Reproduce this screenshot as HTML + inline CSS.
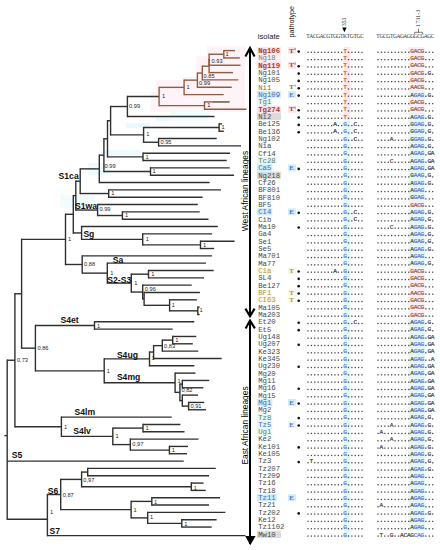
<!DOCTYPE html>
<html><head><meta charset="utf-8">
<style>
html,body{margin:0;padding:0;background:#fff;}
body{width:440px;height:550px;overflow:hidden;}
svg{display:block;}
text{font-family:"Liberation Sans",sans-serif;}
.nl{font-size:5.7px;fill:#262626;}
.cl{font-size:8.6px;font-weight:bold;fill:#111;}
.lin{font-size:8.4px;fill:#000;}
.iso{font-family:"Liberation Mono",monospace;font-size:7.3px;}
.pt{font-family:"Liberation Serif",serif;font-size:6.2px;font-weight:bold;}
.sq{font-family:"Liberation Mono",monospace;font-size:6.2px;text-anchor:middle;stroke-width:0.22px;}
.hd{font-size:7.2px;fill:#222;}
.hs{font-family:"Liberation Serif",serif;font-size:5.6px;fill:#333;text-anchor:middle;}
.sm{font-family:"Liberation Serif",serif;font-size:5.4px;fill:#222;}
</style></head>
<body><svg width="440" height="550" viewBox="0 0 440 550">
<rect width="440" height="550" fill="#fff"/>
<rect x="207" y="46" width="38" height="11" fill="#fef3f7"/>
<rect x="196" y="56" width="49" height="21" fill="#fef3f7"/>
<rect x="182" y="77" width="63" height="15" fill="#fef3f7"/>
<rect x="156" y="80" width="30" height="32" fill="#fef3f7"/>
<rect x="182" y="92" width="63" height="20" fill="#fef3f7"/>
<rect x="151" y="92" width="9" height="20" fill="#fef3f7"/>
<rect x="126" y="123" width="24" height="5" fill="#e8fafd"/>
<rect x="156" y="116" width="20" height="5" fill="#e8fafd"/>
<rect x="170" y="110" width="38" height="11" fill="#f2fbfd"/>
<rect x="102" y="150" width="38" height="6" fill="#eefafd"/>
<rect x="88" y="163" width="22" height="12" fill="#effafd"/>
<rect x="60" y="195" width="35" height="13" fill="#f2fcfd"/>
<rect x="256.8" y="47.00" width="24.20" height="7.2" fill="#fbe3ea"/>
<rect x="288" y="47.10" width="8" height="7" fill="#fbe3ea"/>
<rect x="256.8" y="54.33" width="24.20" height="7.2" fill="#fdf0f4"/>
<rect x="256.8" y="61.66" width="24.20" height="7.2" fill="#fbe3ea"/>
<rect x="288" y="61.76" width="8" height="7" fill="#fbe3ea"/>
<rect x="256.8" y="90.98" width="24.30" height="7.2" fill="#cdeff6"/>
<rect x="288" y="91.08" width="8" height="7" fill="#cdeff6"/>
<rect x="256.8" y="98.31" width="15.54" height="7.2" fill="#e6f7f4"/>
<rect x="256.8" y="105.64" width="24.20" height="7.2" fill="#fbe3ea"/>
<rect x="288" y="105.74" width="8" height="7" fill="#fbe3ea"/>
<rect x="256.8" y="112.97" width="24.20" height="7.2" fill="#dcdcdc"/>
<rect x="256.8" y="156.95" width="19.92" height="7.2" fill="#e6f7f4"/>
<rect x="256.8" y="164.28" width="15.54" height="7.2" fill="#cdeff6"/>
<rect x="288" y="164.38" width="8" height="7" fill="#cdeff6"/>
<rect x="256.8" y="171.61" width="24.20" height="7.2" fill="#dcdcdc"/>
<rect x="256.8" y="208.26" width="15.54" height="7.2" fill="#cdeff6"/>
<rect x="288" y="208.36" width="8" height="7" fill="#cdeff6"/>
<rect x="256.8" y="266.90" width="15.54" height="7.2" fill="#fdf8ec"/>
<rect x="288" y="267.00" width="8" height="7" fill="#fdf8ec"/>
<rect x="256.8" y="288.89" width="15.54" height="7.2" fill="#fdf8ec"/>
<rect x="288" y="288.99" width="8" height="7" fill="#fdf8ec"/>
<rect x="256.8" y="296.22" width="19.92" height="7.2" fill="#fdf8ec"/>
<rect x="288" y="296.32" width="8" height="7" fill="#fdf8ec"/>
<rect x="256.8" y="398.84" width="15.54" height="7.2" fill="#cdeff6"/>
<rect x="288" y="398.94" width="8" height="7" fill="#cdeff6"/>
<rect x="256.8" y="413.50" width="15.54" height="7.2" fill="#e6f7f4"/>
<rect x="256.8" y="420.83" width="15.54" height="7.2" fill="#e6f7f4"/>
<rect x="288" y="420.93" width="8" height="7" fill="#e6f7f4"/>
<rect x="256.8" y="428.16" width="15.54" height="7.2" fill="#e6f7f4"/>
<rect x="256.8" y="494.13" width="19.92" height="7.2" fill="#cdeff6"/>
<rect x="288" y="494.23" width="8" height="7" fill="#cdeff6"/>
<rect x="256.8" y="530.78" width="24.20" height="7.2" fill="#dcdcdc"/>
<rect x="343.5" y="46.90" width="7" height="73.37" fill="#fce6ee"/>
<rect x="343.5" y="120.20" width="7" height="417.88" fill="#e4f8f6"/>
<rect x="408.4" y="46.90" width="16.4" height="44.05" fill="#fcedf2"/>
<rect x="408.4" y="90.88" width="16.4" height="7.40" fill="#e2f6f8"/>
<rect x="408.4" y="98.21" width="16.4" height="14.73" fill="#fcedf2"/>
<rect x="408.4" y="112.87" width="16.4" height="88.03" fill="#e2f6f8"/>
<rect x="408.4" y="200.83" width="16.4" height="7.40" fill="#fcedf2"/>
<rect x="408.4" y="208.16" width="16.4" height="58.71" fill="#e2f6f8"/>
<rect x="408.4" y="266.80" width="16.4" height="51.38" fill="#fcedf2"/>
<rect x="408.4" y="318.11" width="16.4" height="212.64" fill="#e2f6f8"/>
<line x1="7.20" y1="359.54" x2="7.20" y2="520.00" stroke="#303030" stroke-width="1.4"/>
<line x1="7.20" y1="360.24" x2="14.90" y2="360.24" stroke="#303030" stroke-width="1.4"/>
<line x1="14.90" y1="293.07" x2="14.90" y2="427.42" stroke="#303030" stroke-width="1.4"/>
<line x1="14.90" y1="293.77" x2="21.60" y2="293.77" stroke="#303030" stroke-width="1.4"/>
<line x1="21.60" y1="238.68" x2="21.60" y2="348.85" stroke="#303030" stroke-width="1.4"/>
<line x1="21.60" y1="239.38" x2="65.50" y2="239.38" stroke="#303030" stroke-width="1.4"/>
<line x1="65.50" y1="213.57" x2="65.50" y2="265.19" stroke="#303030" stroke-width="1.4"/>
<line x1="65.50" y1="214.27" x2="73.30" y2="214.27" stroke="#303030" stroke-width="1.4"/>
<line x1="73.30" y1="194.91" x2="73.30" y2="233.63" stroke="#303030" stroke-width="1.4"/>
<line x1="73.30" y1="195.61" x2="75.80" y2="195.61" stroke="#303030" stroke-width="1.4"/>
<line x1="75.80" y1="180.50" x2="75.80" y2="210.73" stroke="#303030" stroke-width="1.4"/>
<line x1="75.80" y1="181.20" x2="80.20" y2="181.20" stroke="#303030" stroke-width="1.4"/>
<line x1="80.20" y1="168.16" x2="80.20" y2="194.23" stroke="#303030" stroke-width="1.4"/>
<line x1="80.20" y1="168.86" x2="99.30" y2="168.86" stroke="#303030" stroke-width="1.4"/>
<line x1="99.30" y1="154.47" x2="99.30" y2="183.24" stroke="#303030" stroke-width="1.4"/>
<line x1="99.30" y1="155.17" x2="103.90" y2="155.17" stroke="#303030" stroke-width="1.4"/>
<line x1="103.90" y1="138.10" x2="103.90" y2="172.25" stroke="#303030" stroke-width="1.4"/>
<line x1="103.90" y1="138.80" x2="107.50" y2="138.80" stroke="#303030" stroke-width="1.4"/>
<line x1="107.50" y1="120.01" x2="107.50" y2="157.58" stroke="#303030" stroke-width="1.4"/>
<line x1="107.50" y1="120.71" x2="110.60" y2="120.71" stroke="#303030" stroke-width="1.4"/>
<line x1="110.60" y1="105.82" x2="110.60" y2="135.59" stroke="#303030" stroke-width="1.4"/>
<line x1="110.60" y1="106.52" x2="127.40" y2="106.52" stroke="#303030" stroke-width="1.4"/>
<line x1="127.40" y1="95.77" x2="127.40" y2="117.27" stroke="#303030" stroke-width="1.4"/>
<line x1="127.40" y1="96.47" x2="159.10" y2="96.47" stroke="#303030" stroke-width="1.4"/>
<line x1="159.10" y1="86.66" x2="159.10" y2="106.28" stroke="#8e5c42" stroke-width="1.4"/>
<line x1="159.10" y1="87.36" x2="184.10" y2="87.36" stroke="#8e5c42" stroke-width="1.4"/>
<line x1="184.10" y1="79.45" x2="184.10" y2="95.28" stroke="#8e5c42" stroke-width="1.4"/>
<line x1="184.10" y1="80.15" x2="197.40" y2="80.15" stroke="#8e5c42" stroke-width="1.4"/>
<line x1="197.40" y1="72.35" x2="197.40" y2="87.95" stroke="#8e5c42" stroke-width="1.4"/>
<line x1="197.40" y1="73.05" x2="202.30" y2="73.05" stroke="#8e5c42" stroke-width="1.4"/>
<line x1="202.30" y1="65.48" x2="202.30" y2="80.62" stroke="#8e5c42" stroke-width="1.4"/>
<line x1="202.30" y1="66.18" x2="209.10" y2="66.18" stroke="#8e5c42" stroke-width="1.4"/>
<line x1="209.10" y1="59.06" x2="209.10" y2="73.29" stroke="#8e5c42" stroke-width="1.4"/>
<line x1="209.10" y1="59.06" x2="209.10" y2="60.46" stroke="#8e5c42" stroke-width="1.4"/>
<line x1="209.10" y1="53.56" x2="209.10" y2="65.96" stroke="#8e5c42" stroke-width="1.4"/>
<line x1="209.10" y1="54.27" x2="223.80" y2="54.27" stroke="#8e5c42" stroke-width="1.4"/>
<line x1="223.80" y1="49.90" x2="223.80" y2="58.63" stroke="#8e5c42" stroke-width="1.4"/>
<line x1="223.80" y1="50.60" x2="235.00" y2="50.60" stroke="#8e5c42" stroke-width="1.4"/>
<line x1="223.80" y1="57.93" x2="239.80" y2="57.93" stroke="#8e5c42" stroke-width="1.4"/>
<line x1="209.10" y1="65.26" x2="240.50" y2="65.26" stroke="#8e5c42" stroke-width="1.4"/>
<line x1="209.10" y1="72.59" x2="233.00" y2="72.59" stroke="#8e5c42" stroke-width="1.4"/>
<line x1="202.30" y1="79.92" x2="238.40" y2="79.92" stroke="#8e5c42" stroke-width="1.4"/>
<line x1="197.40" y1="87.25" x2="231.70" y2="87.25" stroke="#8e5c42" stroke-width="1.4"/>
<line x1="184.10" y1="94.58" x2="223.70" y2="94.58" stroke="#8e5c42" stroke-width="1.4"/>
<line x1="159.10" y1="105.58" x2="204.50" y2="105.58" stroke="#8e5c42" stroke-width="1.4"/>
<line x1="204.50" y1="101.21" x2="204.50" y2="109.94" stroke="#8e5c42" stroke-width="1.4"/>
<line x1="204.50" y1="101.91" x2="229.50" y2="101.91" stroke="#8e5c42" stroke-width="1.4"/>
<line x1="204.50" y1="109.24" x2="246.50" y2="109.24" stroke="#8e5c42" stroke-width="1.4"/>
<line x1="127.40" y1="116.57" x2="214.50" y2="116.57" stroke="#303030" stroke-width="1.4"/>
<line x1="110.60" y1="134.90" x2="143.60" y2="134.90" stroke="#303030" stroke-width="1.4"/>
<line x1="143.60" y1="126.86" x2="143.60" y2="142.93" stroke="#303030" stroke-width="1.4"/>
<line x1="143.60" y1="127.56" x2="219.10" y2="127.56" stroke="#303030" stroke-width="1.4"/>
<line x1="219.10" y1="123.20" x2="219.10" y2="131.93" stroke="#303030" stroke-width="1.4"/>
<line x1="219.10" y1="123.90" x2="222.00" y2="123.90" stroke="#303030" stroke-width="1.4"/>
<line x1="219.10" y1="131.23" x2="223.80" y2="131.23" stroke="#303030" stroke-width="1.4"/>
<line x1="143.60" y1="142.23" x2="158.60" y2="142.23" stroke="#303030" stroke-width="1.4"/>
<line x1="158.60" y1="137.86" x2="158.60" y2="146.59" stroke="#303030" stroke-width="1.4"/>
<line x1="158.60" y1="138.56" x2="216.70" y2="138.56" stroke="#303030" stroke-width="1.4"/>
<line x1="158.60" y1="145.89" x2="241.00" y2="145.89" stroke="#303030" stroke-width="1.4"/>
<line x1="107.50" y1="156.88" x2="143.00" y2="156.88" stroke="#303030" stroke-width="1.4"/>
<line x1="143.00" y1="152.52" x2="143.00" y2="161.25" stroke="#303030" stroke-width="1.4"/>
<line x1="143.00" y1="153.22" x2="230.00" y2="153.22" stroke="#303030" stroke-width="1.4"/>
<line x1="143.00" y1="160.55" x2="226.70" y2="160.55" stroke="#303030" stroke-width="1.4"/>
<line x1="103.90" y1="171.55" x2="150.50" y2="171.55" stroke="#303030" stroke-width="1.4"/>
<line x1="150.50" y1="167.18" x2="150.50" y2="175.91" stroke="#303030" stroke-width="1.4"/>
<line x1="150.50" y1="167.88" x2="229.70" y2="167.88" stroke="#303030" stroke-width="1.4"/>
<line x1="150.50" y1="175.21" x2="234.00" y2="175.21" stroke="#303030" stroke-width="1.4"/>
<line x1="99.30" y1="182.54" x2="209.60" y2="182.54" stroke="#303030" stroke-width="1.4"/>
<line x1="80.20" y1="193.53" x2="108.70" y2="193.53" stroke="#303030" stroke-width="1.4"/>
<line x1="108.70" y1="189.17" x2="108.70" y2="197.90" stroke="#303030" stroke-width="1.4"/>
<line x1="108.70" y1="189.87" x2="221.00" y2="189.87" stroke="#303030" stroke-width="1.4"/>
<line x1="108.70" y1="197.20" x2="202.60" y2="197.20" stroke="#303030" stroke-width="1.4"/>
<line x1="75.80" y1="210.03" x2="97.60" y2="210.03" stroke="#303030" stroke-width="1.4"/>
<line x1="97.60" y1="203.83" x2="97.60" y2="216.22" stroke="#303030" stroke-width="1.4"/>
<line x1="97.60" y1="204.53" x2="197.80" y2="204.53" stroke="#303030" stroke-width="1.4"/>
<line x1="97.60" y1="215.52" x2="122.40" y2="215.52" stroke="#303030" stroke-width="1.4"/>
<line x1="122.40" y1="211.16" x2="122.40" y2="219.89" stroke="#303030" stroke-width="1.4"/>
<line x1="122.40" y1="211.86" x2="199.70" y2="211.86" stroke="#303030" stroke-width="1.4"/>
<line x1="122.40" y1="219.19" x2="208.50" y2="219.19" stroke="#303030" stroke-width="1.4"/>
<line x1="73.30" y1="232.93" x2="81.60" y2="232.93" stroke="#303030" stroke-width="1.4"/>
<line x1="81.60" y1="225.82" x2="81.60" y2="240.05" stroke="#303030" stroke-width="1.4"/>
<line x1="81.60" y1="226.52" x2="217.80" y2="226.52" stroke="#303030" stroke-width="1.4"/>
<line x1="81.60" y1="239.35" x2="142.70" y2="239.35" stroke="#303030" stroke-width="1.4"/>
<line x1="142.70" y1="233.15" x2="142.70" y2="245.54" stroke="#303030" stroke-width="1.4"/>
<line x1="142.70" y1="233.85" x2="212.10" y2="233.85" stroke="#303030" stroke-width="1.4"/>
<line x1="142.70" y1="244.84" x2="200.50" y2="244.84" stroke="#303030" stroke-width="1.4"/>
<line x1="200.50" y1="240.48" x2="200.50" y2="249.21" stroke="#303030" stroke-width="1.4"/>
<line x1="200.50" y1="241.18" x2="234.60" y2="241.18" stroke="#303030" stroke-width="1.4"/>
<line x1="200.50" y1="248.51" x2="214.20" y2="248.51" stroke="#303030" stroke-width="1.4"/>
<line x1="65.50" y1="264.49" x2="82.20" y2="264.49" stroke="#303030" stroke-width="1.4"/>
<line x1="82.20" y1="255.14" x2="82.20" y2="273.83" stroke="#303030" stroke-width="1.4"/>
<line x1="82.20" y1="255.84" x2="212.10" y2="255.84" stroke="#303030" stroke-width="1.4"/>
<line x1="82.20" y1="273.13" x2="107.30" y2="273.13" stroke="#303030" stroke-width="1.4"/>
<line x1="107.30" y1="262.47" x2="107.30" y2="283.80" stroke="#303030" stroke-width="1.4"/>
<line x1="107.30" y1="263.17" x2="206.00" y2="263.17" stroke="#303030" stroke-width="1.4"/>
<line x1="107.30" y1="283.10" x2="131.30" y2="283.10" stroke="#303030" stroke-width="1.4"/>
<line x1="131.30" y1="273.46" x2="131.30" y2="292.73" stroke="#303030" stroke-width="1.4"/>
<line x1="131.30" y1="274.16" x2="148.50" y2="274.16" stroke="#303030" stroke-width="1.4"/>
<line x1="148.50" y1="269.80" x2="148.50" y2="278.53" stroke="#303030" stroke-width="1.4"/>
<line x1="148.50" y1="270.50" x2="213.60" y2="270.50" stroke="#303030" stroke-width="1.4"/>
<line x1="148.50" y1="277.83" x2="204.00" y2="277.83" stroke="#303030" stroke-width="1.4"/>
<line x1="131.30" y1="292.03" x2="142.70" y2="292.03" stroke="#303030" stroke-width="1.4"/>
<line x1="142.70" y1="284.46" x2="142.70" y2="299.60" stroke="#303030" stroke-width="1.4"/>
<line x1="142.70" y1="285.16" x2="191.70" y2="285.16" stroke="#303030" stroke-width="1.4"/>
<line x1="142.70" y1="298.90" x2="144.10" y2="298.90" stroke="#303030" stroke-width="1.4"/>
<line x1="144.10" y1="291.79" x2="144.10" y2="306.02" stroke="#303030" stroke-width="1.4"/>
<line x1="144.10" y1="292.49" x2="199.90" y2="292.49" stroke="#303030" stroke-width="1.4"/>
<line x1="144.10" y1="305.32" x2="169.60" y2="305.32" stroke="#303030" stroke-width="1.4"/>
<line x1="169.60" y1="299.12" x2="169.60" y2="311.52" stroke="#303030" stroke-width="1.4"/>
<line x1="169.60" y1="299.82" x2="196.80" y2="299.82" stroke="#303030" stroke-width="1.4"/>
<line x1="169.60" y1="310.82" x2="197.80" y2="310.82" stroke="#303030" stroke-width="1.4"/>
<line x1="197.80" y1="306.45" x2="197.80" y2="315.18" stroke="#303030" stroke-width="1.4"/>
<line x1="197.80" y1="307.15" x2="199.60" y2="307.15" stroke="#303030" stroke-width="1.4"/>
<line x1="197.80" y1="314.48" x2="199.60" y2="314.48" stroke="#303030" stroke-width="1.4"/>
<line x1="21.60" y1="348.15" x2="35.40" y2="348.15" stroke="#303030" stroke-width="1.4"/>
<line x1="35.40" y1="324.78" x2="35.40" y2="371.53" stroke="#303030" stroke-width="1.4"/>
<line x1="35.40" y1="325.48" x2="94.50" y2="325.48" stroke="#303030" stroke-width="1.4"/>
<line x1="94.50" y1="321.11" x2="94.50" y2="329.84" stroke="#303030" stroke-width="1.4"/>
<line x1="94.50" y1="321.81" x2="194.30" y2="321.81" stroke="#303030" stroke-width="1.4"/>
<line x1="94.50" y1="329.14" x2="172.70" y2="329.14" stroke="#303030" stroke-width="1.4"/>
<line x1="35.40" y1="370.83" x2="104.20" y2="370.83" stroke="#303030" stroke-width="1.4"/>
<line x1="104.20" y1="358.22" x2="104.20" y2="383.44" stroke="#303030" stroke-width="1.4"/>
<line x1="104.20" y1="358.92" x2="149.50" y2="358.92" stroke="#303030" stroke-width="1.4"/>
<line x1="149.50" y1="351.35" x2="149.50" y2="366.49" stroke="#303030" stroke-width="1.4"/>
<line x1="149.50" y1="352.05" x2="153.60" y2="352.05" stroke="#303030" stroke-width="1.4"/>
<line x1="153.60" y1="344.93" x2="153.60" y2="359.16" stroke="#303030" stroke-width="1.4"/>
<line x1="153.60" y1="345.63" x2="162.30" y2="345.63" stroke="#303030" stroke-width="1.4"/>
<line x1="162.30" y1="339.44" x2="162.30" y2="351.83" stroke="#303030" stroke-width="1.4"/>
<line x1="162.30" y1="340.13" x2="172.70" y2="340.13" stroke="#303030" stroke-width="1.4"/>
<line x1="172.70" y1="335.77" x2="172.70" y2="344.50" stroke="#303030" stroke-width="1.4"/>
<line x1="172.70" y1="336.47" x2="196.30" y2="336.47" stroke="#303030" stroke-width="1.4"/>
<line x1="172.70" y1="343.80" x2="192.80" y2="343.80" stroke="#303030" stroke-width="1.4"/>
<line x1="162.30" y1="351.13" x2="198.20" y2="351.13" stroke="#303030" stroke-width="1.4"/>
<line x1="153.60" y1="358.46" x2="221.60" y2="358.46" stroke="#303030" stroke-width="1.4"/>
<line x1="149.50" y1="365.79" x2="194.40" y2="365.79" stroke="#303030" stroke-width="1.4"/>
<line x1="104.20" y1="382.74" x2="175.10" y2="382.74" stroke="#303030" stroke-width="1.4"/>
<line x1="175.10" y1="372.42" x2="175.10" y2="393.06" stroke="#303030" stroke-width="1.4"/>
<line x1="175.10" y1="373.12" x2="195.50" y2="373.12" stroke="#303030" stroke-width="1.4"/>
<line x1="175.10" y1="392.36" x2="179.90" y2="392.36" stroke="#303030" stroke-width="1.4"/>
<line x1="179.90" y1="383.42" x2="179.90" y2="401.31" stroke="#303030" stroke-width="1.4"/>
<line x1="179.90" y1="384.12" x2="182.30" y2="384.12" stroke="#303030" stroke-width="1.4"/>
<line x1="182.30" y1="379.75" x2="182.30" y2="388.48" stroke="#303030" stroke-width="1.4"/>
<line x1="182.30" y1="380.45" x2="209.20" y2="380.45" stroke="#303030" stroke-width="1.4"/>
<line x1="182.30" y1="387.78" x2="203.30" y2="387.78" stroke="#303030" stroke-width="1.4"/>
<line x1="179.90" y1="400.61" x2="182.30" y2="400.61" stroke="#303030" stroke-width="1.4"/>
<line x1="182.30" y1="394.41" x2="182.30" y2="406.81" stroke="#303030" stroke-width="1.4"/>
<line x1="182.30" y1="395.11" x2="198.00" y2="395.11" stroke="#303030" stroke-width="1.4"/>
<line x1="182.30" y1="406.11" x2="188.60" y2="406.11" stroke="#303030" stroke-width="1.4"/>
<line x1="188.60" y1="401.74" x2="188.60" y2="410.47" stroke="#303030" stroke-width="1.4"/>
<line x1="188.60" y1="402.44" x2="204.20" y2="402.44" stroke="#303030" stroke-width="1.4"/>
<line x1="188.60" y1="409.77" x2="206.00" y2="409.77" stroke="#303030" stroke-width="1.4"/>
<line x1="14.90" y1="426.72" x2="61.40" y2="426.72" stroke="#303030" stroke-width="1.4"/>
<line x1="61.40" y1="416.40" x2="61.40" y2="437.04" stroke="#303030" stroke-width="1.4"/>
<line x1="61.40" y1="417.10" x2="171.70" y2="417.10" stroke="#303030" stroke-width="1.4"/>
<line x1="61.40" y1="436.34" x2="112.80" y2="436.34" stroke="#303030" stroke-width="1.4"/>
<line x1="112.80" y1="427.40" x2="112.80" y2="445.29" stroke="#303030" stroke-width="1.4"/>
<line x1="112.80" y1="428.10" x2="143.00" y2="428.10" stroke="#303030" stroke-width="1.4"/>
<line x1="143.00" y1="423.73" x2="143.00" y2="432.46" stroke="#303030" stroke-width="1.4"/>
<line x1="143.00" y1="424.43" x2="180.40" y2="424.43" stroke="#303030" stroke-width="1.4"/>
<line x1="143.00" y1="431.76" x2="184.50" y2="431.76" stroke="#303030" stroke-width="1.4"/>
<line x1="112.80" y1="444.59" x2="130.30" y2="444.59" stroke="#303030" stroke-width="1.4"/>
<line x1="130.30" y1="438.39" x2="130.30" y2="450.79" stroke="#303030" stroke-width="1.4"/>
<line x1="130.30" y1="439.09" x2="198.50" y2="439.09" stroke="#303030" stroke-width="1.4"/>
<line x1="130.30" y1="450.09" x2="169.40" y2="450.09" stroke="#303030" stroke-width="1.4"/>
<line x1="169.40" y1="445.72" x2="169.40" y2="454.45" stroke="#303030" stroke-width="1.4"/>
<line x1="169.40" y1="446.42" x2="188.00" y2="446.42" stroke="#303030" stroke-width="1.4"/>
<line x1="169.40" y1="453.75" x2="187.00" y2="453.75" stroke="#303030" stroke-width="1.4"/>
<line x1="7.20" y1="461.08" x2="183.70" y2="461.08" stroke="#303030" stroke-width="1.4"/>
<line x1="7.20" y1="519.30" x2="47.40" y2="519.30" stroke="#303030" stroke-width="1.4"/>
<line x1="47.40" y1="493.82" x2="47.40" y2="536.28" stroke="#303030" stroke-width="1.4"/>
<line x1="47.40" y1="494.52" x2="60.70" y2="494.52" stroke="#303030" stroke-width="1.4"/>
<line x1="60.70" y1="478.71" x2="60.70" y2="510.34" stroke="#303030" stroke-width="1.4"/>
<line x1="60.70" y1="479.41" x2="81.60" y2="479.41" stroke="#303030" stroke-width="1.4"/>
<line x1="81.60" y1="471.38" x2="81.60" y2="487.44" stroke="#303030" stroke-width="1.4"/>
<line x1="81.60" y1="472.08" x2="87.70" y2="472.08" stroke="#303030" stroke-width="1.4"/>
<line x1="87.70" y1="467.71" x2="87.70" y2="476.44" stroke="#303030" stroke-width="1.4"/>
<line x1="87.70" y1="468.41" x2="215.80" y2="468.41" stroke="#303030" stroke-width="1.4"/>
<line x1="87.70" y1="475.74" x2="209.00" y2="475.74" stroke="#303030" stroke-width="1.4"/>
<line x1="81.60" y1="486.74" x2="191.30" y2="486.74" stroke="#303030" stroke-width="1.4"/>
<line x1="191.30" y1="482.37" x2="191.30" y2="491.10" stroke="#303030" stroke-width="1.4"/>
<line x1="191.30" y1="483.07" x2="203.60" y2="483.07" stroke="#303030" stroke-width="1.4"/>
<line x1="191.30" y1="490.40" x2="205.70" y2="490.40" stroke="#303030" stroke-width="1.4"/>
<line x1="60.70" y1="509.64" x2="131.10" y2="509.64" stroke="#303030" stroke-width="1.4"/>
<line x1="131.10" y1="500.69" x2="131.10" y2="518.59" stroke="#303030" stroke-width="1.4"/>
<line x1="131.10" y1="501.39" x2="151.80" y2="501.39" stroke="#303030" stroke-width="1.4"/>
<line x1="151.80" y1="497.03" x2="151.80" y2="505.76" stroke="#303030" stroke-width="1.4"/>
<line x1="151.80" y1="497.73" x2="220.00" y2="497.73" stroke="#303030" stroke-width="1.4"/>
<line x1="151.80" y1="505.06" x2="209.00" y2="505.06" stroke="#303030" stroke-width="1.4"/>
<line x1="131.10" y1="517.89" x2="147.70" y2="517.89" stroke="#303030" stroke-width="1.4"/>
<line x1="147.70" y1="511.69" x2="147.70" y2="524.09" stroke="#303030" stroke-width="1.4"/>
<line x1="147.70" y1="512.39" x2="225.40" y2="512.39" stroke="#303030" stroke-width="1.4"/>
<line x1="147.70" y1="523.38" x2="181.80" y2="523.38" stroke="#303030" stroke-width="1.4"/>
<line x1="181.80" y1="519.02" x2="181.80" y2="527.75" stroke="#303030" stroke-width="1.4"/>
<line x1="181.80" y1="519.72" x2="216.60" y2="519.72" stroke="#303030" stroke-width="1.4"/>
<line x1="181.80" y1="527.05" x2="211.70" y2="527.05" stroke="#303030" stroke-width="1.4"/>
<line x1="47.40" y1="535.58" x2="245.50" y2="535.58" stroke="#303030" stroke-width="1.4"/>
<line x1="4.40" y1="435.60" x2="7.20" y2="435.60" stroke="#303030" stroke-width="1.4"/>
<line x1="213" y1="101.91" x2="229.5" y2="101.91" stroke="#4f8a5c" stroke-width="1.2"/>
<text x="225.60" y="56.20" class="nl">1</text>
<text x="211.60" y="62.50" class="nl">0.93</text>
<text x="203.60" y="77.90" class="nl">0.85</text>
<text x="199.00" y="85.20" class="nl">0.99</text>
<text x="186.40" y="88.70" class="nl">1</text>
<text x="207.20" y="106.80" class="nl">1</text>
<text x="162.00" y="97.80" class="nl">1</text>
<text x="129.10" y="108.00" class="nl">0.99</text>
<text x="221.40" y="129.30" class="nl">1</text>
<text x="160.40" y="143.60" class="nl">0.95</text>
<text x="146.30" y="135.60" class="nl">1</text>
<text x="145.60" y="158.70" class="nl">1</text>
<text x="152.60" y="173.00" class="nl">1</text>
<text x="104.60" y="168.30" class="nl">0.99</text>
<text x="111.20" y="194.90" class="nl">1</text>
<text x="124.90" y="217.20" class="nl">1</text>
<text x="99.40" y="211.30" class="nl">0.99</text>
<text x="202.90" y="246.60" class="nl">1</text>
<text x="145.70" y="240.80" class="nl">1</text>
<text x="151.30" y="275.70" class="nl">1</text>
<text x="199.60" y="312.40" class="nl">1</text>
<text x="171.80" y="307.20" class="nl">1</text>
<text x="144.80" y="290.50" class="nl">0,96</text>
<text x="134.20" y="284.80" class="nl">1</text>
<text x="110.20" y="274.90" class="nl">1</text>
<text x="84.00" y="266.20" class="nl">0,88</text>
<text x="68.00" y="240.80" class="nl">1</text>
<text x="96.90" y="327.60" class="nl">1</text>
<text x="175.30" y="341.70" class="nl">1</text>
<text x="164.00" y="348.20" class="nl">0,83</text>
<text x="151.60" y="359.80" class="nl">1</text>
<text x="190.40" y="408.20" class="nl">0,91</text>
<text x="181.40" y="392.30" class="nl">0,82</text>
<text x="177.40" y="383.20" class="nl">1</text>
<text x="106.80" y="372.60" class="nl">1</text>
<text x="37.40" y="350.20" class="nl">0,86</text>
<text x="145.50" y="430.20" class="nl">1</text>
<text x="171.70" y="452.20" class="nl">1</text>
<text x="132.30" y="446.20" class="nl">0,97</text>
<text x="115.40" y="438.20" class="nl">1</text>
<text x="64.00" y="428.70" class="nl">1</text>
<text x="16.90" y="361.70" class="nl">0,73</text>
<text x="193.70" y="489.60" class="nl">1</text>
<text x="83.30" y="481.70" class="nl">0,97</text>
<text x="154.00" y="504.00" class="nl">1</text>
<text x="184.20" y="526.00" class="nl">1</text>
<text x="150.00" y="519.40" class="nl">1</text>
<text x="133.60" y="512.00" class="nl">1</text>
<text x="62.70" y="496.90" class="nl">0,87</text>
<text x="50.00" y="514.20" class="nl">1</text>
<text x="58.6" y="179.20" class="cl">S1ca</text>
<text x="75.0" y="208.80" class="cl">S1wa</text>
<text x="83.4" y="236.80" class="cl">Sg</text>
<text x="112.7" y="262.80" class="cl">Sa</text>
<text x="107.3" y="282.80" class="cl">S2-S3</text>
<text x="60.5" y="322.80" class="cl">S4et</text>
<text x="116.9" y="358.20" class="cl">S4ug</text>
<text x="116.9" y="379.60" class="cl">S4mg</text>
<text x="74.5" y="414.60" class="cl">S4lm</text>
<text x="73.2" y="433.80" class="cl">S4lv</text>
<text x="11.8" y="457.60" class="cl">S5</text>
<text x="47.7" y="494.00" class="cl">S6</text>
<text x="49.6" y="534.10" class="cl">S7</text>
<line x1="250.0" y1="48.5" x2="250.0" y2="315.5" stroke="#000" stroke-width="2"/>
<polyline points="245.4,56.6 250.0,48 254.6,56.6" fill="none" stroke="#000" stroke-width="2.1"/>
<polyline points="245.4,308.6 250.0,316.3 254.6,308.6" fill="none" stroke="#000" stroke-width="2.1"/>
<line x1="250.0" y1="321" x2="250.0" y2="544" stroke="#000" stroke-width="2"/>
<polyline points="245.6,328.4 250.0,320.6 254.9,328.4" fill="none" stroke="#000" stroke-width="2.1"/>
<polygon points="245.2,536.1 255.6,536.1 250.3,545.2" fill="#000"/>
<text class="lin" transform="translate(248.0 191) rotate(-90)" text-anchor="middle">West African lineages</text>
<text class="lin" transform="translate(248.0 425.5) rotate(-90)" text-anchor="middle">East African lineages</text>
<text x="258.2" y="53.00" class="iso" fill="#a8402c" font-weight="bold">Ng106</text>
<text x="289.0" y="52.70" class="pt" fill="#8e5234" textLength="5" lengthAdjust="spacingAndGlyphs">T</text>
<rect x="294.7" y="48.00" width="0.8" height="2.0" fill="#8e5234"/>
<circle cx="298.7" cy="51.60" r="1.3" fill="#111"/>
<text x="258.2" y="60.33" class="iso" fill="#7a7a80" font-weight="normal">Ng18</text>
<text x="258.2" y="67.66" class="iso" fill="#a8402c" font-weight="bold">Ng119</text>
<text x="289.0" y="67.36" class="pt" fill="#8e5234" textLength="5" lengthAdjust="spacingAndGlyphs">T</text>
<rect x="294.7" y="62.66" width="0.8" height="2.0" fill="#8e5234"/>
<circle cx="298.7" cy="66.26" r="1.3" fill="#111"/>
<text x="258.2" y="74.99" class="iso" fill="#4a4a4a" font-weight="normal">Ng101</text>
<circle cx="298.7" cy="73.59" r="1.3" fill="#111"/>
<text x="258.2" y="82.32" class="iso" fill="#4a4a4a" font-weight="normal">Ng105</text>
<circle cx="298.7" cy="80.92" r="1.3" fill="#111"/>
<text x="258.2" y="89.65" class="iso" fill="#8c6a2a" font-weight="normal">Ni1</text>
<text x="289.0" y="89.35" class="pt" fill="#7a7a3a" textLength="5" lengthAdjust="spacingAndGlyphs">T</text>
<rect x="294.7" y="84.65" width="0.8" height="2.0" fill="#7a7a3a"/>
<circle cx="298.7" cy="88.25" r="1.3" fill="#111"/>
<text x="258.2" y="96.98" class="iso" fill="#4a68c8" font-weight="normal">Ng109</text>
<text x="289.2" y="96.68" class="pt" fill="#5a70c8" textLength="4.6" lengthAdjust="spacingAndGlyphs">E</text>
<circle cx="298.7" cy="95.58" r="1.3" fill="#111"/>
<text x="258.2" y="104.31" class="iso" fill="#5e7e6e" font-weight="normal">Tg1</text>
<text x="258.2" y="111.64" class="iso" fill="#a8402c" font-weight="bold">Tg274</text>
<text x="289.0" y="111.34" class="pt" fill="#8e5234" textLength="5" lengthAdjust="spacingAndGlyphs">T</text>
<rect x="294.7" y="106.64" width="0.8" height="2.0" fill="#8e5234"/>
<circle cx="298.7" cy="110.24" r="1.3" fill="#111"/>
<text x="258.2" y="118.97" class="iso" fill="#4a4a4a" font-weight="normal">Ni2</text>
<circle cx="298.7" cy="117.57" r="1.3" fill="#111"/>
<text x="258.2" y="126.30" class="iso" fill="#4a4a4a" font-weight="normal">Be125</text>
<circle cx="298.7" cy="124.90" r="1.3" fill="#111"/>
<text x="258.2" y="133.63" class="iso" fill="#4a4a4a" font-weight="normal">Be136</text>
<circle cx="298.7" cy="132.23" r="1.3" fill="#111"/>
<text x="258.2" y="140.96" class="iso" fill="#4a4a4a" font-weight="normal">Ng102</text>
<text x="258.2" y="148.29" class="iso" fill="#4a4a4a" font-weight="normal">Nia</text>
<text x="258.2" y="155.62" class="iso" fill="#4a4a4a" font-weight="normal">Cf14</text>
<text x="258.2" y="162.95" class="iso" fill="#5e7e6e" font-weight="normal">Tc28</text>
<text x="258.2" y="170.28" class="iso" fill="#4a68c8" font-weight="normal">Ca5</text>
<text x="289.2" y="169.98" class="pt" fill="#5a70c8" textLength="4.6" lengthAdjust="spacingAndGlyphs">E</text>
<circle cx="298.7" cy="168.88" r="1.3" fill="#111"/>
<text x="258.2" y="177.61" class="iso" fill="#4a4a4a" font-weight="normal">Ng218</text>
<text x="258.2" y="184.94" class="iso" fill="#4a4a4a" font-weight="normal">Cf26</text>
<text x="258.2" y="192.27" class="iso" fill="#4a4a4a" font-weight="normal">BF801</text>
<text x="258.2" y="199.60" class="iso" fill="#4a4a4a" font-weight="normal">BF810</text>
<text x="258.2" y="206.93" class="iso" fill="#4a4a4a" font-weight="normal">BF5</text>
<text x="258.2" y="214.26" class="iso" fill="#4a68c8" font-weight="normal">CI4</text>
<text x="289.2" y="213.96" class="pt" fill="#5a70c8" textLength="4.6" lengthAdjust="spacingAndGlyphs">E</text>
<circle cx="298.7" cy="212.86" r="1.3" fill="#111"/>
<text x="258.2" y="221.59" class="iso" fill="#4a4a4a" font-weight="normal">Cib</text>
<text x="258.2" y="228.92" class="iso" fill="#4a4a4a" font-weight="normal">Ma10</text>
<circle cx="298.7" cy="227.52" r="1.3" fill="#111"/>
<text x="258.2" y="236.25" class="iso" fill="#4a4a4a" font-weight="normal">Ga4</text>
<text x="258.2" y="243.58" class="iso" fill="#4a4a4a" font-weight="normal">Se1</text>
<text x="258.2" y="250.91" class="iso" fill="#4a4a4a" font-weight="normal">Se5</text>
<text x="258.2" y="258.24" class="iso" fill="#4a4a4a" font-weight="normal">Ma701</text>
<text x="258.2" y="265.57" class="iso" fill="#4a4a4a" font-weight="normal">Ma77</text>
<text x="258.2" y="272.90" class="iso" fill="#b39a3c" font-weight="normal">C1a</text>
<text x="289.2" y="272.60" class="pt" fill="#a89438" textLength="4.6" lengthAdjust="spacingAndGlyphs">T</text>
<circle cx="298.7" cy="271.50" r="1.3" fill="#111"/>
<text x="258.2" y="280.23" class="iso" fill="#4a4a4a" font-weight="normal">SL4</text>
<circle cx="298.7" cy="278.83" r="1.3" fill="#111"/>
<text x="258.2" y="287.56" class="iso" fill="#4a4a4a" font-weight="normal">Be127</text>
<circle cx="298.7" cy="286.16" r="1.3" fill="#111"/>
<text x="258.2" y="294.89" class="iso" fill="#b39a3c" font-weight="normal">BF1</text>
<text x="289.2" y="294.59" class="pt" fill="#a89438" textLength="4.6" lengthAdjust="spacingAndGlyphs">T</text>
<circle cx="298.7" cy="293.49" r="1.3" fill="#111"/>
<text x="258.2" y="302.22" class="iso" fill="#b39a3c" font-weight="normal">CI63</text>
<text x="289.2" y="301.92" class="pt" fill="#a89438" textLength="4.6" lengthAdjust="spacingAndGlyphs">T</text>
<circle cx="298.7" cy="300.82" r="1.3" fill="#111"/>
<text x="258.2" y="309.55" class="iso" fill="#4a4a4a" font-weight="normal">Ma105</text>
<text x="258.2" y="316.88" class="iso" fill="#4a4a4a" font-weight="normal">Ma203</text>
<text x="258.2" y="324.21" class="iso" fill="#4a4a4a" font-weight="normal">Et20</text>
<circle cx="298.7" cy="322.81" r="1.3" fill="#111"/>
<text x="258.2" y="331.54" class="iso" fill="#4a4a4a" font-weight="normal">Et5</text>
<circle cx="298.7" cy="330.14" r="1.3" fill="#111"/>
<text x="258.2" y="338.87" class="iso" fill="#4a4a4a" font-weight="normal">Ug148</text>
<text x="258.2" y="346.20" class="iso" fill="#4a4a4a" font-weight="normal">Ug207</text>
<circle cx="298.7" cy="344.80" r="1.3" fill="#111"/>
<text x="258.2" y="353.53" class="iso" fill="#4a4a4a" font-weight="normal">Ke323</text>
<text x="258.2" y="360.86" class="iso" fill="#4a4a4a" font-weight="normal">Ke345</text>
<text x="258.2" y="368.19" class="iso" fill="#4a4a4a" font-weight="normal">Ug230</text>
<circle cx="298.7" cy="366.79" r="1.3" fill="#111"/>
<text x="258.2" y="375.52" class="iso" fill="#4a4a4a" font-weight="normal">Mg20</text>
<text x="258.2" y="382.85" class="iso" fill="#4a4a4a" font-weight="normal">Mg11</text>
<text x="258.2" y="390.18" class="iso" fill="#4a4a4a" font-weight="normal">Mg16</text>
<circle cx="298.7" cy="388.78" r="1.3" fill="#111"/>
<text x="258.2" y="397.51" class="iso" fill="#4a4a4a" font-weight="normal">Mg15</text>
<text x="258.2" y="404.84" class="iso" fill="#4a68c8" font-weight="normal">Mg1</text>
<text x="289.2" y="404.54" class="pt" fill="#5a70c8" textLength="4.6" lengthAdjust="spacingAndGlyphs">E</text>
<circle cx="298.7" cy="403.44" r="1.3" fill="#111"/>
<text x="258.2" y="412.17" class="iso" fill="#4a4a4a" font-weight="normal">Mg2</text>
<text x="258.2" y="419.50" class="iso" fill="#5e7e6e" font-weight="normal">Tz8</text>
<circle cx="298.7" cy="418.10" r="1.3" fill="#111"/>
<text x="258.2" y="426.83" class="iso" fill="#4a68c8" font-weight="normal">Tz5</text>
<text x="289.2" y="426.53" class="pt" fill="#5a70c8" textLength="4.6" lengthAdjust="spacingAndGlyphs">E</text>
<circle cx="298.7" cy="425.43" r="1.3" fill="#111"/>
<text x="258.2" y="434.16" class="iso" fill="#5e7e6e" font-weight="normal">Ug1</text>
<text x="258.2" y="441.49" class="iso" fill="#4a4a4a" font-weight="normal">Ke2</text>
<text x="258.2" y="448.82" class="iso" fill="#4a4a4a" font-weight="normal">Ke101</text>
<circle cx="298.7" cy="447.42" r="1.3" fill="#111"/>
<text x="258.2" y="456.15" class="iso" fill="#4a4a4a" font-weight="normal">Ke105</text>
<text x="258.2" y="463.48" class="iso" fill="#4a4a4a" font-weight="normal">Tz3</text>
<circle cx="298.7" cy="462.08" r="1.3" fill="#111"/>
<text x="258.2" y="470.81" class="iso" fill="#4a4a4a" font-weight="normal">Tz207</text>
<text x="258.2" y="478.14" class="iso" fill="#4a4a4a" font-weight="normal">Tz209</text>
<text x="258.2" y="485.47" class="iso" fill="#4a4a4a" font-weight="normal">Tz16</text>
<text x="258.2" y="492.80" class="iso" fill="#4a4a4a" font-weight="normal">Tz18</text>
<text x="258.2" y="500.13" class="iso" fill="#4a68c8" font-weight="normal">Tz11</text>
<text x="289.2" y="499.83" class="pt" fill="#5a70c8" textLength="4.6" lengthAdjust="spacingAndGlyphs">E</text>
<text x="258.2" y="507.46" class="iso" fill="#4a4a4a" font-weight="normal">Tz21</text>
<text x="258.2" y="514.79" class="iso" fill="#4a4a4a" font-weight="normal">Tz202</text>
<circle cx="298.7" cy="513.39" r="1.3" fill="#111"/>
<text x="258.2" y="522.12" class="iso" fill="#4a4a4a" font-weight="normal">Ke12</text>
<text x="258.2" y="529.45" class="iso" fill="#4a4a4a" font-weight="normal">Tz1102</text>
<text x="258.2" y="536.78" class="iso" fill="#4a4a4a" font-weight="normal">Mw10</text>
<rect x="307.35" y="51.65" width="1.3" height="1.3" fill="#4a4a4a"/><rect x="310.73" y="51.65" width="1.3" height="1.3" fill="#4a4a4a"/><rect x="314.10" y="51.65" width="1.3" height="1.3" fill="#4a4a4a"/><rect x="317.48" y="51.65" width="1.3" height="1.3" fill="#4a4a4a"/><rect x="320.85" y="51.65" width="1.3" height="1.3" fill="#4a4a4a"/><rect x="324.23" y="51.65" width="1.3" height="1.3" fill="#4a4a4a"/><rect x="327.60" y="51.65" width="1.3" height="1.3" fill="#4a4a4a"/><rect x="330.98" y="51.65" width="1.3" height="1.3" fill="#4a4a4a"/><rect x="334.35" y="51.65" width="1.3" height="1.3" fill="#4a4a4a"/><rect x="337.73" y="51.65" width="1.3" height="1.3" fill="#4a4a4a"/><rect x="341.10" y="51.65" width="1.3" height="1.3" fill="#4a4a4a"/><text x="345.12" y="52.80" class="sq" fill="#b0683c" stroke="#b0683c">T</text><rect x="347.85" y="51.65" width="1.3" height="1.3" fill="#4a4a4a"/><rect x="351.23" y="51.65" width="1.3" height="1.3" fill="#4a4a4a"/><rect x="354.60" y="51.65" width="1.3" height="1.3" fill="#4a4a4a"/><rect x="357.98" y="51.65" width="1.3" height="1.3" fill="#4a4a4a"/><rect x="361.35" y="51.65" width="1.3" height="1.3" fill="#4a4a4a"/>
<rect x="377.35" y="51.65" width="1.3" height="1.3" fill="#4a4a4a"/><rect x="380.77" y="51.65" width="1.3" height="1.3" fill="#4a4a4a"/><rect x="384.19" y="51.65" width="1.3" height="1.3" fill="#4a4a4a"/><rect x="387.61" y="51.65" width="1.3" height="1.3" fill="#4a4a4a"/><rect x="391.03" y="51.65" width="1.3" height="1.3" fill="#4a4a4a"/><rect x="394.45" y="51.65" width="1.3" height="1.3" fill="#4a4a4a"/><rect x="397.87" y="51.65" width="1.3" height="1.3" fill="#4a4a4a"/><rect x="401.29" y="51.65" width="1.3" height="1.3" fill="#4a4a4a"/><rect x="404.71" y="51.65" width="1.3" height="1.3" fill="#4a4a4a"/><rect x="408.13" y="51.65" width="1.3" height="1.3" fill="#4a4a4a"/><text x="412.20" y="52.80" class="sq" fill="#8e5e48" stroke="#8e5e48">G</text><text x="415.62" y="52.80" class="sq" fill="#8e5e48" stroke="#8e5e48">A</text><text x="419.04" y="52.80" class="sq" fill="#8e5e48" stroke="#8e5e48">C</text><text x="422.46" y="52.80" class="sq" fill="#8e5e48" stroke="#8e5e48">G</text><rect x="425.23" y="51.65" width="1.3" height="1.3" fill="#4a4a4a"/><rect x="428.65" y="51.65" width="1.3" height="1.3" fill="#4a4a4a"/><rect x="432.07" y="51.65" width="1.3" height="1.3" fill="#4a4a4a"/>
<rect x="307.35" y="58.98" width="1.3" height="1.3" fill="#4a4a4a"/><rect x="310.73" y="58.98" width="1.3" height="1.3" fill="#4a4a4a"/><rect x="314.10" y="58.98" width="1.3" height="1.3" fill="#4a4a4a"/><rect x="317.48" y="58.98" width="1.3" height="1.3" fill="#4a4a4a"/><rect x="320.85" y="58.98" width="1.3" height="1.3" fill="#4a4a4a"/><rect x="324.23" y="58.98" width="1.3" height="1.3" fill="#4a4a4a"/><rect x="327.60" y="58.98" width="1.3" height="1.3" fill="#4a4a4a"/><rect x="330.98" y="58.98" width="1.3" height="1.3" fill="#4a4a4a"/><rect x="334.35" y="58.98" width="1.3" height="1.3" fill="#4a4a4a"/><rect x="337.73" y="58.98" width="1.3" height="1.3" fill="#4a4a4a"/><rect x="341.10" y="58.98" width="1.3" height="1.3" fill="#4a4a4a"/><text x="345.12" y="60.13" class="sq" fill="#b0683c" stroke="#b0683c">T</text><rect x="347.85" y="58.98" width="1.3" height="1.3" fill="#4a4a4a"/><rect x="351.23" y="58.98" width="1.3" height="1.3" fill="#4a4a4a"/><rect x="354.60" y="58.98" width="1.3" height="1.3" fill="#4a4a4a"/><rect x="357.98" y="58.98" width="1.3" height="1.3" fill="#4a4a4a"/><rect x="361.35" y="58.98" width="1.3" height="1.3" fill="#4a4a4a"/>
<rect x="377.35" y="58.98" width="1.3" height="1.3" fill="#4a4a4a"/><rect x="380.77" y="58.98" width="1.3" height="1.3" fill="#4a4a4a"/><rect x="384.19" y="58.98" width="1.3" height="1.3" fill="#4a4a4a"/><rect x="387.61" y="58.98" width="1.3" height="1.3" fill="#4a4a4a"/><rect x="391.03" y="58.98" width="1.3" height="1.3" fill="#4a4a4a"/><rect x="394.45" y="58.98" width="1.3" height="1.3" fill="#4a4a4a"/><rect x="397.87" y="58.98" width="1.3" height="1.3" fill="#4a4a4a"/><rect x="401.29" y="58.98" width="1.3" height="1.3" fill="#4a4a4a"/><rect x="404.71" y="58.98" width="1.3" height="1.3" fill="#4a4a4a"/><rect x="408.13" y="58.98" width="1.3" height="1.3" fill="#4a4a4a"/><text x="412.20" y="60.13" class="sq" fill="#8e5e48" stroke="#8e5e48">G</text><text x="415.62" y="60.13" class="sq" fill="#8e5e48" stroke="#8e5e48">A</text><text x="419.04" y="60.13" class="sq" fill="#8e5e48" stroke="#8e5e48">C</text><text x="422.46" y="60.13" class="sq" fill="#8e5e48" stroke="#8e5e48">G</text><rect x="425.23" y="58.98" width="1.3" height="1.3" fill="#4a4a4a"/><rect x="428.65" y="58.98" width="1.3" height="1.3" fill="#4a4a4a"/><rect x="432.07" y="58.98" width="1.3" height="1.3" fill="#4a4a4a"/>
<rect x="307.35" y="66.31" width="1.3" height="1.3" fill="#4a4a4a"/><rect x="310.73" y="66.31" width="1.3" height="1.3" fill="#4a4a4a"/><rect x="314.10" y="66.31" width="1.3" height="1.3" fill="#4a4a4a"/><rect x="317.48" y="66.31" width="1.3" height="1.3" fill="#4a4a4a"/><rect x="320.85" y="66.31" width="1.3" height="1.3" fill="#4a4a4a"/><rect x="324.23" y="66.31" width="1.3" height="1.3" fill="#4a4a4a"/><rect x="327.60" y="66.31" width="1.3" height="1.3" fill="#4a4a4a"/><rect x="330.98" y="66.31" width="1.3" height="1.3" fill="#4a4a4a"/><rect x="334.35" y="66.31" width="1.3" height="1.3" fill="#4a4a4a"/><rect x="337.73" y="66.31" width="1.3" height="1.3" fill="#4a4a4a"/><rect x="341.10" y="66.31" width="1.3" height="1.3" fill="#4a4a4a"/><text x="345.12" y="67.46" class="sq" fill="#b0683c" stroke="#b0683c">T</text><rect x="347.85" y="66.31" width="1.3" height="1.3" fill="#4a4a4a"/><rect x="351.23" y="66.31" width="1.3" height="1.3" fill="#4a4a4a"/><rect x="354.60" y="66.31" width="1.3" height="1.3" fill="#4a4a4a"/><rect x="357.98" y="66.31" width="1.3" height="1.3" fill="#4a4a4a"/><rect x="361.35" y="66.31" width="1.3" height="1.3" fill="#4a4a4a"/>
<rect x="377.35" y="66.31" width="1.3" height="1.3" fill="#4a4a4a"/><rect x="380.77" y="66.31" width="1.3" height="1.3" fill="#4a4a4a"/><rect x="384.19" y="66.31" width="1.3" height="1.3" fill="#4a4a4a"/><rect x="387.61" y="66.31" width="1.3" height="1.3" fill="#4a4a4a"/><rect x="391.03" y="66.31" width="1.3" height="1.3" fill="#4a4a4a"/><rect x="394.45" y="66.31" width="1.3" height="1.3" fill="#4a4a4a"/><rect x="397.87" y="66.31" width="1.3" height="1.3" fill="#4a4a4a"/><rect x="401.29" y="66.31" width="1.3" height="1.3" fill="#4a4a4a"/><rect x="404.71" y="66.31" width="1.3" height="1.3" fill="#4a4a4a"/><rect x="408.13" y="66.31" width="1.3" height="1.3" fill="#4a4a4a"/><text x="412.20" y="67.46" class="sq" fill="#8e5e48" stroke="#8e5e48">G</text><text x="415.62" y="67.46" class="sq" fill="#8e5e48" stroke="#8e5e48">A</text><text x="419.04" y="67.46" class="sq" fill="#8e5e48" stroke="#8e5e48">C</text><text x="422.46" y="67.46" class="sq" fill="#8e5e48" stroke="#8e5e48">G</text><rect x="425.23" y="66.31" width="1.3" height="1.3" fill="#4a4a4a"/><rect x="428.65" y="66.31" width="1.3" height="1.3" fill="#4a4a4a"/><rect x="432.07" y="66.31" width="1.3" height="1.3" fill="#4a4a4a"/>
<rect x="307.35" y="73.64" width="1.3" height="1.3" fill="#4a4a4a"/><rect x="310.73" y="73.64" width="1.3" height="1.3" fill="#4a4a4a"/><rect x="314.10" y="73.64" width="1.3" height="1.3" fill="#4a4a4a"/><rect x="317.48" y="73.64" width="1.3" height="1.3" fill="#4a4a4a"/><rect x="320.85" y="73.64" width="1.3" height="1.3" fill="#4a4a4a"/><rect x="324.23" y="73.64" width="1.3" height="1.3" fill="#4a4a4a"/><rect x="327.60" y="73.64" width="1.3" height="1.3" fill="#4a4a4a"/><rect x="330.98" y="73.64" width="1.3" height="1.3" fill="#4a4a4a"/><rect x="334.35" y="73.64" width="1.3" height="1.3" fill="#4a4a4a"/><rect x="337.73" y="73.64" width="1.3" height="1.3" fill="#4a4a4a"/><rect x="341.10" y="73.64" width="1.3" height="1.3" fill="#4a4a4a"/><text x="345.12" y="74.79" class="sq" fill="#b0683c" stroke="#b0683c">T</text><rect x="347.85" y="73.64" width="1.3" height="1.3" fill="#4a4a4a"/><rect x="351.23" y="73.64" width="1.3" height="1.3" fill="#4a4a4a"/><rect x="354.60" y="73.64" width="1.3" height="1.3" fill="#4a4a4a"/><rect x="357.98" y="73.64" width="1.3" height="1.3" fill="#4a4a4a"/><rect x="361.35" y="73.64" width="1.3" height="1.3" fill="#4a4a4a"/>
<rect x="377.35" y="73.64" width="1.3" height="1.3" fill="#4a4a4a"/><rect x="380.77" y="73.64" width="1.3" height="1.3" fill="#4a4a4a"/><rect x="384.19" y="73.64" width="1.3" height="1.3" fill="#4a4a4a"/><rect x="387.61" y="73.64" width="1.3" height="1.3" fill="#4a4a4a"/><rect x="391.03" y="73.64" width="1.3" height="1.3" fill="#4a4a4a"/><rect x="394.45" y="73.64" width="1.3" height="1.3" fill="#4a4a4a"/><rect x="397.87" y="73.64" width="1.3" height="1.3" fill="#4a4a4a"/><rect x="401.29" y="73.64" width="1.3" height="1.3" fill="#4a4a4a"/><rect x="404.71" y="73.64" width="1.3" height="1.3" fill="#4a4a4a"/><rect x="408.13" y="73.64" width="1.3" height="1.3" fill="#4a4a4a"/><text x="412.20" y="74.79" class="sq" fill="#8e5e48" stroke="#8e5e48">G</text><text x="415.62" y="74.79" class="sq" fill="#8e5e48" stroke="#8e5e48">A</text><text x="419.04" y="74.79" class="sq" fill="#8e5e48" stroke="#8e5e48">C</text><text x="422.46" y="74.79" class="sq" fill="#8e5e48" stroke="#8e5e48">G</text><rect x="425.23" y="73.64" width="1.3" height="1.3" fill="#4a4a4a"/><text x="429.30" y="74.79" class="sq" fill="#4a4a4a" stroke="#4a4a4a">G</text><rect x="432.07" y="73.64" width="1.3" height="1.3" fill="#4a4a4a"/>
<rect x="307.35" y="80.97" width="1.3" height="1.3" fill="#4a4a4a"/><rect x="310.73" y="80.97" width="1.3" height="1.3" fill="#4a4a4a"/><rect x="314.10" y="80.97" width="1.3" height="1.3" fill="#4a4a4a"/><rect x="317.48" y="80.97" width="1.3" height="1.3" fill="#4a4a4a"/><rect x="320.85" y="80.97" width="1.3" height="1.3" fill="#4a4a4a"/><rect x="324.23" y="80.97" width="1.3" height="1.3" fill="#4a4a4a"/><rect x="327.60" y="80.97" width="1.3" height="1.3" fill="#4a4a4a"/><rect x="330.98" y="80.97" width="1.3" height="1.3" fill="#4a4a4a"/><rect x="334.35" y="80.97" width="1.3" height="1.3" fill="#4a4a4a"/><rect x="337.73" y="80.97" width="1.3" height="1.3" fill="#4a4a4a"/><rect x="341.10" y="80.97" width="1.3" height="1.3" fill="#4a4a4a"/><text x="345.12" y="82.12" class="sq" fill="#b0683c" stroke="#b0683c">T</text><rect x="347.85" y="80.97" width="1.3" height="1.3" fill="#4a4a4a"/><rect x="351.23" y="80.97" width="1.3" height="1.3" fill="#4a4a4a"/><rect x="354.60" y="80.97" width="1.3" height="1.3" fill="#4a4a4a"/><rect x="357.98" y="80.97" width="1.3" height="1.3" fill="#4a4a4a"/><rect x="361.35" y="80.97" width="1.3" height="1.3" fill="#4a4a4a"/>
<rect x="377.35" y="80.97" width="1.3" height="1.3" fill="#4a4a4a"/><rect x="380.77" y="80.97" width="1.3" height="1.3" fill="#4a4a4a"/><rect x="384.19" y="80.97" width="1.3" height="1.3" fill="#4a4a4a"/><rect x="387.61" y="80.97" width="1.3" height="1.3" fill="#4a4a4a"/><rect x="391.03" y="80.97" width="1.3" height="1.3" fill="#4a4a4a"/><rect x="394.45" y="80.97" width="1.3" height="1.3" fill="#4a4a4a"/><rect x="397.87" y="80.97" width="1.3" height="1.3" fill="#4a4a4a"/><rect x="401.29" y="80.97" width="1.3" height="1.3" fill="#4a4a4a"/><rect x="404.71" y="80.97" width="1.3" height="1.3" fill="#4a4a4a"/><rect x="408.13" y="80.97" width="1.3" height="1.3" fill="#4a4a4a"/><text x="412.20" y="82.12" class="sq" fill="#8e5e48" stroke="#8e5e48">G</text><text x="415.62" y="82.12" class="sq" fill="#8e5e48" stroke="#8e5e48">A</text><text x="419.04" y="82.12" class="sq" fill="#8e5e48" stroke="#8e5e48">C</text><text x="422.46" y="82.12" class="sq" fill="#8e5e48" stroke="#8e5e48">G</text><rect x="425.23" y="80.97" width="1.3" height="1.3" fill="#4a4a4a"/><rect x="428.65" y="80.97" width="1.3" height="1.3" fill="#4a4a4a"/><rect x="432.07" y="80.97" width="1.3" height="1.3" fill="#4a4a4a"/>
<rect x="307.35" y="88.30" width="1.3" height="1.3" fill="#4a4a4a"/><rect x="310.73" y="88.30" width="1.3" height="1.3" fill="#4a4a4a"/><rect x="314.10" y="88.30" width="1.3" height="1.3" fill="#4a4a4a"/><rect x="317.48" y="88.30" width="1.3" height="1.3" fill="#4a4a4a"/><rect x="320.85" y="88.30" width="1.3" height="1.3" fill="#4a4a4a"/><rect x="324.23" y="88.30" width="1.3" height="1.3" fill="#4a4a4a"/><rect x="327.60" y="88.30" width="1.3" height="1.3" fill="#4a4a4a"/><rect x="330.98" y="88.30" width="1.3" height="1.3" fill="#4a4a4a"/><rect x="334.35" y="88.30" width="1.3" height="1.3" fill="#4a4a4a"/><rect x="337.73" y="88.30" width="1.3" height="1.3" fill="#4a4a4a"/><rect x="341.10" y="88.30" width="1.3" height="1.3" fill="#4a4a4a"/><text x="345.12" y="89.45" class="sq" fill="#b0683c" stroke="#b0683c">T</text><rect x="347.85" y="88.30" width="1.3" height="1.3" fill="#4a4a4a"/><rect x="351.23" y="88.30" width="1.3" height="1.3" fill="#4a4a4a"/><rect x="354.60" y="88.30" width="1.3" height="1.3" fill="#4a4a4a"/><rect x="357.98" y="88.30" width="1.3" height="1.3" fill="#4a4a4a"/><rect x="361.35" y="88.30" width="1.3" height="1.3" fill="#4a4a4a"/>
<rect x="377.35" y="88.30" width="1.3" height="1.3" fill="#4a4a4a"/><rect x="380.77" y="88.30" width="1.3" height="1.3" fill="#4a4a4a"/><rect x="384.19" y="88.30" width="1.3" height="1.3" fill="#4a4a4a"/><rect x="387.61" y="88.30" width="1.3" height="1.3" fill="#4a4a4a"/><rect x="391.03" y="88.30" width="1.3" height="1.3" fill="#4a4a4a"/><rect x="394.45" y="88.30" width="1.3" height="1.3" fill="#4a4a4a"/><rect x="397.87" y="88.30" width="1.3" height="1.3" fill="#4a4a4a"/><rect x="401.29" y="88.30" width="1.3" height="1.3" fill="#4a4a4a"/><rect x="404.71" y="88.30" width="1.3" height="1.3" fill="#4a4a4a"/><rect x="408.13" y="88.30" width="1.3" height="1.3" fill="#4a4a4a"/><text x="412.20" y="89.45" class="sq" fill="#8e5e48" stroke="#8e5e48">A</text><text x="415.62" y="89.45" class="sq" fill="#8e5e48" stroke="#8e5e48">A</text><text x="419.04" y="89.45" class="sq" fill="#8e5e48" stroke="#8e5e48">C</text><text x="422.46" y="89.45" class="sq" fill="#8e5e48" stroke="#8e5e48">G</text><rect x="425.23" y="88.30" width="1.3" height="1.3" fill="#4a4a4a"/><rect x="428.65" y="88.30" width="1.3" height="1.3" fill="#4a4a4a"/><rect x="432.07" y="88.30" width="1.3" height="1.3" fill="#4a4a4a"/>
<rect x="307.35" y="95.63" width="1.3" height="1.3" fill="#4a4a4a"/><rect x="310.73" y="95.63" width="1.3" height="1.3" fill="#4a4a4a"/><rect x="314.10" y="95.63" width="1.3" height="1.3" fill="#4a4a4a"/><rect x="317.48" y="95.63" width="1.3" height="1.3" fill="#4a4a4a"/><rect x="320.85" y="95.63" width="1.3" height="1.3" fill="#4a4a4a"/><rect x="324.23" y="95.63" width="1.3" height="1.3" fill="#4a4a4a"/><rect x="327.60" y="95.63" width="1.3" height="1.3" fill="#4a4a4a"/><rect x="330.98" y="95.63" width="1.3" height="1.3" fill="#4a4a4a"/><rect x="334.35" y="95.63" width="1.3" height="1.3" fill="#4a4a4a"/><rect x="337.73" y="95.63" width="1.3" height="1.3" fill="#4a4a4a"/><rect x="341.10" y="95.63" width="1.3" height="1.3" fill="#4a4a4a"/><text x="345.12" y="96.78" class="sq" fill="#b0683c" stroke="#b0683c">T</text><rect x="347.85" y="95.63" width="1.3" height="1.3" fill="#4a4a4a"/><rect x="351.23" y="95.63" width="1.3" height="1.3" fill="#4a4a4a"/><rect x="354.60" y="95.63" width="1.3" height="1.3" fill="#4a4a4a"/><rect x="357.98" y="95.63" width="1.3" height="1.3" fill="#4a4a4a"/><rect x="361.35" y="95.63" width="1.3" height="1.3" fill="#4a4a4a"/>
<rect x="377.35" y="95.63" width="1.3" height="1.3" fill="#4a4a4a"/><rect x="380.77" y="95.63" width="1.3" height="1.3" fill="#4a4a4a"/><rect x="384.19" y="95.63" width="1.3" height="1.3" fill="#4a4a4a"/><rect x="387.61" y="95.63" width="1.3" height="1.3" fill="#4a4a4a"/><rect x="391.03" y="95.63" width="1.3" height="1.3" fill="#4a4a4a"/><rect x="394.45" y="95.63" width="1.3" height="1.3" fill="#4a4a4a"/><rect x="397.87" y="95.63" width="1.3" height="1.3" fill="#4a4a4a"/><rect x="401.29" y="95.63" width="1.3" height="1.3" fill="#4a4a4a"/><rect x="404.71" y="95.63" width="1.3" height="1.3" fill="#4a4a4a"/><rect x="408.13" y="95.63" width="1.3" height="1.3" fill="#4a4a4a"/><text x="412.20" y="96.78" class="sq" fill="#4a5a3a" stroke="#4a5a3a">A</text><text x="415.62" y="96.78" class="sq" fill="#5a78d0" stroke="#5a78d0">G</text><text x="419.04" y="96.78" class="sq" fill="#5a78d0" stroke="#5a78d0">A</text><text x="422.46" y="96.78" class="sq" fill="#5a78d0" stroke="#5a78d0">G</text><rect x="425.23" y="95.63" width="1.3" height="1.3" fill="#4a4a4a"/><text x="429.30" y="96.78" class="sq" fill="#4a4a4a" stroke="#4a4a4a">G</text><rect x="432.07" y="95.63" width="1.3" height="1.3" fill="#4a4a4a"/>
<rect x="307.35" y="102.96" width="1.3" height="1.3" fill="#4a4a4a"/><rect x="310.73" y="102.96" width="1.3" height="1.3" fill="#4a4a4a"/><rect x="314.10" y="102.96" width="1.3" height="1.3" fill="#4a4a4a"/><rect x="317.48" y="102.96" width="1.3" height="1.3" fill="#4a4a4a"/><rect x="320.85" y="102.96" width="1.3" height="1.3" fill="#4a4a4a"/><rect x="324.23" y="102.96" width="1.3" height="1.3" fill="#4a4a4a"/><rect x="327.60" y="102.96" width="1.3" height="1.3" fill="#4a4a4a"/><rect x="330.98" y="102.96" width="1.3" height="1.3" fill="#4a4a4a"/><rect x="334.35" y="102.96" width="1.3" height="1.3" fill="#4a4a4a"/><rect x="337.73" y="102.96" width="1.3" height="1.3" fill="#4a4a4a"/><rect x="341.10" y="102.96" width="1.3" height="1.3" fill="#4a4a4a"/><text x="345.12" y="104.11" class="sq" fill="#b0683c" stroke="#b0683c">T</text><rect x="347.85" y="102.96" width="1.3" height="1.3" fill="#4a4a4a"/><rect x="351.23" y="102.96" width="1.3" height="1.3" fill="#4a4a4a"/><rect x="354.60" y="102.96" width="1.3" height="1.3" fill="#4a4a4a"/><rect x="357.98" y="102.96" width="1.3" height="1.3" fill="#4a4a4a"/><rect x="361.35" y="102.96" width="1.3" height="1.3" fill="#4a4a4a"/>
<rect x="377.35" y="102.96" width="1.3" height="1.3" fill="#4a4a4a"/><rect x="380.77" y="102.96" width="1.3" height="1.3" fill="#4a4a4a"/><rect x="384.19" y="102.96" width="1.3" height="1.3" fill="#4a4a4a"/><rect x="387.61" y="102.96" width="1.3" height="1.3" fill="#4a4a4a"/><rect x="391.03" y="102.96" width="1.3" height="1.3" fill="#4a4a4a"/><rect x="394.45" y="102.96" width="1.3" height="1.3" fill="#4a4a4a"/><rect x="397.87" y="102.96" width="1.3" height="1.3" fill="#4a4a4a"/><rect x="401.29" y="102.96" width="1.3" height="1.3" fill="#4a4a4a"/><rect x="404.71" y="102.96" width="1.3" height="1.3" fill="#4a4a4a"/><rect x="408.13" y="102.96" width="1.3" height="1.3" fill="#4a4a4a"/><text x="412.20" y="104.11" class="sq" fill="#8e5e48" stroke="#8e5e48">G</text><text x="415.62" y="104.11" class="sq" fill="#8e5e48" stroke="#8e5e48">A</text><text x="419.04" y="104.11" class="sq" fill="#8e5e48" stroke="#8e5e48">C</text><text x="422.46" y="104.11" class="sq" fill="#8e5e48" stroke="#8e5e48">G</text><rect x="425.23" y="102.96" width="1.3" height="1.3" fill="#4a4a4a"/><rect x="428.65" y="102.96" width="1.3" height="1.3" fill="#4a4a4a"/><rect x="432.07" y="102.96" width="1.3" height="1.3" fill="#4a4a4a"/>
<rect x="307.35" y="110.29" width="1.3" height="1.3" fill="#4a4a4a"/><rect x="310.73" y="110.29" width="1.3" height="1.3" fill="#4a4a4a"/><rect x="314.10" y="110.29" width="1.3" height="1.3" fill="#4a4a4a"/><rect x="317.48" y="110.29" width="1.3" height="1.3" fill="#4a4a4a"/><rect x="320.85" y="110.29" width="1.3" height="1.3" fill="#4a4a4a"/><rect x="324.23" y="110.29" width="1.3" height="1.3" fill="#4a4a4a"/><rect x="327.60" y="110.29" width="1.3" height="1.3" fill="#4a4a4a"/><rect x="330.98" y="110.29" width="1.3" height="1.3" fill="#4a4a4a"/><rect x="334.35" y="110.29" width="1.3" height="1.3" fill="#4a4a4a"/><rect x="337.73" y="110.29" width="1.3" height="1.3" fill="#4a4a4a"/><rect x="341.10" y="110.29" width="1.3" height="1.3" fill="#4a4a4a"/><text x="345.12" y="111.44" class="sq" fill="#b0683c" stroke="#b0683c">T</text><rect x="347.85" y="110.29" width="1.3" height="1.3" fill="#4a4a4a"/><rect x="351.23" y="110.29" width="1.3" height="1.3" fill="#4a4a4a"/><rect x="354.60" y="110.29" width="1.3" height="1.3" fill="#4a4a4a"/><rect x="357.98" y="110.29" width="1.3" height="1.3" fill="#4a4a4a"/><rect x="361.35" y="110.29" width="1.3" height="1.3" fill="#4a4a4a"/>
<rect x="377.35" y="110.29" width="1.3" height="1.3" fill="#4a4a4a"/><rect x="380.77" y="110.29" width="1.3" height="1.3" fill="#4a4a4a"/><rect x="384.19" y="110.29" width="1.3" height="1.3" fill="#4a4a4a"/><rect x="387.61" y="110.29" width="1.3" height="1.3" fill="#4a4a4a"/><rect x="391.03" y="110.29" width="1.3" height="1.3" fill="#4a4a4a"/><rect x="394.45" y="110.29" width="1.3" height="1.3" fill="#4a4a4a"/><rect x="397.87" y="110.29" width="1.3" height="1.3" fill="#4a4a4a"/><rect x="401.29" y="110.29" width="1.3" height="1.3" fill="#4a4a4a"/><rect x="404.71" y="110.29" width="1.3" height="1.3" fill="#4a4a4a"/><rect x="408.13" y="110.29" width="1.3" height="1.3" fill="#4a4a4a"/><text x="412.20" y="111.44" class="sq" fill="#8e5e48" stroke="#8e5e48">G</text><text x="415.62" y="111.44" class="sq" fill="#8e5e48" stroke="#8e5e48">A</text><text x="419.04" y="111.44" class="sq" fill="#8e5e48" stroke="#8e5e48">C</text><text x="422.46" y="111.44" class="sq" fill="#8e5e48" stroke="#8e5e48">G</text><rect x="425.23" y="110.29" width="1.3" height="1.3" fill="#4a4a4a"/><rect x="428.65" y="110.29" width="1.3" height="1.3" fill="#4a4a4a"/><rect x="432.07" y="110.29" width="1.3" height="1.3" fill="#4a4a4a"/>
<rect x="307.35" y="117.62" width="1.3" height="1.3" fill="#4a4a4a"/><rect x="310.73" y="117.62" width="1.3" height="1.3" fill="#4a4a4a"/><rect x="314.10" y="117.62" width="1.3" height="1.3" fill="#4a4a4a"/><rect x="317.48" y="117.62" width="1.3" height="1.3" fill="#4a4a4a"/><rect x="320.85" y="117.62" width="1.3" height="1.3" fill="#4a4a4a"/><rect x="324.23" y="117.62" width="1.3" height="1.3" fill="#4a4a4a"/><rect x="327.60" y="117.62" width="1.3" height="1.3" fill="#4a4a4a"/><rect x="330.98" y="117.62" width="1.3" height="1.3" fill="#4a4a4a"/><rect x="334.35" y="117.62" width="1.3" height="1.3" fill="#4a4a4a"/><rect x="337.73" y="117.62" width="1.3" height="1.3" fill="#4a4a4a"/><rect x="341.10" y="117.62" width="1.3" height="1.3" fill="#4a4a4a"/><text x="345.12" y="118.77" class="sq" fill="#b0683c" stroke="#b0683c">T</text><rect x="347.85" y="117.62" width="1.3" height="1.3" fill="#4a4a4a"/><rect x="351.23" y="117.62" width="1.3" height="1.3" fill="#4a4a4a"/><rect x="354.60" y="117.62" width="1.3" height="1.3" fill="#4a4a4a"/><rect x="357.98" y="117.62" width="1.3" height="1.3" fill="#4a4a4a"/><rect x="361.35" y="117.62" width="1.3" height="1.3" fill="#4a4a4a"/>
<rect x="377.35" y="117.62" width="1.3" height="1.3" fill="#4a4a4a"/><rect x="380.77" y="117.62" width="1.3" height="1.3" fill="#4a4a4a"/><rect x="384.19" y="117.62" width="1.3" height="1.3" fill="#4a4a4a"/><rect x="387.61" y="117.62" width="1.3" height="1.3" fill="#4a4a4a"/><rect x="391.03" y="117.62" width="1.3" height="1.3" fill="#4a4a4a"/><rect x="394.45" y="117.62" width="1.3" height="1.3" fill="#4a4a4a"/><rect x="397.87" y="117.62" width="1.3" height="1.3" fill="#4a4a4a"/><rect x="401.29" y="117.62" width="1.3" height="1.3" fill="#4a4a4a"/><rect x="404.71" y="117.62" width="1.3" height="1.3" fill="#4a4a4a"/><rect x="408.13" y="117.62" width="1.3" height="1.3" fill="#4a4a4a"/><text x="412.20" y="118.77" class="sq" fill="#4a5a3a" stroke="#4a5a3a">A</text><text x="415.62" y="118.77" class="sq" fill="#5a78d0" stroke="#5a78d0">G</text><text x="419.04" y="118.77" class="sq" fill="#5a78d0" stroke="#5a78d0">A</text><text x="422.46" y="118.77" class="sq" fill="#5a78d0" stroke="#5a78d0">G</text><rect x="425.23" y="117.62" width="1.3" height="1.3" fill="#4a4a4a"/><text x="429.30" y="118.77" class="sq" fill="#4a4a4a" stroke="#4a4a4a">G</text><rect x="432.07" y="117.62" width="1.3" height="1.3" fill="#4a4a4a"/>
<rect x="307.35" y="124.95" width="1.3" height="1.3" fill="#4a4a4a"/><rect x="310.73" y="124.95" width="1.3" height="1.3" fill="#4a4a4a"/><rect x="314.10" y="124.95" width="1.3" height="1.3" fill="#4a4a4a"/><rect x="317.48" y="124.95" width="1.3" height="1.3" fill="#4a4a4a"/><rect x="320.85" y="124.95" width="1.3" height="1.3" fill="#4a4a4a"/><rect x="324.23" y="124.95" width="1.3" height="1.3" fill="#4a4a4a"/><rect x="327.60" y="124.95" width="1.3" height="1.3" fill="#4a4a4a"/><rect x="330.98" y="124.95" width="1.3" height="1.3" fill="#4a4a4a"/><text x="335.00" y="126.10" class="sq" fill="#3a3a3a" stroke="#3a3a3a">A</text><rect x="337.73" y="124.95" width="1.3" height="1.3" fill="#4a4a4a"/><rect x="341.10" y="124.95" width="1.3" height="1.3" fill="#4a4a4a"/><text x="345.12" y="126.10" class="sq" fill="#5a78d0" stroke="#5a78d0">G</text><rect x="347.85" y="124.95" width="1.3" height="1.3" fill="#4a4a4a"/><rect x="351.23" y="124.95" width="1.3" height="1.3" fill="#4a4a4a"/><text x="355.25" y="126.10" class="sq" fill="#3a3a3a" stroke="#3a3a3a">C</text><rect x="357.98" y="124.95" width="1.3" height="1.3" fill="#4a4a4a"/><rect x="361.35" y="124.95" width="1.3" height="1.3" fill="#4a4a4a"/>
<rect x="377.35" y="124.95" width="1.3" height="1.3" fill="#4a4a4a"/><rect x="380.77" y="124.95" width="1.3" height="1.3" fill="#4a4a4a"/><rect x="384.19" y="124.95" width="1.3" height="1.3" fill="#4a4a4a"/><rect x="387.61" y="124.95" width="1.3" height="1.3" fill="#4a4a4a"/><rect x="391.03" y="124.95" width="1.3" height="1.3" fill="#4a4a4a"/><rect x="394.45" y="124.95" width="1.3" height="1.3" fill="#4a4a4a"/><rect x="397.87" y="124.95" width="1.3" height="1.3" fill="#4a4a4a"/><rect x="401.29" y="124.95" width="1.3" height="1.3" fill="#4a4a4a"/><rect x="404.71" y="124.95" width="1.3" height="1.3" fill="#4a4a4a"/><rect x="408.13" y="124.95" width="1.3" height="1.3" fill="#4a4a4a"/><text x="412.20" y="126.10" class="sq" fill="#4a5a3a" stroke="#4a5a3a">G</text><text x="415.62" y="126.10" class="sq" fill="#5a78d0" stroke="#5a78d0">G</text><text x="419.04" y="126.10" class="sq" fill="#5a78d0" stroke="#5a78d0">A</text><text x="422.46" y="126.10" class="sq" fill="#5a78d0" stroke="#5a78d0">G</text><rect x="425.23" y="124.95" width="1.3" height="1.3" fill="#4a4a4a"/><text x="429.30" y="126.10" class="sq" fill="#4a4a4a" stroke="#4a4a4a">G</text><rect x="432.07" y="124.95" width="1.3" height="1.3" fill="#4a4a4a"/>
<rect x="307.35" y="132.28" width="1.3" height="1.3" fill="#4a4a4a"/><rect x="310.73" y="132.28" width="1.3" height="1.3" fill="#4a4a4a"/><rect x="314.10" y="132.28" width="1.3" height="1.3" fill="#4a4a4a"/><rect x="317.48" y="132.28" width="1.3" height="1.3" fill="#4a4a4a"/><rect x="320.85" y="132.28" width="1.3" height="1.3" fill="#4a4a4a"/><rect x="324.23" y="132.28" width="1.3" height="1.3" fill="#4a4a4a"/><rect x="327.60" y="132.28" width="1.3" height="1.3" fill="#4a4a4a"/><rect x="330.98" y="132.28" width="1.3" height="1.3" fill="#4a4a4a"/><text x="335.00" y="133.43" class="sq" fill="#3a3a3a" stroke="#3a3a3a">A</text><rect x="337.73" y="132.28" width="1.3" height="1.3" fill="#4a4a4a"/><rect x="341.10" y="132.28" width="1.3" height="1.3" fill="#4a4a4a"/><text x="345.12" y="133.43" class="sq" fill="#5a78d0" stroke="#5a78d0">G</text><rect x="347.85" y="132.28" width="1.3" height="1.3" fill="#4a4a4a"/><rect x="351.23" y="132.28" width="1.3" height="1.3" fill="#4a4a4a"/><text x="355.25" y="133.43" class="sq" fill="#3a3a3a" stroke="#3a3a3a">C</text><rect x="357.98" y="132.28" width="1.3" height="1.3" fill="#4a4a4a"/><rect x="361.35" y="132.28" width="1.3" height="1.3" fill="#4a4a4a"/>
<rect x="377.35" y="132.28" width="1.3" height="1.3" fill="#4a4a4a"/><rect x="380.77" y="132.28" width="1.3" height="1.3" fill="#4a4a4a"/><rect x="384.19" y="132.28" width="1.3" height="1.3" fill="#4a4a4a"/><rect x="387.61" y="132.28" width="1.3" height="1.3" fill="#4a4a4a"/><rect x="391.03" y="132.28" width="1.3" height="1.3" fill="#4a4a4a"/><rect x="394.45" y="132.28" width="1.3" height="1.3" fill="#4a4a4a"/><rect x="397.87" y="132.28" width="1.3" height="1.3" fill="#4a4a4a"/><rect x="401.29" y="132.28" width="1.3" height="1.3" fill="#4a4a4a"/><rect x="404.71" y="132.28" width="1.3" height="1.3" fill="#4a4a4a"/><rect x="408.13" y="132.28" width="1.3" height="1.3" fill="#4a4a4a"/><text x="412.20" y="133.43" class="sq" fill="#4a5a3a" stroke="#4a5a3a">G</text><text x="415.62" y="133.43" class="sq" fill="#5a78d0" stroke="#5a78d0">G</text><text x="419.04" y="133.43" class="sq" fill="#5a78d0" stroke="#5a78d0">A</text><text x="422.46" y="133.43" class="sq" fill="#5a78d0" stroke="#5a78d0">G</text><rect x="425.23" y="132.28" width="1.3" height="1.3" fill="#4a4a4a"/><text x="429.30" y="133.43" class="sq" fill="#4a4a4a" stroke="#4a4a4a">G</text><rect x="432.07" y="132.28" width="1.3" height="1.3" fill="#4a4a4a"/>
<rect x="307.35" y="139.61" width="1.3" height="1.3" fill="#4a4a4a"/><rect x="310.73" y="139.61" width="1.3" height="1.3" fill="#4a4a4a"/><rect x="314.10" y="139.61" width="1.3" height="1.3" fill="#4a4a4a"/><rect x="317.48" y="139.61" width="1.3" height="1.3" fill="#4a4a4a"/><rect x="320.85" y="139.61" width="1.3" height="1.3" fill="#4a4a4a"/><rect x="324.23" y="139.61" width="1.3" height="1.3" fill="#4a4a4a"/><rect x="327.60" y="139.61" width="1.3" height="1.3" fill="#4a4a4a"/><rect x="330.98" y="139.61" width="1.3" height="1.3" fill="#4a4a4a"/><rect x="334.35" y="139.61" width="1.3" height="1.3" fill="#4a4a4a"/><rect x="337.73" y="139.61" width="1.3" height="1.3" fill="#4a4a4a"/><rect x="341.10" y="139.61" width="1.3" height="1.3" fill="#4a4a4a"/><text x="345.12" y="140.76" class="sq" fill="#5a78d0" stroke="#5a78d0">G</text><rect x="347.85" y="139.61" width="1.3" height="1.3" fill="#4a4a4a"/><rect x="351.23" y="139.61" width="1.3" height="1.3" fill="#4a4a4a"/><text x="355.25" y="140.76" class="sq" fill="#3a3a3a" stroke="#3a3a3a">C</text><rect x="357.98" y="139.61" width="1.3" height="1.3" fill="#4a4a4a"/><rect x="361.35" y="139.61" width="1.3" height="1.3" fill="#4a4a4a"/>
<rect x="377.35" y="139.61" width="1.3" height="1.3" fill="#4a4a4a"/><rect x="380.77" y="139.61" width="1.3" height="1.3" fill="#4a4a4a"/><rect x="384.19" y="139.61" width="1.3" height="1.3" fill="#4a4a4a"/><rect x="387.61" y="139.61" width="1.3" height="1.3" fill="#4a4a4a"/><text x="391.68" y="140.76" class="sq" fill="#4a4a4a" stroke="#4a4a4a">A</text><rect x="394.45" y="139.61" width="1.3" height="1.3" fill="#4a4a4a"/><rect x="397.87" y="139.61" width="1.3" height="1.3" fill="#4a4a4a"/><rect x="401.29" y="139.61" width="1.3" height="1.3" fill="#4a4a4a"/><rect x="404.71" y="139.61" width="1.3" height="1.3" fill="#4a4a4a"/><rect x="408.13" y="139.61" width="1.3" height="1.3" fill="#4a4a4a"/><text x="412.20" y="140.76" class="sq" fill="#4a5a3a" stroke="#4a5a3a">G</text><text x="415.62" y="140.76" class="sq" fill="#5a78d0" stroke="#5a78d0">G</text><text x="419.04" y="140.76" class="sq" fill="#5a78d0" stroke="#5a78d0">A</text><text x="422.46" y="140.76" class="sq" fill="#5a78d0" stroke="#5a78d0">G</text><rect x="425.23" y="139.61" width="1.3" height="1.3" fill="#4a4a4a"/><text x="429.30" y="140.76" class="sq" fill="#4a4a4a" stroke="#4a4a4a">G</text><rect x="432.07" y="139.61" width="1.3" height="1.3" fill="#4a4a4a"/>
<rect x="307.35" y="146.94" width="1.3" height="1.3" fill="#4a4a4a"/><rect x="310.73" y="146.94" width="1.3" height="1.3" fill="#4a4a4a"/><rect x="314.10" y="146.94" width="1.3" height="1.3" fill="#4a4a4a"/><rect x="317.48" y="146.94" width="1.3" height="1.3" fill="#4a4a4a"/><rect x="320.85" y="146.94" width="1.3" height="1.3" fill="#4a4a4a"/><rect x="324.23" y="146.94" width="1.3" height="1.3" fill="#4a4a4a"/><rect x="327.60" y="146.94" width="1.3" height="1.3" fill="#4a4a4a"/><rect x="330.98" y="146.94" width="1.3" height="1.3" fill="#4a4a4a"/><rect x="334.35" y="146.94" width="1.3" height="1.3" fill="#4a4a4a"/><rect x="337.73" y="146.94" width="1.3" height="1.3" fill="#4a4a4a"/><rect x="341.10" y="146.94" width="1.3" height="1.3" fill="#4a4a4a"/><text x="345.12" y="148.09" class="sq" fill="#5a78d0" stroke="#5a78d0">G</text><rect x="347.85" y="146.94" width="1.3" height="1.3" fill="#4a4a4a"/><rect x="351.23" y="146.94" width="1.3" height="1.3" fill="#4a4a4a"/><rect x="354.60" y="146.94" width="1.3" height="1.3" fill="#4a4a4a"/><rect x="357.98" y="146.94" width="1.3" height="1.3" fill="#4a4a4a"/><rect x="361.35" y="146.94" width="1.3" height="1.3" fill="#4a4a4a"/>
<rect x="377.35" y="146.94" width="1.3" height="1.3" fill="#4a4a4a"/><rect x="380.77" y="146.94" width="1.3" height="1.3" fill="#4a4a4a"/><rect x="384.19" y="146.94" width="1.3" height="1.3" fill="#4a4a4a"/><rect x="387.61" y="146.94" width="1.3" height="1.3" fill="#4a4a4a"/><rect x="391.03" y="146.94" width="1.3" height="1.3" fill="#4a4a4a"/><rect x="394.45" y="146.94" width="1.3" height="1.3" fill="#4a4a4a"/><rect x="397.87" y="146.94" width="1.3" height="1.3" fill="#4a4a4a"/><rect x="401.29" y="146.94" width="1.3" height="1.3" fill="#4a4a4a"/><rect x="404.71" y="146.94" width="1.3" height="1.3" fill="#4a4a4a"/><rect x="408.13" y="146.94" width="1.3" height="1.3" fill="#4a4a4a"/><text x="412.20" y="148.09" class="sq" fill="#4a5a3a" stroke="#4a5a3a">A</text><text x="415.62" y="148.09" class="sq" fill="#5a78d0" stroke="#5a78d0">G</text><text x="419.04" y="148.09" class="sq" fill="#5a78d0" stroke="#5a78d0">A</text><text x="422.46" y="148.09" class="sq" fill="#5a78d0" stroke="#5a78d0">G</text><rect x="425.23" y="146.94" width="1.3" height="1.3" fill="#4a4a4a"/><text x="429.30" y="148.09" class="sq" fill="#4a4a4a" stroke="#4a4a4a">G</text><rect x="432.07" y="146.94" width="1.3" height="1.3" fill="#4a4a4a"/>
<rect x="307.35" y="154.27" width="1.3" height="1.3" fill="#4a4a4a"/><rect x="310.73" y="154.27" width="1.3" height="1.3" fill="#4a4a4a"/><rect x="314.10" y="154.27" width="1.3" height="1.3" fill="#4a4a4a"/><rect x="317.48" y="154.27" width="1.3" height="1.3" fill="#4a4a4a"/><rect x="320.85" y="154.27" width="1.3" height="1.3" fill="#4a4a4a"/><rect x="324.23" y="154.27" width="1.3" height="1.3" fill="#4a4a4a"/><rect x="327.60" y="154.27" width="1.3" height="1.3" fill="#4a4a4a"/><rect x="330.98" y="154.27" width="1.3" height="1.3" fill="#4a4a4a"/><rect x="334.35" y="154.27" width="1.3" height="1.3" fill="#4a4a4a"/><rect x="337.73" y="154.27" width="1.3" height="1.3" fill="#4a4a4a"/><rect x="341.10" y="154.27" width="1.3" height="1.3" fill="#4a4a4a"/><text x="345.12" y="155.42" class="sq" fill="#5a78d0" stroke="#5a78d0">G</text><rect x="347.85" y="154.27" width="1.3" height="1.3" fill="#4a4a4a"/><rect x="351.23" y="154.27" width="1.3" height="1.3" fill="#4a4a4a"/><rect x="354.60" y="154.27" width="1.3" height="1.3" fill="#4a4a4a"/><rect x="357.98" y="154.27" width="1.3" height="1.3" fill="#4a4a4a"/><rect x="361.35" y="154.27" width="1.3" height="1.3" fill="#4a4a4a"/>
<rect x="377.35" y="154.27" width="1.3" height="1.3" fill="#4a4a4a"/><rect x="380.77" y="154.27" width="1.3" height="1.3" fill="#4a4a4a"/><rect x="384.19" y="154.27" width="1.3" height="1.3" fill="#4a4a4a"/><rect x="387.61" y="154.27" width="1.3" height="1.3" fill="#4a4a4a"/><rect x="391.03" y="154.27" width="1.3" height="1.3" fill="#4a4a4a"/><rect x="394.45" y="154.27" width="1.3" height="1.3" fill="#4a4a4a"/><rect x="397.87" y="154.27" width="1.3" height="1.3" fill="#4a4a4a"/><rect x="401.29" y="154.27" width="1.3" height="1.3" fill="#4a4a4a"/><rect x="404.71" y="154.27" width="1.3" height="1.3" fill="#4a4a4a"/><rect x="408.13" y="154.27" width="1.3" height="1.3" fill="#4a4a4a"/><text x="412.20" y="155.42" class="sq" fill="#4a5a3a" stroke="#4a5a3a">A</text><text x="415.62" y="155.42" class="sq" fill="#5a78d0" stroke="#5a78d0">G</text><text x="419.04" y="155.42" class="sq" fill="#5a78d0" stroke="#5a78d0">A</text><text x="422.46" y="155.42" class="sq" fill="#5a78d0" stroke="#5a78d0">G</text><rect x="425.23" y="154.27" width="1.3" height="1.3" fill="#4a4a4a"/><text x="429.30" y="155.42" class="sq" fill="#4a4a4a" stroke="#4a4a4a">G</text><text x="432.72" y="155.42" class="sq" fill="#4a4a4a" stroke="#4a4a4a">A</text>
<rect x="307.35" y="161.60" width="1.3" height="1.3" fill="#4a4a4a"/><rect x="310.73" y="161.60" width="1.3" height="1.3" fill="#4a4a4a"/><rect x="314.10" y="161.60" width="1.3" height="1.3" fill="#4a4a4a"/><rect x="317.48" y="161.60" width="1.3" height="1.3" fill="#4a4a4a"/><rect x="320.85" y="161.60" width="1.3" height="1.3" fill="#4a4a4a"/><rect x="324.23" y="161.60" width="1.3" height="1.3" fill="#4a4a4a"/><rect x="327.60" y="161.60" width="1.3" height="1.3" fill="#4a4a4a"/><rect x="330.98" y="161.60" width="1.3" height="1.3" fill="#4a4a4a"/><rect x="334.35" y="161.60" width="1.3" height="1.3" fill="#4a4a4a"/><rect x="337.73" y="161.60" width="1.3" height="1.3" fill="#4a4a4a"/><rect x="341.10" y="161.60" width="1.3" height="1.3" fill="#4a4a4a"/><text x="345.12" y="162.75" class="sq" fill="#5a78d0" stroke="#5a78d0">G</text><rect x="347.85" y="161.60" width="1.3" height="1.3" fill="#4a4a4a"/><rect x="351.23" y="161.60" width="1.3" height="1.3" fill="#4a4a4a"/><rect x="354.60" y="161.60" width="1.3" height="1.3" fill="#4a4a4a"/><rect x="357.98" y="161.60" width="1.3" height="1.3" fill="#4a4a4a"/><rect x="361.35" y="161.60" width="1.3" height="1.3" fill="#4a4a4a"/>
<rect x="377.35" y="161.60" width="1.3" height="1.3" fill="#4a4a4a"/><rect x="380.77" y="161.60" width="1.3" height="1.3" fill="#4a4a4a"/><rect x="384.19" y="161.60" width="1.3" height="1.3" fill="#4a4a4a"/><rect x="387.61" y="161.60" width="1.3" height="1.3" fill="#4a4a4a"/><text x="391.68" y="162.75" class="sq" fill="#4a4a4a" stroke="#4a4a4a">C</text><rect x="394.45" y="161.60" width="1.3" height="1.3" fill="#4a4a4a"/><rect x="397.87" y="161.60" width="1.3" height="1.3" fill="#4a4a4a"/><rect x="401.29" y="161.60" width="1.3" height="1.3" fill="#4a4a4a"/><rect x="404.71" y="161.60" width="1.3" height="1.3" fill="#4a4a4a"/><rect x="408.13" y="161.60" width="1.3" height="1.3" fill="#4a4a4a"/><text x="412.20" y="162.75" class="sq" fill="#4a5a3a" stroke="#4a5a3a">A</text><text x="415.62" y="162.75" class="sq" fill="#5a78d0" stroke="#5a78d0">G</text><text x="419.04" y="162.75" class="sq" fill="#5a78d0" stroke="#5a78d0">A</text><text x="422.46" y="162.75" class="sq" fill="#5a78d0" stroke="#5a78d0">G</text><rect x="425.23" y="161.60" width="1.3" height="1.3" fill="#4a4a4a"/><text x="429.30" y="162.75" class="sq" fill="#4a4a4a" stroke="#4a4a4a">G</text><text x="432.72" y="162.75" class="sq" fill="#4a4a4a" stroke="#4a4a4a">A</text>
<rect x="307.35" y="168.93" width="1.3" height="1.3" fill="#4a4a4a"/><rect x="310.73" y="168.93" width="1.3" height="1.3" fill="#4a4a4a"/><rect x="314.10" y="168.93" width="1.3" height="1.3" fill="#4a4a4a"/><rect x="317.48" y="168.93" width="1.3" height="1.3" fill="#4a4a4a"/><rect x="320.85" y="168.93" width="1.3" height="1.3" fill="#4a4a4a"/><rect x="324.23" y="168.93" width="1.3" height="1.3" fill="#4a4a4a"/><rect x="327.60" y="168.93" width="1.3" height="1.3" fill="#4a4a4a"/><rect x="330.98" y="168.93" width="1.3" height="1.3" fill="#4a4a4a"/><rect x="334.35" y="168.93" width="1.3" height="1.3" fill="#4a4a4a"/><rect x="337.73" y="168.93" width="1.3" height="1.3" fill="#4a4a4a"/><rect x="341.10" y="168.93" width="1.3" height="1.3" fill="#4a4a4a"/><text x="345.12" y="170.08" class="sq" fill="#5a78d0" stroke="#5a78d0">G</text><rect x="347.85" y="168.93" width="1.3" height="1.3" fill="#4a4a4a"/><rect x="351.23" y="168.93" width="1.3" height="1.3" fill="#4a4a4a"/><rect x="354.60" y="168.93" width="1.3" height="1.3" fill="#4a4a4a"/><rect x="357.98" y="168.93" width="1.3" height="1.3" fill="#4a4a4a"/><rect x="361.35" y="168.93" width="1.3" height="1.3" fill="#4a4a4a"/>
<rect x="377.35" y="168.93" width="1.3" height="1.3" fill="#4a4a4a"/><rect x="380.77" y="168.93" width="1.3" height="1.3" fill="#4a4a4a"/><rect x="384.19" y="168.93" width="1.3" height="1.3" fill="#4a4a4a"/><rect x="387.61" y="168.93" width="1.3" height="1.3" fill="#4a4a4a"/><rect x="391.03" y="168.93" width="1.3" height="1.3" fill="#4a4a4a"/><rect x="394.45" y="168.93" width="1.3" height="1.3" fill="#4a4a4a"/><rect x="397.87" y="168.93" width="1.3" height="1.3" fill="#4a4a4a"/><rect x="401.29" y="168.93" width="1.3" height="1.3" fill="#4a4a4a"/><rect x="404.71" y="168.93" width="1.3" height="1.3" fill="#4a4a4a"/><rect x="408.13" y="168.93" width="1.3" height="1.3" fill="#4a4a4a"/><text x="412.20" y="170.08" class="sq" fill="#4a5a3a" stroke="#4a5a3a">A</text><text x="415.62" y="170.08" class="sq" fill="#5a78d0" stroke="#5a78d0">G</text><text x="419.04" y="170.08" class="sq" fill="#5a78d0" stroke="#5a78d0">A</text><text x="422.46" y="170.08" class="sq" fill="#5a78d0" stroke="#5a78d0">G</text><rect x="425.23" y="168.93" width="1.3" height="1.3" fill="#4a4a4a"/><text x="429.30" y="170.08" class="sq" fill="#4a4a4a" stroke="#4a4a4a">G</text><text x="432.72" y="170.08" class="sq" fill="#4a4a4a" stroke="#4a4a4a">A</text>
<rect x="307.35" y="176.26" width="1.3" height="1.3" fill="#4a4a4a"/><rect x="310.73" y="176.26" width="1.3" height="1.3" fill="#4a4a4a"/><rect x="314.10" y="176.26" width="1.3" height="1.3" fill="#4a4a4a"/><rect x="317.48" y="176.26" width="1.3" height="1.3" fill="#4a4a4a"/><rect x="320.85" y="176.26" width="1.3" height="1.3" fill="#4a4a4a"/><rect x="324.23" y="176.26" width="1.3" height="1.3" fill="#4a4a4a"/><rect x="327.60" y="176.26" width="1.3" height="1.3" fill="#4a4a4a"/><rect x="330.98" y="176.26" width="1.3" height="1.3" fill="#4a4a4a"/><rect x="334.35" y="176.26" width="1.3" height="1.3" fill="#4a4a4a"/><rect x="337.73" y="176.26" width="1.3" height="1.3" fill="#4a4a4a"/><rect x="341.10" y="176.26" width="1.3" height="1.3" fill="#4a4a4a"/><text x="345.12" y="177.41" class="sq" fill="#5a78d0" stroke="#5a78d0">G</text><rect x="347.85" y="176.26" width="1.3" height="1.3" fill="#4a4a4a"/><rect x="351.23" y="176.26" width="1.3" height="1.3" fill="#4a4a4a"/><rect x="354.60" y="176.26" width="1.3" height="1.3" fill="#4a4a4a"/><rect x="357.98" y="176.26" width="1.3" height="1.3" fill="#4a4a4a"/><rect x="361.35" y="176.26" width="1.3" height="1.3" fill="#4a4a4a"/>
<rect x="377.35" y="176.26" width="1.3" height="1.3" fill="#4a4a4a"/><rect x="380.77" y="176.26" width="1.3" height="1.3" fill="#4a4a4a"/><rect x="384.19" y="176.26" width="1.3" height="1.3" fill="#4a4a4a"/><rect x="387.61" y="176.26" width="1.3" height="1.3" fill="#4a4a4a"/><rect x="391.03" y="176.26" width="1.3" height="1.3" fill="#4a4a4a"/><rect x="394.45" y="176.26" width="1.3" height="1.3" fill="#4a4a4a"/><rect x="397.87" y="176.26" width="1.3" height="1.3" fill="#4a4a4a"/><rect x="401.29" y="176.26" width="1.3" height="1.3" fill="#4a4a4a"/><rect x="404.71" y="176.26" width="1.3" height="1.3" fill="#4a4a4a"/><rect x="408.13" y="176.26" width="1.3" height="1.3" fill="#4a4a4a"/><text x="412.20" y="177.41" class="sq" fill="#4a5a3a" stroke="#4a5a3a">G</text><text x="415.62" y="177.41" class="sq" fill="#5a78d0" stroke="#5a78d0">A</text><text x="419.04" y="177.41" class="sq" fill="#5a78d0" stroke="#5a78d0">A</text><text x="422.46" y="177.41" class="sq" fill="#5a78d0" stroke="#5a78d0">G</text><rect x="425.23" y="176.26" width="1.3" height="1.3" fill="#4a4a4a"/><text x="429.30" y="177.41" class="sq" fill="#4a4a4a" stroke="#4a4a4a">G</text><rect x="432.07" y="176.26" width="1.3" height="1.3" fill="#4a4a4a"/>
<rect x="307.35" y="183.59" width="1.3" height="1.3" fill="#4a4a4a"/><rect x="310.73" y="183.59" width="1.3" height="1.3" fill="#4a4a4a"/><rect x="314.10" y="183.59" width="1.3" height="1.3" fill="#4a4a4a"/><rect x="317.48" y="183.59" width="1.3" height="1.3" fill="#4a4a4a"/><rect x="320.85" y="183.59" width="1.3" height="1.3" fill="#4a4a4a"/><rect x="324.23" y="183.59" width="1.3" height="1.3" fill="#4a4a4a"/><rect x="327.60" y="183.59" width="1.3" height="1.3" fill="#4a4a4a"/><rect x="330.98" y="183.59" width="1.3" height="1.3" fill="#4a4a4a"/><rect x="334.35" y="183.59" width="1.3" height="1.3" fill="#4a4a4a"/><rect x="337.73" y="183.59" width="1.3" height="1.3" fill="#4a4a4a"/><rect x="341.10" y="183.59" width="1.3" height="1.3" fill="#4a4a4a"/><text x="345.12" y="184.74" class="sq" fill="#5a78d0" stroke="#5a78d0">G</text><rect x="347.85" y="183.59" width="1.3" height="1.3" fill="#4a4a4a"/><rect x="351.23" y="183.59" width="1.3" height="1.3" fill="#4a4a4a"/><rect x="354.60" y="183.59" width="1.3" height="1.3" fill="#4a4a4a"/><rect x="357.98" y="183.59" width="1.3" height="1.3" fill="#4a4a4a"/><rect x="361.35" y="183.59" width="1.3" height="1.3" fill="#4a4a4a"/>
<rect x="377.35" y="183.59" width="1.3" height="1.3" fill="#4a4a4a"/><rect x="380.77" y="183.59" width="1.3" height="1.3" fill="#4a4a4a"/><rect x="384.19" y="183.59" width="1.3" height="1.3" fill="#4a4a4a"/><rect x="387.61" y="183.59" width="1.3" height="1.3" fill="#4a4a4a"/><rect x="391.03" y="183.59" width="1.3" height="1.3" fill="#4a4a4a"/><rect x="394.45" y="183.59" width="1.3" height="1.3" fill="#4a4a4a"/><rect x="397.87" y="183.59" width="1.3" height="1.3" fill="#4a4a4a"/><rect x="401.29" y="183.59" width="1.3" height="1.3" fill="#4a4a4a"/><rect x="404.71" y="183.59" width="1.3" height="1.3" fill="#4a4a4a"/><rect x="408.13" y="183.59" width="1.3" height="1.3" fill="#4a4a4a"/><text x="412.20" y="184.74" class="sq" fill="#4a5a3a" stroke="#4a5a3a">A</text><text x="415.62" y="184.74" class="sq" fill="#5a78d0" stroke="#5a78d0">G</text><text x="419.04" y="184.74" class="sq" fill="#5a78d0" stroke="#5a78d0">A</text><text x="422.46" y="184.74" class="sq" fill="#5a78d0" stroke="#5a78d0">G</text><rect x="425.23" y="183.59" width="1.3" height="1.3" fill="#4a4a4a"/><text x="429.30" y="184.74" class="sq" fill="#4a4a4a" stroke="#4a4a4a">G</text><rect x="432.07" y="183.59" width="1.3" height="1.3" fill="#4a4a4a"/>
<rect x="307.35" y="190.92" width="1.3" height="1.3" fill="#4a4a4a"/><rect x="310.73" y="190.92" width="1.3" height="1.3" fill="#4a4a4a"/><rect x="314.10" y="190.92" width="1.3" height="1.3" fill="#4a4a4a"/><rect x="317.48" y="190.92" width="1.3" height="1.3" fill="#4a4a4a"/><rect x="320.85" y="190.92" width="1.3" height="1.3" fill="#4a4a4a"/><rect x="324.23" y="190.92" width="1.3" height="1.3" fill="#4a4a4a"/><rect x="327.60" y="190.92" width="1.3" height="1.3" fill="#4a4a4a"/><rect x="330.98" y="190.92" width="1.3" height="1.3" fill="#4a4a4a"/><rect x="334.35" y="190.92" width="1.3" height="1.3" fill="#4a4a4a"/><rect x="337.73" y="190.92" width="1.3" height="1.3" fill="#4a4a4a"/><rect x="341.10" y="190.92" width="1.3" height="1.3" fill="#4a4a4a"/><text x="345.12" y="192.07" class="sq" fill="#5a78d0" stroke="#5a78d0">G</text><rect x="347.85" y="190.92" width="1.3" height="1.3" fill="#4a4a4a"/><rect x="351.23" y="190.92" width="1.3" height="1.3" fill="#4a4a4a"/><rect x="354.60" y="190.92" width="1.3" height="1.3" fill="#4a4a4a"/><rect x="357.98" y="190.92" width="1.3" height="1.3" fill="#4a4a4a"/><rect x="361.35" y="190.92" width="1.3" height="1.3" fill="#4a4a4a"/>
<rect x="377.35" y="190.92" width="1.3" height="1.3" fill="#4a4a4a"/><rect x="380.77" y="190.92" width="1.3" height="1.3" fill="#4a4a4a"/><rect x="384.19" y="190.92" width="1.3" height="1.3" fill="#4a4a4a"/><rect x="387.61" y="190.92" width="1.3" height="1.3" fill="#4a4a4a"/><rect x="391.03" y="190.92" width="1.3" height="1.3" fill="#4a4a4a"/><rect x="394.45" y="190.92" width="1.3" height="1.3" fill="#4a4a4a"/><rect x="397.87" y="190.92" width="1.3" height="1.3" fill="#4a4a4a"/><rect x="401.29" y="190.92" width="1.3" height="1.3" fill="#4a4a4a"/><rect x="404.71" y="190.92" width="1.3" height="1.3" fill="#4a4a4a"/><rect x="408.13" y="190.92" width="1.3" height="1.3" fill="#4a4a4a"/><text x="412.20" y="192.07" class="sq" fill="#4a5a3a" stroke="#4a5a3a">A</text><text x="415.62" y="192.07" class="sq" fill="#5a78d0" stroke="#5a78d0">G</text><text x="419.04" y="192.07" class="sq" fill="#5a78d0" stroke="#5a78d0">A</text><text x="422.46" y="192.07" class="sq" fill="#5a78d0" stroke="#5a78d0">G</text><rect x="425.23" y="190.92" width="1.3" height="1.3" fill="#4a4a4a"/><rect x="428.65" y="190.92" width="1.3" height="1.3" fill="#4a4a4a"/><rect x="432.07" y="190.92" width="1.3" height="1.3" fill="#4a4a4a"/>
<rect x="307.35" y="198.25" width="1.3" height="1.3" fill="#4a4a4a"/><rect x="310.73" y="198.25" width="1.3" height="1.3" fill="#4a4a4a"/><rect x="314.10" y="198.25" width="1.3" height="1.3" fill="#4a4a4a"/><rect x="317.48" y="198.25" width="1.3" height="1.3" fill="#4a4a4a"/><rect x="320.85" y="198.25" width="1.3" height="1.3" fill="#4a4a4a"/><rect x="324.23" y="198.25" width="1.3" height="1.3" fill="#4a4a4a"/><rect x="327.60" y="198.25" width="1.3" height="1.3" fill="#4a4a4a"/><rect x="330.98" y="198.25" width="1.3" height="1.3" fill="#4a4a4a"/><rect x="334.35" y="198.25" width="1.3" height="1.3" fill="#4a4a4a"/><rect x="337.73" y="198.25" width="1.3" height="1.3" fill="#4a4a4a"/><rect x="341.10" y="198.25" width="1.3" height="1.3" fill="#4a4a4a"/><text x="345.12" y="199.40" class="sq" fill="#5a78d0" stroke="#5a78d0">G</text><rect x="347.85" y="198.25" width="1.3" height="1.3" fill="#4a4a4a"/><rect x="351.23" y="198.25" width="1.3" height="1.3" fill="#4a4a4a"/><rect x="354.60" y="198.25" width="1.3" height="1.3" fill="#4a4a4a"/><rect x="357.98" y="198.25" width="1.3" height="1.3" fill="#4a4a4a"/><rect x="361.35" y="198.25" width="1.3" height="1.3" fill="#4a4a4a"/>
<rect x="377.35" y="198.25" width="1.3" height="1.3" fill="#4a4a4a"/><rect x="380.77" y="198.25" width="1.3" height="1.3" fill="#4a4a4a"/><rect x="384.19" y="198.25" width="1.3" height="1.3" fill="#4a4a4a"/><rect x="387.61" y="198.25" width="1.3" height="1.3" fill="#4a4a4a"/><rect x="391.03" y="198.25" width="1.3" height="1.3" fill="#4a4a4a"/><rect x="394.45" y="198.25" width="1.3" height="1.3" fill="#4a4a4a"/><rect x="397.87" y="198.25" width="1.3" height="1.3" fill="#4a4a4a"/><rect x="401.29" y="198.25" width="1.3" height="1.3" fill="#4a4a4a"/><rect x="404.71" y="198.25" width="1.3" height="1.3" fill="#4a4a4a"/><rect x="408.13" y="198.25" width="1.3" height="1.3" fill="#4a4a4a"/><text x="412.20" y="199.40" class="sq" fill="#4a5a3a" stroke="#4a5a3a">G</text><text x="415.62" y="199.40" class="sq" fill="#5a78d0" stroke="#5a78d0">G</text><text x="419.04" y="199.40" class="sq" fill="#5a78d0" stroke="#5a78d0">A</text><text x="422.46" y="199.40" class="sq" fill="#5a78d0" stroke="#5a78d0">G</text><rect x="425.23" y="198.25" width="1.3" height="1.3" fill="#4a4a4a"/><rect x="428.65" y="198.25" width="1.3" height="1.3" fill="#4a4a4a"/><rect x="432.07" y="198.25" width="1.3" height="1.3" fill="#4a4a4a"/>
<rect x="307.35" y="205.58" width="1.3" height="1.3" fill="#4a4a4a"/><rect x="310.73" y="205.58" width="1.3" height="1.3" fill="#4a4a4a"/><rect x="314.10" y="205.58" width="1.3" height="1.3" fill="#4a4a4a"/><rect x="317.48" y="205.58" width="1.3" height="1.3" fill="#4a4a4a"/><rect x="320.85" y="205.58" width="1.3" height="1.3" fill="#4a4a4a"/><rect x="324.23" y="205.58" width="1.3" height="1.3" fill="#4a4a4a"/><rect x="327.60" y="205.58" width="1.3" height="1.3" fill="#4a4a4a"/><rect x="330.98" y="205.58" width="1.3" height="1.3" fill="#4a4a4a"/><rect x="334.35" y="205.58" width="1.3" height="1.3" fill="#4a4a4a"/><rect x="337.73" y="205.58" width="1.3" height="1.3" fill="#4a4a4a"/><rect x="341.10" y="205.58" width="1.3" height="1.3" fill="#4a4a4a"/><text x="345.12" y="206.73" class="sq" fill="#5a78d0" stroke="#5a78d0">G</text><rect x="347.85" y="205.58" width="1.3" height="1.3" fill="#4a4a4a"/><rect x="351.23" y="205.58" width="1.3" height="1.3" fill="#4a4a4a"/><rect x="354.60" y="205.58" width="1.3" height="1.3" fill="#4a4a4a"/><rect x="357.98" y="205.58" width="1.3" height="1.3" fill="#4a4a4a"/><rect x="361.35" y="205.58" width="1.3" height="1.3" fill="#4a4a4a"/>
<rect x="377.35" y="205.58" width="1.3" height="1.3" fill="#4a4a4a"/><rect x="380.77" y="205.58" width="1.3" height="1.3" fill="#4a4a4a"/><rect x="384.19" y="205.58" width="1.3" height="1.3" fill="#4a4a4a"/><rect x="387.61" y="205.58" width="1.3" height="1.3" fill="#4a4a4a"/><rect x="391.03" y="205.58" width="1.3" height="1.3" fill="#4a4a4a"/><rect x="394.45" y="205.58" width="1.3" height="1.3" fill="#4a4a4a"/><rect x="397.87" y="205.58" width="1.3" height="1.3" fill="#4a4a4a"/><rect x="401.29" y="205.58" width="1.3" height="1.3" fill="#4a4a4a"/><rect x="404.71" y="205.58" width="1.3" height="1.3" fill="#4a4a4a"/><rect x="408.13" y="205.58" width="1.3" height="1.3" fill="#4a4a4a"/><text x="412.20" y="206.73" class="sq" fill="#8e5e48" stroke="#8e5e48">G</text><text x="415.62" y="206.73" class="sq" fill="#8e5e48" stroke="#8e5e48">A</text><text x="419.04" y="206.73" class="sq" fill="#8e5e48" stroke="#8e5e48">C</text><text x="422.46" y="206.73" class="sq" fill="#8e5e48" stroke="#8e5e48">G</text><rect x="425.23" y="205.58" width="1.3" height="1.3" fill="#4a4a4a"/><rect x="428.65" y="205.58" width="1.3" height="1.3" fill="#4a4a4a"/><rect x="432.07" y="205.58" width="1.3" height="1.3" fill="#4a4a4a"/>
<rect x="307.35" y="212.91" width="1.3" height="1.3" fill="#4a4a4a"/><rect x="310.73" y="212.91" width="1.3" height="1.3" fill="#4a4a4a"/><rect x="314.10" y="212.91" width="1.3" height="1.3" fill="#4a4a4a"/><rect x="317.48" y="212.91" width="1.3" height="1.3" fill="#4a4a4a"/><rect x="320.85" y="212.91" width="1.3" height="1.3" fill="#4a4a4a"/><rect x="324.23" y="212.91" width="1.3" height="1.3" fill="#4a4a4a"/><rect x="327.60" y="212.91" width="1.3" height="1.3" fill="#4a4a4a"/><rect x="330.98" y="212.91" width="1.3" height="1.3" fill="#4a4a4a"/><rect x="334.35" y="212.91" width="1.3" height="1.3" fill="#4a4a4a"/><rect x="337.73" y="212.91" width="1.3" height="1.3" fill="#4a4a4a"/><rect x="341.10" y="212.91" width="1.3" height="1.3" fill="#4a4a4a"/><text x="345.12" y="214.06" class="sq" fill="#5a78d0" stroke="#5a78d0">G</text><rect x="347.85" y="212.91" width="1.3" height="1.3" fill="#4a4a4a"/><rect x="351.23" y="212.91" width="1.3" height="1.3" fill="#4a4a4a"/><text x="355.25" y="214.06" class="sq" fill="#3a3a3a" stroke="#3a3a3a">C</text><rect x="357.98" y="212.91" width="1.3" height="1.3" fill="#4a4a4a"/><rect x="361.35" y="212.91" width="1.3" height="1.3" fill="#4a4a4a"/>
<rect x="377.35" y="212.91" width="1.3" height="1.3" fill="#4a4a4a"/><rect x="380.77" y="212.91" width="1.3" height="1.3" fill="#4a4a4a"/><rect x="384.19" y="212.91" width="1.3" height="1.3" fill="#4a4a4a"/><rect x="387.61" y="212.91" width="1.3" height="1.3" fill="#4a4a4a"/><rect x="391.03" y="212.91" width="1.3" height="1.3" fill="#4a4a4a"/><rect x="394.45" y="212.91" width="1.3" height="1.3" fill="#4a4a4a"/><rect x="397.87" y="212.91" width="1.3" height="1.3" fill="#4a4a4a"/><rect x="401.29" y="212.91" width="1.3" height="1.3" fill="#4a4a4a"/><rect x="404.71" y="212.91" width="1.3" height="1.3" fill="#4a4a4a"/><rect x="408.13" y="212.91" width="1.3" height="1.3" fill="#4a4a4a"/><text x="412.20" y="214.06" class="sq" fill="#4a5a3a" stroke="#4a5a3a">A</text><text x="415.62" y="214.06" class="sq" fill="#5a78d0" stroke="#5a78d0">G</text><text x="419.04" y="214.06" class="sq" fill="#5a78d0" stroke="#5a78d0">A</text><text x="422.46" y="214.06" class="sq" fill="#5a78d0" stroke="#5a78d0">G</text><rect x="425.23" y="212.91" width="1.3" height="1.3" fill="#4a4a4a"/><text x="429.30" y="214.06" class="sq" fill="#4a4a4a" stroke="#4a4a4a">G</text><rect x="432.07" y="212.91" width="1.3" height="1.3" fill="#4a4a4a"/>
<rect x="307.35" y="220.24" width="1.3" height="1.3" fill="#4a4a4a"/><rect x="310.73" y="220.24" width="1.3" height="1.3" fill="#4a4a4a"/><rect x="314.10" y="220.24" width="1.3" height="1.3" fill="#4a4a4a"/><rect x="317.48" y="220.24" width="1.3" height="1.3" fill="#4a4a4a"/><rect x="320.85" y="220.24" width="1.3" height="1.3" fill="#4a4a4a"/><rect x="324.23" y="220.24" width="1.3" height="1.3" fill="#4a4a4a"/><rect x="327.60" y="220.24" width="1.3" height="1.3" fill="#4a4a4a"/><rect x="330.98" y="220.24" width="1.3" height="1.3" fill="#4a4a4a"/><rect x="334.35" y="220.24" width="1.3" height="1.3" fill="#4a4a4a"/><rect x="337.73" y="220.24" width="1.3" height="1.3" fill="#4a4a4a"/><rect x="341.10" y="220.24" width="1.3" height="1.3" fill="#4a4a4a"/><text x="345.12" y="221.39" class="sq" fill="#5a78d0" stroke="#5a78d0">G</text><rect x="347.85" y="220.24" width="1.3" height="1.3" fill="#4a4a4a"/><rect x="351.23" y="220.24" width="1.3" height="1.3" fill="#4a4a4a"/><text x="355.25" y="221.39" class="sq" fill="#3a3a3a" stroke="#3a3a3a">C</text><rect x="357.98" y="220.24" width="1.3" height="1.3" fill="#4a4a4a"/><rect x="361.35" y="220.24" width="1.3" height="1.3" fill="#4a4a4a"/>
<rect x="377.35" y="220.24" width="1.3" height="1.3" fill="#4a4a4a"/><rect x="380.77" y="220.24" width="1.3" height="1.3" fill="#4a4a4a"/><rect x="384.19" y="220.24" width="1.3" height="1.3" fill="#4a4a4a"/><rect x="387.61" y="220.24" width="1.3" height="1.3" fill="#4a4a4a"/><rect x="391.03" y="220.24" width="1.3" height="1.3" fill="#4a4a4a"/><rect x="394.45" y="220.24" width="1.3" height="1.3" fill="#4a4a4a"/><rect x="397.87" y="220.24" width="1.3" height="1.3" fill="#4a4a4a"/><rect x="401.29" y="220.24" width="1.3" height="1.3" fill="#4a4a4a"/><rect x="404.71" y="220.24" width="1.3" height="1.3" fill="#4a4a4a"/><rect x="408.13" y="220.24" width="1.3" height="1.3" fill="#4a4a4a"/><text x="412.20" y="221.39" class="sq" fill="#4a5a3a" stroke="#4a5a3a">A</text><text x="415.62" y="221.39" class="sq" fill="#5a78d0" stroke="#5a78d0">G</text><text x="419.04" y="221.39" class="sq" fill="#5a78d0" stroke="#5a78d0">A</text><text x="422.46" y="221.39" class="sq" fill="#5a78d0" stroke="#5a78d0">G</text><rect x="425.23" y="220.24" width="1.3" height="1.3" fill="#4a4a4a"/><text x="429.30" y="221.39" class="sq" fill="#4a4a4a" stroke="#4a4a4a">G</text><rect x="432.07" y="220.24" width="1.3" height="1.3" fill="#4a4a4a"/>
<rect x="307.35" y="227.57" width="1.3" height="1.3" fill="#4a4a4a"/><rect x="310.73" y="227.57" width="1.3" height="1.3" fill="#4a4a4a"/><rect x="314.10" y="227.57" width="1.3" height="1.3" fill="#4a4a4a"/><rect x="317.48" y="227.57" width="1.3" height="1.3" fill="#4a4a4a"/><rect x="320.85" y="227.57" width="1.3" height="1.3" fill="#4a4a4a"/><rect x="324.23" y="227.57" width="1.3" height="1.3" fill="#4a4a4a"/><rect x="327.60" y="227.57" width="1.3" height="1.3" fill="#4a4a4a"/><rect x="330.98" y="227.57" width="1.3" height="1.3" fill="#4a4a4a"/><rect x="334.35" y="227.57" width="1.3" height="1.3" fill="#4a4a4a"/><rect x="337.73" y="227.57" width="1.3" height="1.3" fill="#4a4a4a"/><rect x="341.10" y="227.57" width="1.3" height="1.3" fill="#4a4a4a"/><text x="345.12" y="228.72" class="sq" fill="#5a78d0" stroke="#5a78d0">G</text><rect x="347.85" y="227.57" width="1.3" height="1.3" fill="#4a4a4a"/><rect x="351.23" y="227.57" width="1.3" height="1.3" fill="#4a4a4a"/><rect x="354.60" y="227.57" width="1.3" height="1.3" fill="#4a4a4a"/><rect x="357.98" y="227.57" width="1.3" height="1.3" fill="#4a4a4a"/><rect x="361.35" y="227.57" width="1.3" height="1.3" fill="#4a4a4a"/>
<rect x="377.35" y="227.57" width="1.3" height="1.3" fill="#4a4a4a"/><rect x="380.77" y="227.57" width="1.3" height="1.3" fill="#4a4a4a"/><rect x="384.19" y="227.57" width="1.3" height="1.3" fill="#4a4a4a"/><rect x="387.61" y="227.57" width="1.3" height="1.3" fill="#4a4a4a"/><text x="391.68" y="228.72" class="sq" fill="#4a4a4a" stroke="#4a4a4a">C</text><rect x="394.45" y="227.57" width="1.3" height="1.3" fill="#4a4a4a"/><rect x="397.87" y="227.57" width="1.3" height="1.3" fill="#4a4a4a"/><rect x="401.29" y="227.57" width="1.3" height="1.3" fill="#4a4a4a"/><rect x="404.71" y="227.57" width="1.3" height="1.3" fill="#4a4a4a"/><rect x="408.13" y="227.57" width="1.3" height="1.3" fill="#4a4a4a"/><text x="412.20" y="228.72" class="sq" fill="#4a5a3a" stroke="#4a5a3a">A</text><text x="415.62" y="228.72" class="sq" fill="#5a78d0" stroke="#5a78d0">G</text><text x="419.04" y="228.72" class="sq" fill="#5a78d0" stroke="#5a78d0">A</text><text x="422.46" y="228.72" class="sq" fill="#5a78d0" stroke="#5a78d0">G</text><rect x="425.23" y="227.57" width="1.3" height="1.3" fill="#4a4a4a"/><text x="429.30" y="228.72" class="sq" fill="#4a4a4a" stroke="#4a4a4a">G</text><rect x="432.07" y="227.57" width="1.3" height="1.3" fill="#4a4a4a"/>
<rect x="307.35" y="234.90" width="1.3" height="1.3" fill="#4a4a4a"/><rect x="310.73" y="234.90" width="1.3" height="1.3" fill="#4a4a4a"/><rect x="314.10" y="234.90" width="1.3" height="1.3" fill="#4a4a4a"/><rect x="317.48" y="234.90" width="1.3" height="1.3" fill="#4a4a4a"/><rect x="320.85" y="234.90" width="1.3" height="1.3" fill="#4a4a4a"/><rect x="324.23" y="234.90" width="1.3" height="1.3" fill="#4a4a4a"/><rect x="327.60" y="234.90" width="1.3" height="1.3" fill="#4a4a4a"/><rect x="330.98" y="234.90" width="1.3" height="1.3" fill="#4a4a4a"/><rect x="334.35" y="234.90" width="1.3" height="1.3" fill="#4a4a4a"/><rect x="337.73" y="234.90" width="1.3" height="1.3" fill="#4a4a4a"/><rect x="341.10" y="234.90" width="1.3" height="1.3" fill="#4a4a4a"/><text x="345.12" y="236.05" class="sq" fill="#5a78d0" stroke="#5a78d0">G</text><rect x="347.85" y="234.90" width="1.3" height="1.3" fill="#4a4a4a"/><rect x="351.23" y="234.90" width="1.3" height="1.3" fill="#4a4a4a"/><rect x="354.60" y="234.90" width="1.3" height="1.3" fill="#4a4a4a"/><rect x="357.98" y="234.90" width="1.3" height="1.3" fill="#4a4a4a"/><rect x="361.35" y="234.90" width="1.3" height="1.3" fill="#4a4a4a"/>
<rect x="377.35" y="234.90" width="1.3" height="1.3" fill="#4a4a4a"/><rect x="380.77" y="234.90" width="1.3" height="1.3" fill="#4a4a4a"/><rect x="384.19" y="234.90" width="1.3" height="1.3" fill="#4a4a4a"/><rect x="387.61" y="234.90" width="1.3" height="1.3" fill="#4a4a4a"/><rect x="391.03" y="234.90" width="1.3" height="1.3" fill="#4a4a4a"/><rect x="394.45" y="234.90" width="1.3" height="1.3" fill="#4a4a4a"/><rect x="397.87" y="234.90" width="1.3" height="1.3" fill="#4a4a4a"/><rect x="401.29" y="234.90" width="1.3" height="1.3" fill="#4a4a4a"/><rect x="404.71" y="234.90" width="1.3" height="1.3" fill="#4a4a4a"/><rect x="408.13" y="234.90" width="1.3" height="1.3" fill="#4a4a4a"/><text x="412.20" y="236.05" class="sq" fill="#4a5a3a" stroke="#4a5a3a">A</text><text x="415.62" y="236.05" class="sq" fill="#5a78d0" stroke="#5a78d0">G</text><text x="419.04" y="236.05" class="sq" fill="#5a78d0" stroke="#5a78d0">A</text><text x="422.46" y="236.05" class="sq" fill="#5a78d0" stroke="#5a78d0">G</text><rect x="425.23" y="234.90" width="1.3" height="1.3" fill="#4a4a4a"/><text x="429.30" y="236.05" class="sq" fill="#4a4a4a" stroke="#4a4a4a">G</text><rect x="432.07" y="234.90" width="1.3" height="1.3" fill="#4a4a4a"/>
<rect x="307.35" y="242.23" width="1.3" height="1.3" fill="#4a4a4a"/><rect x="310.73" y="242.23" width="1.3" height="1.3" fill="#4a4a4a"/><rect x="314.10" y="242.23" width="1.3" height="1.3" fill="#4a4a4a"/><rect x="317.48" y="242.23" width="1.3" height="1.3" fill="#4a4a4a"/><rect x="320.85" y="242.23" width="1.3" height="1.3" fill="#4a4a4a"/><rect x="324.23" y="242.23" width="1.3" height="1.3" fill="#4a4a4a"/><rect x="327.60" y="242.23" width="1.3" height="1.3" fill="#4a4a4a"/><rect x="330.98" y="242.23" width="1.3" height="1.3" fill="#4a4a4a"/><rect x="334.35" y="242.23" width="1.3" height="1.3" fill="#4a4a4a"/><rect x="337.73" y="242.23" width="1.3" height="1.3" fill="#4a4a4a"/><rect x="341.10" y="242.23" width="1.3" height="1.3" fill="#4a4a4a"/><text x="345.12" y="243.38" class="sq" fill="#5a78d0" stroke="#5a78d0">G</text><rect x="347.85" y="242.23" width="1.3" height="1.3" fill="#4a4a4a"/><rect x="351.23" y="242.23" width="1.3" height="1.3" fill="#4a4a4a"/><rect x="354.60" y="242.23" width="1.3" height="1.3" fill="#4a4a4a"/><rect x="357.98" y="242.23" width="1.3" height="1.3" fill="#4a4a4a"/><rect x="361.35" y="242.23" width="1.3" height="1.3" fill="#4a4a4a"/>
<rect x="377.35" y="242.23" width="1.3" height="1.3" fill="#4a4a4a"/><rect x="380.77" y="242.23" width="1.3" height="1.3" fill="#4a4a4a"/><rect x="384.19" y="242.23" width="1.3" height="1.3" fill="#4a4a4a"/><rect x="387.61" y="242.23" width="1.3" height="1.3" fill="#4a4a4a"/><rect x="391.03" y="242.23" width="1.3" height="1.3" fill="#4a4a4a"/><rect x="394.45" y="242.23" width="1.3" height="1.3" fill="#4a4a4a"/><rect x="397.87" y="242.23" width="1.3" height="1.3" fill="#4a4a4a"/><rect x="401.29" y="242.23" width="1.3" height="1.3" fill="#4a4a4a"/><rect x="404.71" y="242.23" width="1.3" height="1.3" fill="#4a4a4a"/><rect x="408.13" y="242.23" width="1.3" height="1.3" fill="#4a4a4a"/><text x="412.20" y="243.38" class="sq" fill="#4a5a3a" stroke="#4a5a3a">A</text><text x="415.62" y="243.38" class="sq" fill="#5a78d0" stroke="#5a78d0">G</text><text x="419.04" y="243.38" class="sq" fill="#5a78d0" stroke="#5a78d0">A</text><text x="422.46" y="243.38" class="sq" fill="#5a78d0" stroke="#5a78d0">G</text><rect x="425.23" y="242.23" width="1.3" height="1.3" fill="#4a4a4a"/><text x="429.30" y="243.38" class="sq" fill="#4a4a4a" stroke="#4a4a4a">G</text><rect x="432.07" y="242.23" width="1.3" height="1.3" fill="#4a4a4a"/>
<rect x="307.35" y="249.56" width="1.3" height="1.3" fill="#4a4a4a"/><rect x="310.73" y="249.56" width="1.3" height="1.3" fill="#4a4a4a"/><rect x="314.10" y="249.56" width="1.3" height="1.3" fill="#4a4a4a"/><rect x="317.48" y="249.56" width="1.3" height="1.3" fill="#4a4a4a"/><rect x="320.85" y="249.56" width="1.3" height="1.3" fill="#4a4a4a"/><rect x="324.23" y="249.56" width="1.3" height="1.3" fill="#4a4a4a"/><rect x="327.60" y="249.56" width="1.3" height="1.3" fill="#4a4a4a"/><rect x="330.98" y="249.56" width="1.3" height="1.3" fill="#4a4a4a"/><rect x="334.35" y="249.56" width="1.3" height="1.3" fill="#4a4a4a"/><rect x="337.73" y="249.56" width="1.3" height="1.3" fill="#4a4a4a"/><rect x="341.10" y="249.56" width="1.3" height="1.3" fill="#4a4a4a"/><text x="345.12" y="250.71" class="sq" fill="#5a78d0" stroke="#5a78d0">G</text><rect x="347.85" y="249.56" width="1.3" height="1.3" fill="#4a4a4a"/><rect x="351.23" y="249.56" width="1.3" height="1.3" fill="#4a4a4a"/><rect x="354.60" y="249.56" width="1.3" height="1.3" fill="#4a4a4a"/><rect x="357.98" y="249.56" width="1.3" height="1.3" fill="#4a4a4a"/><rect x="361.35" y="249.56" width="1.3" height="1.3" fill="#4a4a4a"/>
<rect x="377.35" y="249.56" width="1.3" height="1.3" fill="#4a4a4a"/><rect x="380.77" y="249.56" width="1.3" height="1.3" fill="#4a4a4a"/><rect x="384.19" y="249.56" width="1.3" height="1.3" fill="#4a4a4a"/><rect x="387.61" y="249.56" width="1.3" height="1.3" fill="#4a4a4a"/><rect x="391.03" y="249.56" width="1.3" height="1.3" fill="#4a4a4a"/><rect x="394.45" y="249.56" width="1.3" height="1.3" fill="#4a4a4a"/><rect x="397.87" y="249.56" width="1.3" height="1.3" fill="#4a4a4a"/><rect x="401.29" y="249.56" width="1.3" height="1.3" fill="#4a4a4a"/><rect x="404.71" y="249.56" width="1.3" height="1.3" fill="#4a4a4a"/><rect x="408.13" y="249.56" width="1.3" height="1.3" fill="#4a4a4a"/><text x="412.20" y="250.71" class="sq" fill="#4a5a3a" stroke="#4a5a3a">A</text><text x="415.62" y="250.71" class="sq" fill="#5a78d0" stroke="#5a78d0">G</text><text x="419.04" y="250.71" class="sq" fill="#5a78d0" stroke="#5a78d0">A</text><text x="422.46" y="250.71" class="sq" fill="#5a78d0" stroke="#5a78d0">G</text><rect x="425.23" y="249.56" width="1.3" height="1.3" fill="#4a4a4a"/><text x="429.30" y="250.71" class="sq" fill="#4a4a4a" stroke="#4a4a4a">G</text><rect x="432.07" y="249.56" width="1.3" height="1.3" fill="#4a4a4a"/>
<rect x="307.35" y="256.89" width="1.3" height="1.3" fill="#4a4a4a"/><rect x="310.73" y="256.89" width="1.3" height="1.3" fill="#4a4a4a"/><rect x="314.10" y="256.89" width="1.3" height="1.3" fill="#4a4a4a"/><rect x="317.48" y="256.89" width="1.3" height="1.3" fill="#4a4a4a"/><rect x="320.85" y="256.89" width="1.3" height="1.3" fill="#4a4a4a"/><rect x="324.23" y="256.89" width="1.3" height="1.3" fill="#4a4a4a"/><rect x="327.60" y="256.89" width="1.3" height="1.3" fill="#4a4a4a"/><rect x="330.98" y="256.89" width="1.3" height="1.3" fill="#4a4a4a"/><rect x="334.35" y="256.89" width="1.3" height="1.3" fill="#4a4a4a"/><rect x="337.73" y="256.89" width="1.3" height="1.3" fill="#4a4a4a"/><rect x="341.10" y="256.89" width="1.3" height="1.3" fill="#4a4a4a"/><text x="345.12" y="258.04" class="sq" fill="#5a78d0" stroke="#5a78d0">G</text><rect x="347.85" y="256.89" width="1.3" height="1.3" fill="#4a4a4a"/><rect x="351.23" y="256.89" width="1.3" height="1.3" fill="#4a4a4a"/><rect x="354.60" y="256.89" width="1.3" height="1.3" fill="#4a4a4a"/><rect x="357.98" y="256.89" width="1.3" height="1.3" fill="#4a4a4a"/><rect x="361.35" y="256.89" width="1.3" height="1.3" fill="#4a4a4a"/>
<rect x="377.35" y="256.89" width="1.3" height="1.3" fill="#4a4a4a"/><rect x="380.77" y="256.89" width="1.3" height="1.3" fill="#4a4a4a"/><rect x="384.19" y="256.89" width="1.3" height="1.3" fill="#4a4a4a"/><rect x="387.61" y="256.89" width="1.3" height="1.3" fill="#4a4a4a"/><rect x="391.03" y="256.89" width="1.3" height="1.3" fill="#4a4a4a"/><rect x="394.45" y="256.89" width="1.3" height="1.3" fill="#4a4a4a"/><rect x="397.87" y="256.89" width="1.3" height="1.3" fill="#4a4a4a"/><rect x="401.29" y="256.89" width="1.3" height="1.3" fill="#4a4a4a"/><rect x="404.71" y="256.89" width="1.3" height="1.3" fill="#4a4a4a"/><rect x="408.13" y="256.89" width="1.3" height="1.3" fill="#4a4a4a"/><text x="412.20" y="258.04" class="sq" fill="#4a5a3a" stroke="#4a5a3a">A</text><text x="415.62" y="258.04" class="sq" fill="#5a78d0" stroke="#5a78d0">G</text><text x="419.04" y="258.04" class="sq" fill="#5a78d0" stroke="#5a78d0">A</text><text x="422.46" y="258.04" class="sq" fill="#5a78d0" stroke="#5a78d0">G</text><rect x="425.23" y="256.89" width="1.3" height="1.3" fill="#4a4a4a"/><rect x="428.65" y="256.89" width="1.3" height="1.3" fill="#4a4a4a"/><rect x="432.07" y="256.89" width="1.3" height="1.3" fill="#4a4a4a"/>
<rect x="307.35" y="264.22" width="1.3" height="1.3" fill="#4a4a4a"/><rect x="310.73" y="264.22" width="1.3" height="1.3" fill="#4a4a4a"/><rect x="314.10" y="264.22" width="1.3" height="1.3" fill="#4a4a4a"/><rect x="317.48" y="264.22" width="1.3" height="1.3" fill="#4a4a4a"/><rect x="320.85" y="264.22" width="1.3" height="1.3" fill="#4a4a4a"/><rect x="324.23" y="264.22" width="1.3" height="1.3" fill="#4a4a4a"/><rect x="327.60" y="264.22" width="1.3" height="1.3" fill="#4a4a4a"/><rect x="330.98" y="264.22" width="1.3" height="1.3" fill="#4a4a4a"/><rect x="334.35" y="264.22" width="1.3" height="1.3" fill="#4a4a4a"/><rect x="337.73" y="264.22" width="1.3" height="1.3" fill="#4a4a4a"/><rect x="341.10" y="264.22" width="1.3" height="1.3" fill="#4a4a4a"/><text x="345.12" y="265.37" class="sq" fill="#5a78d0" stroke="#5a78d0">G</text><rect x="347.85" y="264.22" width="1.3" height="1.3" fill="#4a4a4a"/><rect x="351.23" y="264.22" width="1.3" height="1.3" fill="#4a4a4a"/><rect x="354.60" y="264.22" width="1.3" height="1.3" fill="#4a4a4a"/><rect x="357.98" y="264.22" width="1.3" height="1.3" fill="#4a4a4a"/><rect x="361.35" y="264.22" width="1.3" height="1.3" fill="#4a4a4a"/>
<rect x="377.35" y="264.22" width="1.3" height="1.3" fill="#4a4a4a"/><rect x="380.77" y="264.22" width="1.3" height="1.3" fill="#4a4a4a"/><rect x="384.19" y="264.22" width="1.3" height="1.3" fill="#4a4a4a"/><rect x="387.61" y="264.22" width="1.3" height="1.3" fill="#4a4a4a"/><rect x="391.03" y="264.22" width="1.3" height="1.3" fill="#4a4a4a"/><rect x="394.45" y="264.22" width="1.3" height="1.3" fill="#4a4a4a"/><rect x="397.87" y="264.22" width="1.3" height="1.3" fill="#4a4a4a"/><rect x="401.29" y="264.22" width="1.3" height="1.3" fill="#4a4a4a"/><rect x="404.71" y="264.22" width="1.3" height="1.3" fill="#4a4a4a"/><rect x="408.13" y="264.22" width="1.3" height="1.3" fill="#4a4a4a"/><text x="412.20" y="265.37" class="sq" fill="#4a5a3a" stroke="#4a5a3a">A</text><text x="415.62" y="265.37" class="sq" fill="#5a78d0" stroke="#5a78d0">G</text><text x="419.04" y="265.37" class="sq" fill="#5a78d0" stroke="#5a78d0">A</text><text x="422.46" y="265.37" class="sq" fill="#5a78d0" stroke="#5a78d0">G</text><rect x="425.23" y="264.22" width="1.3" height="1.3" fill="#4a4a4a"/><text x="429.30" y="265.37" class="sq" fill="#4a4a4a" stroke="#4a4a4a">G</text><rect x="432.07" y="264.22" width="1.3" height="1.3" fill="#4a4a4a"/>
<rect x="307.35" y="271.55" width="1.3" height="1.3" fill="#4a4a4a"/><rect x="310.73" y="271.55" width="1.3" height="1.3" fill="#4a4a4a"/><rect x="314.10" y="271.55" width="1.3" height="1.3" fill="#4a4a4a"/><rect x="317.48" y="271.55" width="1.3" height="1.3" fill="#4a4a4a"/><rect x="320.85" y="271.55" width="1.3" height="1.3" fill="#4a4a4a"/><rect x="324.23" y="271.55" width="1.3" height="1.3" fill="#4a4a4a"/><rect x="327.60" y="271.55" width="1.3" height="1.3" fill="#4a4a4a"/><rect x="330.98" y="271.55" width="1.3" height="1.3" fill="#4a4a4a"/><text x="335.00" y="272.70" class="sq" fill="#3a3a3a" stroke="#3a3a3a">A</text><rect x="337.73" y="271.55" width="1.3" height="1.3" fill="#4a4a4a"/><rect x="341.10" y="271.55" width="1.3" height="1.3" fill="#4a4a4a"/><text x="345.12" y="272.70" class="sq" fill="#5a78d0" stroke="#5a78d0">G</text><rect x="347.85" y="271.55" width="1.3" height="1.3" fill="#4a4a4a"/><rect x="351.23" y="271.55" width="1.3" height="1.3" fill="#4a4a4a"/><rect x="354.60" y="271.55" width="1.3" height="1.3" fill="#4a4a4a"/><rect x="357.98" y="271.55" width="1.3" height="1.3" fill="#4a4a4a"/><rect x="361.35" y="271.55" width="1.3" height="1.3" fill="#4a4a4a"/>
<rect x="377.35" y="271.55" width="1.3" height="1.3" fill="#4a4a4a"/><rect x="380.77" y="271.55" width="1.3" height="1.3" fill="#4a4a4a"/><rect x="384.19" y="271.55" width="1.3" height="1.3" fill="#4a4a4a"/><rect x="387.61" y="271.55" width="1.3" height="1.3" fill="#4a4a4a"/><rect x="391.03" y="271.55" width="1.3" height="1.3" fill="#4a4a4a"/><rect x="394.45" y="271.55" width="1.3" height="1.3" fill="#4a4a4a"/><rect x="397.87" y="271.55" width="1.3" height="1.3" fill="#4a4a4a"/><rect x="401.29" y="271.55" width="1.3" height="1.3" fill="#4a4a4a"/><rect x="404.71" y="271.55" width="1.3" height="1.3" fill="#4a4a4a"/><rect x="408.13" y="271.55" width="1.3" height="1.3" fill="#4a4a4a"/><text x="412.20" y="272.70" class="sq" fill="#8e5e48" stroke="#8e5e48">G</text><text x="415.62" y="272.70" class="sq" fill="#8e5e48" stroke="#8e5e48">A</text><text x="419.04" y="272.70" class="sq" fill="#8e5e48" stroke="#8e5e48">C</text><text x="422.46" y="272.70" class="sq" fill="#8e5e48" stroke="#8e5e48">G</text><rect x="425.23" y="271.55" width="1.3" height="1.3" fill="#4a4a4a"/><rect x="428.65" y="271.55" width="1.3" height="1.3" fill="#4a4a4a"/><rect x="432.07" y="271.55" width="1.3" height="1.3" fill="#4a4a4a"/>
<rect x="307.35" y="278.88" width="1.3" height="1.3" fill="#4a4a4a"/><rect x="310.73" y="278.88" width="1.3" height="1.3" fill="#4a4a4a"/><rect x="314.10" y="278.88" width="1.3" height="1.3" fill="#4a4a4a"/><rect x="317.48" y="278.88" width="1.3" height="1.3" fill="#4a4a4a"/><rect x="320.85" y="278.88" width="1.3" height="1.3" fill="#4a4a4a"/><rect x="324.23" y="278.88" width="1.3" height="1.3" fill="#4a4a4a"/><rect x="327.60" y="278.88" width="1.3" height="1.3" fill="#4a4a4a"/><rect x="330.98" y="278.88" width="1.3" height="1.3" fill="#4a4a4a"/><rect x="334.35" y="278.88" width="1.3" height="1.3" fill="#4a4a4a"/><rect x="337.73" y="278.88" width="1.3" height="1.3" fill="#4a4a4a"/><rect x="341.10" y="278.88" width="1.3" height="1.3" fill="#4a4a4a"/><text x="345.12" y="280.03" class="sq" fill="#5a78d0" stroke="#5a78d0">G</text><rect x="347.85" y="278.88" width="1.3" height="1.3" fill="#4a4a4a"/><rect x="351.23" y="278.88" width="1.3" height="1.3" fill="#4a4a4a"/><rect x="354.60" y="278.88" width="1.3" height="1.3" fill="#4a4a4a"/><rect x="357.98" y="278.88" width="1.3" height="1.3" fill="#4a4a4a"/><rect x="361.35" y="278.88" width="1.3" height="1.3" fill="#4a4a4a"/>
<rect x="377.35" y="278.88" width="1.3" height="1.3" fill="#4a4a4a"/><rect x="380.77" y="278.88" width="1.3" height="1.3" fill="#4a4a4a"/><rect x="384.19" y="278.88" width="1.3" height="1.3" fill="#4a4a4a"/><rect x="387.61" y="278.88" width="1.3" height="1.3" fill="#4a4a4a"/><rect x="391.03" y="278.88" width="1.3" height="1.3" fill="#4a4a4a"/><rect x="394.45" y="278.88" width="1.3" height="1.3" fill="#4a4a4a"/><rect x="397.87" y="278.88" width="1.3" height="1.3" fill="#4a4a4a"/><rect x="401.29" y="278.88" width="1.3" height="1.3" fill="#4a4a4a"/><rect x="404.71" y="278.88" width="1.3" height="1.3" fill="#4a4a4a"/><rect x="408.13" y="278.88" width="1.3" height="1.3" fill="#4a4a4a"/><text x="412.20" y="280.03" class="sq" fill="#8e5e48" stroke="#8e5e48">G</text><text x="415.62" y="280.03" class="sq" fill="#8e5e48" stroke="#8e5e48">A</text><text x="419.04" y="280.03" class="sq" fill="#8e5e48" stroke="#8e5e48">C</text><text x="422.46" y="280.03" class="sq" fill="#8e5e48" stroke="#8e5e48">G</text><rect x="425.23" y="278.88" width="1.3" height="1.3" fill="#4a4a4a"/><rect x="428.65" y="278.88" width="1.3" height="1.3" fill="#4a4a4a"/><rect x="432.07" y="278.88" width="1.3" height="1.3" fill="#4a4a4a"/>
<rect x="307.35" y="286.21" width="1.3" height="1.3" fill="#4a4a4a"/><rect x="310.73" y="286.21" width="1.3" height="1.3" fill="#4a4a4a"/><rect x="314.10" y="286.21" width="1.3" height="1.3" fill="#4a4a4a"/><rect x="317.48" y="286.21" width="1.3" height="1.3" fill="#4a4a4a"/><rect x="320.85" y="286.21" width="1.3" height="1.3" fill="#4a4a4a"/><rect x="324.23" y="286.21" width="1.3" height="1.3" fill="#4a4a4a"/><rect x="327.60" y="286.21" width="1.3" height="1.3" fill="#4a4a4a"/><rect x="330.98" y="286.21" width="1.3" height="1.3" fill="#4a4a4a"/><rect x="334.35" y="286.21" width="1.3" height="1.3" fill="#4a4a4a"/><rect x="337.73" y="286.21" width="1.3" height="1.3" fill="#4a4a4a"/><rect x="341.10" y="286.21" width="1.3" height="1.3" fill="#4a4a4a"/><text x="345.12" y="287.36" class="sq" fill="#5a78d0" stroke="#5a78d0">G</text><rect x="347.85" y="286.21" width="1.3" height="1.3" fill="#4a4a4a"/><rect x="351.23" y="286.21" width="1.3" height="1.3" fill="#4a4a4a"/><rect x="354.60" y="286.21" width="1.3" height="1.3" fill="#4a4a4a"/><rect x="357.98" y="286.21" width="1.3" height="1.3" fill="#4a4a4a"/><rect x="361.35" y="286.21" width="1.3" height="1.3" fill="#4a4a4a"/>
<rect x="377.35" y="286.21" width="1.3" height="1.3" fill="#4a4a4a"/><rect x="380.77" y="286.21" width="1.3" height="1.3" fill="#4a4a4a"/><rect x="384.19" y="286.21" width="1.3" height="1.3" fill="#4a4a4a"/><rect x="387.61" y="286.21" width="1.3" height="1.3" fill="#4a4a4a"/><rect x="391.03" y="286.21" width="1.3" height="1.3" fill="#4a4a4a"/><rect x="394.45" y="286.21" width="1.3" height="1.3" fill="#4a4a4a"/><rect x="397.87" y="286.21" width="1.3" height="1.3" fill="#4a4a4a"/><rect x="401.29" y="286.21" width="1.3" height="1.3" fill="#4a4a4a"/><rect x="404.71" y="286.21" width="1.3" height="1.3" fill="#4a4a4a"/><rect x="408.13" y="286.21" width="1.3" height="1.3" fill="#4a4a4a"/><text x="412.20" y="287.36" class="sq" fill="#8e5e48" stroke="#8e5e48">G</text><text x="415.62" y="287.36" class="sq" fill="#8e5e48" stroke="#8e5e48">A</text><text x="419.04" y="287.36" class="sq" fill="#8e5e48" stroke="#8e5e48">C</text><text x="422.46" y="287.36" class="sq" fill="#8e5e48" stroke="#8e5e48">G</text><rect x="425.23" y="286.21" width="1.3" height="1.3" fill="#4a4a4a"/><rect x="428.65" y="286.21" width="1.3" height="1.3" fill="#4a4a4a"/><rect x="432.07" y="286.21" width="1.3" height="1.3" fill="#4a4a4a"/>
<rect x="307.35" y="293.54" width="1.3" height="1.3" fill="#4a4a4a"/><rect x="310.73" y="293.54" width="1.3" height="1.3" fill="#4a4a4a"/><rect x="314.10" y="293.54" width="1.3" height="1.3" fill="#4a4a4a"/><rect x="317.48" y="293.54" width="1.3" height="1.3" fill="#4a4a4a"/><rect x="320.85" y="293.54" width="1.3" height="1.3" fill="#4a4a4a"/><rect x="324.23" y="293.54" width="1.3" height="1.3" fill="#4a4a4a"/><rect x="327.60" y="293.54" width="1.3" height="1.3" fill="#4a4a4a"/><rect x="330.98" y="293.54" width="1.3" height="1.3" fill="#4a4a4a"/><rect x="334.35" y="293.54" width="1.3" height="1.3" fill="#4a4a4a"/><rect x="337.73" y="293.54" width="1.3" height="1.3" fill="#4a4a4a"/><rect x="341.10" y="293.54" width="1.3" height="1.3" fill="#4a4a4a"/><text x="345.12" y="294.69" class="sq" fill="#5a78d0" stroke="#5a78d0">G</text><rect x="347.85" y="293.54" width="1.3" height="1.3" fill="#4a4a4a"/><rect x="351.23" y="293.54" width="1.3" height="1.3" fill="#4a4a4a"/><rect x="354.60" y="293.54" width="1.3" height="1.3" fill="#4a4a4a"/><rect x="357.98" y="293.54" width="1.3" height="1.3" fill="#4a4a4a"/><rect x="361.35" y="293.54" width="1.3" height="1.3" fill="#4a4a4a"/>
<rect x="377.35" y="293.54" width="1.3" height="1.3" fill="#4a4a4a"/><rect x="380.77" y="293.54" width="1.3" height="1.3" fill="#4a4a4a"/><rect x="384.19" y="293.54" width="1.3" height="1.3" fill="#4a4a4a"/><rect x="387.61" y="293.54" width="1.3" height="1.3" fill="#4a4a4a"/><rect x="391.03" y="293.54" width="1.3" height="1.3" fill="#4a4a4a"/><rect x="394.45" y="293.54" width="1.3" height="1.3" fill="#4a4a4a"/><rect x="397.87" y="293.54" width="1.3" height="1.3" fill="#4a4a4a"/><rect x="401.29" y="293.54" width="1.3" height="1.3" fill="#4a4a4a"/><rect x="404.71" y="293.54" width="1.3" height="1.3" fill="#4a4a4a"/><rect x="408.13" y="293.54" width="1.3" height="1.3" fill="#4a4a4a"/><text x="412.20" y="294.69" class="sq" fill="#8e5e48" stroke="#8e5e48">A</text><text x="415.62" y="294.69" class="sq" fill="#8e5e48" stroke="#8e5e48">A</text><text x="419.04" y="294.69" class="sq" fill="#8e5e48" stroke="#8e5e48">C</text><text x="422.46" y="294.69" class="sq" fill="#8e5e48" stroke="#8e5e48">G</text><rect x="425.23" y="293.54" width="1.3" height="1.3" fill="#4a4a4a"/><rect x="428.65" y="293.54" width="1.3" height="1.3" fill="#4a4a4a"/><rect x="432.07" y="293.54" width="1.3" height="1.3" fill="#4a4a4a"/>
<rect x="307.35" y="300.87" width="1.3" height="1.3" fill="#4a4a4a"/><rect x="310.73" y="300.87" width="1.3" height="1.3" fill="#4a4a4a"/><rect x="314.10" y="300.87" width="1.3" height="1.3" fill="#4a4a4a"/><rect x="317.48" y="300.87" width="1.3" height="1.3" fill="#4a4a4a"/><rect x="320.85" y="300.87" width="1.3" height="1.3" fill="#4a4a4a"/><rect x="324.23" y="300.87" width="1.3" height="1.3" fill="#4a4a4a"/><rect x="327.60" y="300.87" width="1.3" height="1.3" fill="#4a4a4a"/><rect x="330.98" y="300.87" width="1.3" height="1.3" fill="#4a4a4a"/><rect x="334.35" y="300.87" width="1.3" height="1.3" fill="#4a4a4a"/><rect x="337.73" y="300.87" width="1.3" height="1.3" fill="#4a4a4a"/><rect x="341.10" y="300.87" width="1.3" height="1.3" fill="#4a4a4a"/><text x="345.12" y="302.02" class="sq" fill="#5a78d0" stroke="#5a78d0">G</text><rect x="347.85" y="300.87" width="1.3" height="1.3" fill="#4a4a4a"/><rect x="351.23" y="300.87" width="1.3" height="1.3" fill="#4a4a4a"/><rect x="354.60" y="300.87" width="1.3" height="1.3" fill="#4a4a4a"/><rect x="357.98" y="300.87" width="1.3" height="1.3" fill="#4a4a4a"/><rect x="361.35" y="300.87" width="1.3" height="1.3" fill="#4a4a4a"/>
<rect x="377.35" y="300.87" width="1.3" height="1.3" fill="#4a4a4a"/><rect x="380.77" y="300.87" width="1.3" height="1.3" fill="#4a4a4a"/><rect x="384.19" y="300.87" width="1.3" height="1.3" fill="#4a4a4a"/><rect x="387.61" y="300.87" width="1.3" height="1.3" fill="#4a4a4a"/><rect x="391.03" y="300.87" width="1.3" height="1.3" fill="#4a4a4a"/><rect x="394.45" y="300.87" width="1.3" height="1.3" fill="#4a4a4a"/><rect x="397.87" y="300.87" width="1.3" height="1.3" fill="#4a4a4a"/><rect x="401.29" y="300.87" width="1.3" height="1.3" fill="#4a4a4a"/><rect x="404.71" y="300.87" width="1.3" height="1.3" fill="#4a4a4a"/><rect x="408.13" y="300.87" width="1.3" height="1.3" fill="#4a4a4a"/><text x="412.20" y="302.02" class="sq" fill="#8e5e48" stroke="#8e5e48">G</text><text x="415.62" y="302.02" class="sq" fill="#8e5e48" stroke="#8e5e48">A</text><text x="419.04" y="302.02" class="sq" fill="#8e5e48" stroke="#8e5e48">C</text><text x="422.46" y="302.02" class="sq" fill="#8e5e48" stroke="#8e5e48">G</text><rect x="425.23" y="300.87" width="1.3" height="1.3" fill="#4a4a4a"/><rect x="428.65" y="300.87" width="1.3" height="1.3" fill="#4a4a4a"/><rect x="432.07" y="300.87" width="1.3" height="1.3" fill="#4a4a4a"/>
<rect x="307.35" y="308.20" width="1.3" height="1.3" fill="#4a4a4a"/><rect x="310.73" y="308.20" width="1.3" height="1.3" fill="#4a4a4a"/><rect x="314.10" y="308.20" width="1.3" height="1.3" fill="#4a4a4a"/><rect x="317.48" y="308.20" width="1.3" height="1.3" fill="#4a4a4a"/><rect x="320.85" y="308.20" width="1.3" height="1.3" fill="#4a4a4a"/><rect x="324.23" y="308.20" width="1.3" height="1.3" fill="#4a4a4a"/><rect x="327.60" y="308.20" width="1.3" height="1.3" fill="#4a4a4a"/><rect x="330.98" y="308.20" width="1.3" height="1.3" fill="#4a4a4a"/><rect x="334.35" y="308.20" width="1.3" height="1.3" fill="#4a4a4a"/><rect x="337.73" y="308.20" width="1.3" height="1.3" fill="#4a4a4a"/><rect x="341.10" y="308.20" width="1.3" height="1.3" fill="#4a4a4a"/><text x="345.12" y="309.35" class="sq" fill="#5a78d0" stroke="#5a78d0">G</text><rect x="347.85" y="308.20" width="1.3" height="1.3" fill="#4a4a4a"/><rect x="351.23" y="308.20" width="1.3" height="1.3" fill="#4a4a4a"/><rect x="354.60" y="308.20" width="1.3" height="1.3" fill="#4a4a4a"/><rect x="357.98" y="308.20" width="1.3" height="1.3" fill="#4a4a4a"/><rect x="361.35" y="308.20" width="1.3" height="1.3" fill="#4a4a4a"/>
<rect x="377.35" y="308.20" width="1.3" height="1.3" fill="#4a4a4a"/><rect x="380.77" y="308.20" width="1.3" height="1.3" fill="#4a4a4a"/><rect x="384.19" y="308.20" width="1.3" height="1.3" fill="#4a4a4a"/><rect x="387.61" y="308.20" width="1.3" height="1.3" fill="#4a4a4a"/><rect x="391.03" y="308.20" width="1.3" height="1.3" fill="#4a4a4a"/><rect x="394.45" y="308.20" width="1.3" height="1.3" fill="#4a4a4a"/><rect x="397.87" y="308.20" width="1.3" height="1.3" fill="#4a4a4a"/><rect x="401.29" y="308.20" width="1.3" height="1.3" fill="#4a4a4a"/><rect x="404.71" y="308.20" width="1.3" height="1.3" fill="#4a4a4a"/><rect x="408.13" y="308.20" width="1.3" height="1.3" fill="#4a4a4a"/><text x="412.20" y="309.35" class="sq" fill="#8e5e48" stroke="#8e5e48">G</text><text x="415.62" y="309.35" class="sq" fill="#8e5e48" stroke="#8e5e48">A</text><text x="419.04" y="309.35" class="sq" fill="#8e5e48" stroke="#8e5e48">C</text><text x="422.46" y="309.35" class="sq" fill="#8e5e48" stroke="#8e5e48">G</text><rect x="425.23" y="308.20" width="1.3" height="1.3" fill="#4a4a4a"/><rect x="428.65" y="308.20" width="1.3" height="1.3" fill="#4a4a4a"/><rect x="432.07" y="308.20" width="1.3" height="1.3" fill="#4a4a4a"/>
<rect x="307.35" y="315.53" width="1.3" height="1.3" fill="#4a4a4a"/><rect x="310.73" y="315.53" width="1.3" height="1.3" fill="#4a4a4a"/><rect x="314.10" y="315.53" width="1.3" height="1.3" fill="#4a4a4a"/><rect x="317.48" y="315.53" width="1.3" height="1.3" fill="#4a4a4a"/><rect x="320.85" y="315.53" width="1.3" height="1.3" fill="#4a4a4a"/><rect x="324.23" y="315.53" width="1.3" height="1.3" fill="#4a4a4a"/><rect x="327.60" y="315.53" width="1.3" height="1.3" fill="#4a4a4a"/><rect x="330.98" y="315.53" width="1.3" height="1.3" fill="#4a4a4a"/><rect x="334.35" y="315.53" width="1.3" height="1.3" fill="#4a4a4a"/><rect x="337.73" y="315.53" width="1.3" height="1.3" fill="#4a4a4a"/><rect x="341.10" y="315.53" width="1.3" height="1.3" fill="#4a4a4a"/><text x="345.12" y="316.68" class="sq" fill="#5a78d0" stroke="#5a78d0">G</text><rect x="347.85" y="315.53" width="1.3" height="1.3" fill="#4a4a4a"/><rect x="351.23" y="315.53" width="1.3" height="1.3" fill="#4a4a4a"/><rect x="354.60" y="315.53" width="1.3" height="1.3" fill="#4a4a4a"/><rect x="357.98" y="315.53" width="1.3" height="1.3" fill="#4a4a4a"/><rect x="361.35" y="315.53" width="1.3" height="1.3" fill="#4a4a4a"/>
<rect x="377.35" y="315.53" width="1.3" height="1.3" fill="#4a4a4a"/><rect x="380.77" y="315.53" width="1.3" height="1.3" fill="#4a4a4a"/><rect x="384.19" y="315.53" width="1.3" height="1.3" fill="#4a4a4a"/><rect x="387.61" y="315.53" width="1.3" height="1.3" fill="#4a4a4a"/><rect x="391.03" y="315.53" width="1.3" height="1.3" fill="#4a4a4a"/><rect x="394.45" y="315.53" width="1.3" height="1.3" fill="#4a4a4a"/><rect x="397.87" y="315.53" width="1.3" height="1.3" fill="#4a4a4a"/><rect x="401.29" y="315.53" width="1.3" height="1.3" fill="#4a4a4a"/><rect x="404.71" y="315.53" width="1.3" height="1.3" fill="#4a4a4a"/><rect x="408.13" y="315.53" width="1.3" height="1.3" fill="#4a4a4a"/><text x="412.20" y="316.68" class="sq" fill="#8e5e48" stroke="#8e5e48">G</text><text x="415.62" y="316.68" class="sq" fill="#8e5e48" stroke="#8e5e48">A</text><text x="419.04" y="316.68" class="sq" fill="#8e5e48" stroke="#8e5e48">C</text><text x="422.46" y="316.68" class="sq" fill="#8e5e48" stroke="#8e5e48">G</text><rect x="425.23" y="315.53" width="1.3" height="1.3" fill="#4a4a4a"/><rect x="428.65" y="315.53" width="1.3" height="1.3" fill="#4a4a4a"/><rect x="432.07" y="315.53" width="1.3" height="1.3" fill="#4a4a4a"/>
<rect x="307.35" y="322.86" width="1.3" height="1.3" fill="#4a4a4a"/><rect x="310.73" y="322.86" width="1.3" height="1.3" fill="#4a4a4a"/><rect x="314.10" y="322.86" width="1.3" height="1.3" fill="#4a4a4a"/><rect x="317.48" y="322.86" width="1.3" height="1.3" fill="#4a4a4a"/><rect x="320.85" y="322.86" width="1.3" height="1.3" fill="#4a4a4a"/><rect x="324.23" y="322.86" width="1.3" height="1.3" fill="#4a4a4a"/><rect x="327.60" y="322.86" width="1.3" height="1.3" fill="#4a4a4a"/><rect x="330.98" y="322.86" width="1.3" height="1.3" fill="#4a4a4a"/><rect x="334.35" y="322.86" width="1.3" height="1.3" fill="#4a4a4a"/><rect x="337.73" y="322.86" width="1.3" height="1.3" fill="#4a4a4a"/><rect x="341.10" y="322.86" width="1.3" height="1.3" fill="#4a4a4a"/><text x="345.12" y="324.01" class="sq" fill="#5a78d0" stroke="#5a78d0">G</text><rect x="347.85" y="322.86" width="1.3" height="1.3" fill="#4a4a4a"/><rect x="351.23" y="322.86" width="1.3" height="1.3" fill="#4a4a4a"/><text x="355.25" y="324.01" class="sq" fill="#3a3a3a" stroke="#3a3a3a">C</text><rect x="357.98" y="322.86" width="1.3" height="1.3" fill="#4a4a4a"/><rect x="361.35" y="322.86" width="1.3" height="1.3" fill="#4a4a4a"/>
<rect x="377.35" y="322.86" width="1.3" height="1.3" fill="#4a4a4a"/><rect x="380.77" y="322.86" width="1.3" height="1.3" fill="#4a4a4a"/><rect x="384.19" y="322.86" width="1.3" height="1.3" fill="#4a4a4a"/><rect x="387.61" y="322.86" width="1.3" height="1.3" fill="#4a4a4a"/><rect x="391.03" y="322.86" width="1.3" height="1.3" fill="#4a4a4a"/><rect x="394.45" y="322.86" width="1.3" height="1.3" fill="#4a4a4a"/><rect x="397.87" y="322.86" width="1.3" height="1.3" fill="#4a4a4a"/><rect x="401.29" y="322.86" width="1.3" height="1.3" fill="#4a4a4a"/><rect x="404.71" y="322.86" width="1.3" height="1.3" fill="#4a4a4a"/><rect x="408.13" y="322.86" width="1.3" height="1.3" fill="#4a4a4a"/><text x="412.20" y="324.01" class="sq" fill="#4a5a3a" stroke="#4a5a3a">A</text><text x="415.62" y="324.01" class="sq" fill="#5a78d0" stroke="#5a78d0">G</text><text x="419.04" y="324.01" class="sq" fill="#5a78d0" stroke="#5a78d0">A</text><text x="422.46" y="324.01" class="sq" fill="#5a78d0" stroke="#5a78d0">G</text><rect x="425.23" y="322.86" width="1.3" height="1.3" fill="#4a4a4a"/><text x="429.30" y="324.01" class="sq" fill="#4a4a4a" stroke="#4a4a4a">G</text><rect x="432.07" y="322.86" width="1.3" height="1.3" fill="#4a4a4a"/>
<rect x="307.35" y="330.19" width="1.3" height="1.3" fill="#4a4a4a"/><rect x="310.73" y="330.19" width="1.3" height="1.3" fill="#4a4a4a"/><rect x="314.10" y="330.19" width="1.3" height="1.3" fill="#4a4a4a"/><rect x="317.48" y="330.19" width="1.3" height="1.3" fill="#4a4a4a"/><rect x="320.85" y="330.19" width="1.3" height="1.3" fill="#4a4a4a"/><rect x="324.23" y="330.19" width="1.3" height="1.3" fill="#4a4a4a"/><rect x="327.60" y="330.19" width="1.3" height="1.3" fill="#4a4a4a"/><rect x="330.98" y="330.19" width="1.3" height="1.3" fill="#4a4a4a"/><rect x="334.35" y="330.19" width="1.3" height="1.3" fill="#4a4a4a"/><rect x="337.73" y="330.19" width="1.3" height="1.3" fill="#4a4a4a"/><rect x="341.10" y="330.19" width="1.3" height="1.3" fill="#4a4a4a"/><text x="345.12" y="331.34" class="sq" fill="#5a78d0" stroke="#5a78d0">G</text><rect x="347.85" y="330.19" width="1.3" height="1.3" fill="#4a4a4a"/><rect x="351.23" y="330.19" width="1.3" height="1.3" fill="#4a4a4a"/><rect x="354.60" y="330.19" width="1.3" height="1.3" fill="#4a4a4a"/><rect x="357.98" y="330.19" width="1.3" height="1.3" fill="#4a4a4a"/><rect x="361.35" y="330.19" width="1.3" height="1.3" fill="#4a4a4a"/>
<rect x="377.35" y="330.19" width="1.3" height="1.3" fill="#4a4a4a"/><rect x="380.77" y="330.19" width="1.3" height="1.3" fill="#4a4a4a"/><rect x="384.19" y="330.19" width="1.3" height="1.3" fill="#4a4a4a"/><rect x="387.61" y="330.19" width="1.3" height="1.3" fill="#4a4a4a"/><rect x="391.03" y="330.19" width="1.3" height="1.3" fill="#4a4a4a"/><rect x="394.45" y="330.19" width="1.3" height="1.3" fill="#4a4a4a"/><rect x="397.87" y="330.19" width="1.3" height="1.3" fill="#4a4a4a"/><rect x="401.29" y="330.19" width="1.3" height="1.3" fill="#4a4a4a"/><rect x="404.71" y="330.19" width="1.3" height="1.3" fill="#4a4a4a"/><rect x="408.13" y="330.19" width="1.3" height="1.3" fill="#4a4a4a"/><text x="412.20" y="331.34" class="sq" fill="#4a5a3a" stroke="#4a5a3a">A</text><text x="415.62" y="331.34" class="sq" fill="#5a78d0" stroke="#5a78d0">G</text><text x="419.04" y="331.34" class="sq" fill="#5a78d0" stroke="#5a78d0">A</text><text x="422.46" y="331.34" class="sq" fill="#5a78d0" stroke="#5a78d0">G</text><rect x="425.23" y="330.19" width="1.3" height="1.3" fill="#4a4a4a"/><text x="429.30" y="331.34" class="sq" fill="#4a4a4a" stroke="#4a4a4a">G</text><rect x="432.07" y="330.19" width="1.3" height="1.3" fill="#4a4a4a"/>
<rect x="307.35" y="337.52" width="1.3" height="1.3" fill="#4a4a4a"/><rect x="310.73" y="337.52" width="1.3" height="1.3" fill="#4a4a4a"/><rect x="314.10" y="337.52" width="1.3" height="1.3" fill="#4a4a4a"/><rect x="317.48" y="337.52" width="1.3" height="1.3" fill="#4a4a4a"/><rect x="320.85" y="337.52" width="1.3" height="1.3" fill="#4a4a4a"/><rect x="324.23" y="337.52" width="1.3" height="1.3" fill="#4a4a4a"/><rect x="327.60" y="337.52" width="1.3" height="1.3" fill="#4a4a4a"/><rect x="330.98" y="337.52" width="1.3" height="1.3" fill="#4a4a4a"/><rect x="334.35" y="337.52" width="1.3" height="1.3" fill="#4a4a4a"/><rect x="337.73" y="337.52" width="1.3" height="1.3" fill="#4a4a4a"/><rect x="341.10" y="337.52" width="1.3" height="1.3" fill="#4a4a4a"/><text x="345.12" y="338.67" class="sq" fill="#5a78d0" stroke="#5a78d0">G</text><rect x="347.85" y="337.52" width="1.3" height="1.3" fill="#4a4a4a"/><rect x="351.23" y="337.52" width="1.3" height="1.3" fill="#4a4a4a"/><rect x="354.60" y="337.52" width="1.3" height="1.3" fill="#4a4a4a"/><rect x="357.98" y="337.52" width="1.3" height="1.3" fill="#4a4a4a"/><rect x="361.35" y="337.52" width="1.3" height="1.3" fill="#4a4a4a"/>
<rect x="377.35" y="337.52" width="1.3" height="1.3" fill="#4a4a4a"/><rect x="380.77" y="337.52" width="1.3" height="1.3" fill="#4a4a4a"/><rect x="384.19" y="337.52" width="1.3" height="1.3" fill="#4a4a4a"/><rect x="387.61" y="337.52" width="1.3" height="1.3" fill="#4a4a4a"/><rect x="391.03" y="337.52" width="1.3" height="1.3" fill="#4a4a4a"/><rect x="394.45" y="337.52" width="1.3" height="1.3" fill="#4a4a4a"/><rect x="397.87" y="337.52" width="1.3" height="1.3" fill="#4a4a4a"/><rect x="401.29" y="337.52" width="1.3" height="1.3" fill="#4a4a4a"/><rect x="404.71" y="337.52" width="1.3" height="1.3" fill="#4a4a4a"/><rect x="408.13" y="337.52" width="1.3" height="1.3" fill="#4a4a4a"/><text x="412.20" y="338.67" class="sq" fill="#4a5a3a" stroke="#4a5a3a">A</text><text x="415.62" y="338.67" class="sq" fill="#5a78d0" stroke="#5a78d0">G</text><text x="419.04" y="338.67" class="sq" fill="#5a78d0" stroke="#5a78d0">A</text><text x="422.46" y="338.67" class="sq" fill="#5a78d0" stroke="#5a78d0">G</text><rect x="425.23" y="337.52" width="1.3" height="1.3" fill="#4a4a4a"/><text x="429.30" y="338.67" class="sq" fill="#4a4a4a" stroke="#4a4a4a">G</text><text x="432.72" y="338.67" class="sq" fill="#4a4a4a" stroke="#4a4a4a">A</text>
<rect x="307.35" y="344.85" width="1.3" height="1.3" fill="#4a4a4a"/><rect x="310.73" y="344.85" width="1.3" height="1.3" fill="#4a4a4a"/><rect x="314.10" y="344.85" width="1.3" height="1.3" fill="#4a4a4a"/><rect x="317.48" y="344.85" width="1.3" height="1.3" fill="#4a4a4a"/><rect x="320.85" y="344.85" width="1.3" height="1.3" fill="#4a4a4a"/><rect x="324.23" y="344.85" width="1.3" height="1.3" fill="#4a4a4a"/><rect x="327.60" y="344.85" width="1.3" height="1.3" fill="#4a4a4a"/><rect x="330.98" y="344.85" width="1.3" height="1.3" fill="#4a4a4a"/><rect x="334.35" y="344.85" width="1.3" height="1.3" fill="#4a4a4a"/><rect x="337.73" y="344.85" width="1.3" height="1.3" fill="#4a4a4a"/><rect x="341.10" y="344.85" width="1.3" height="1.3" fill="#4a4a4a"/><text x="345.12" y="346.00" class="sq" fill="#5a78d0" stroke="#5a78d0">G</text><rect x="347.85" y="344.85" width="1.3" height="1.3" fill="#4a4a4a"/><rect x="351.23" y="344.85" width="1.3" height="1.3" fill="#4a4a4a"/><rect x="354.60" y="344.85" width="1.3" height="1.3" fill="#4a4a4a"/><rect x="357.98" y="344.85" width="1.3" height="1.3" fill="#4a4a4a"/><rect x="361.35" y="344.85" width="1.3" height="1.3" fill="#4a4a4a"/>
<rect x="377.35" y="344.85" width="1.3" height="1.3" fill="#4a4a4a"/><rect x="380.77" y="344.85" width="1.3" height="1.3" fill="#4a4a4a"/><rect x="384.19" y="344.85" width="1.3" height="1.3" fill="#4a4a4a"/><rect x="387.61" y="344.85" width="1.3" height="1.3" fill="#4a4a4a"/><rect x="391.03" y="344.85" width="1.3" height="1.3" fill="#4a4a4a"/><rect x="394.45" y="344.85" width="1.3" height="1.3" fill="#4a4a4a"/><rect x="397.87" y="344.85" width="1.3" height="1.3" fill="#4a4a4a"/><rect x="401.29" y="344.85" width="1.3" height="1.3" fill="#4a4a4a"/><rect x="404.71" y="344.85" width="1.3" height="1.3" fill="#4a4a4a"/><rect x="408.13" y="344.85" width="1.3" height="1.3" fill="#4a4a4a"/><text x="412.20" y="346.00" class="sq" fill="#4a5a3a" stroke="#4a5a3a">A</text><text x="415.62" y="346.00" class="sq" fill="#5a78d0" stroke="#5a78d0">G</text><text x="419.04" y="346.00" class="sq" fill="#5a78d0" stroke="#5a78d0">A</text><text x="422.46" y="346.00" class="sq" fill="#5a78d0" stroke="#5a78d0">G</text><rect x="425.23" y="344.85" width="1.3" height="1.3" fill="#4a4a4a"/><text x="429.30" y="346.00" class="sq" fill="#4a4a4a" stroke="#4a4a4a">G</text><text x="432.72" y="346.00" class="sq" fill="#4a4a4a" stroke="#4a4a4a">A</text>
<rect x="307.35" y="352.18" width="1.3" height="1.3" fill="#4a4a4a"/><rect x="310.73" y="352.18" width="1.3" height="1.3" fill="#4a4a4a"/><rect x="314.10" y="352.18" width="1.3" height="1.3" fill="#4a4a4a"/><rect x="317.48" y="352.18" width="1.3" height="1.3" fill="#4a4a4a"/><rect x="320.85" y="352.18" width="1.3" height="1.3" fill="#4a4a4a"/><rect x="324.23" y="352.18" width="1.3" height="1.3" fill="#4a4a4a"/><rect x="327.60" y="352.18" width="1.3" height="1.3" fill="#4a4a4a"/><rect x="330.98" y="352.18" width="1.3" height="1.3" fill="#4a4a4a"/><rect x="334.35" y="352.18" width="1.3" height="1.3" fill="#4a4a4a"/><rect x="337.73" y="352.18" width="1.3" height="1.3" fill="#4a4a4a"/><rect x="341.10" y="352.18" width="1.3" height="1.3" fill="#4a4a4a"/><text x="345.12" y="353.33" class="sq" fill="#5a78d0" stroke="#5a78d0">G</text><rect x="347.85" y="352.18" width="1.3" height="1.3" fill="#4a4a4a"/><rect x="351.23" y="352.18" width="1.3" height="1.3" fill="#4a4a4a"/><rect x="354.60" y="352.18" width="1.3" height="1.3" fill="#4a4a4a"/><rect x="357.98" y="352.18" width="1.3" height="1.3" fill="#4a4a4a"/><rect x="361.35" y="352.18" width="1.3" height="1.3" fill="#4a4a4a"/>
<rect x="377.35" y="352.18" width="1.3" height="1.3" fill="#4a4a4a"/><rect x="380.77" y="352.18" width="1.3" height="1.3" fill="#4a4a4a"/><rect x="384.19" y="352.18" width="1.3" height="1.3" fill="#4a4a4a"/><rect x="387.61" y="352.18" width="1.3" height="1.3" fill="#4a4a4a"/><rect x="391.03" y="352.18" width="1.3" height="1.3" fill="#4a4a4a"/><rect x="394.45" y="352.18" width="1.3" height="1.3" fill="#4a4a4a"/><rect x="397.87" y="352.18" width="1.3" height="1.3" fill="#4a4a4a"/><rect x="401.29" y="352.18" width="1.3" height="1.3" fill="#4a4a4a"/><rect x="404.71" y="352.18" width="1.3" height="1.3" fill="#4a4a4a"/><rect x="408.13" y="352.18" width="1.3" height="1.3" fill="#4a4a4a"/><text x="412.20" y="353.33" class="sq" fill="#4a5a3a" stroke="#4a5a3a">A</text><text x="415.62" y="353.33" class="sq" fill="#5a78d0" stroke="#5a78d0">G</text><text x="419.04" y="353.33" class="sq" fill="#5a78d0" stroke="#5a78d0">A</text><text x="422.46" y="353.33" class="sq" fill="#5a78d0" stroke="#5a78d0">G</text><rect x="425.23" y="352.18" width="1.3" height="1.3" fill="#4a4a4a"/><text x="429.30" y="353.33" class="sq" fill="#4a4a4a" stroke="#4a4a4a">G</text><text x="432.72" y="353.33" class="sq" fill="#4a4a4a" stroke="#4a4a4a">A</text>
<rect x="307.35" y="359.51" width="1.3" height="1.3" fill="#4a4a4a"/><rect x="310.73" y="359.51" width="1.3" height="1.3" fill="#4a4a4a"/><rect x="314.10" y="359.51" width="1.3" height="1.3" fill="#4a4a4a"/><rect x="317.48" y="359.51" width="1.3" height="1.3" fill="#4a4a4a"/><rect x="320.85" y="359.51" width="1.3" height="1.3" fill="#4a4a4a"/><rect x="324.23" y="359.51" width="1.3" height="1.3" fill="#4a4a4a"/><rect x="327.60" y="359.51" width="1.3" height="1.3" fill="#4a4a4a"/><rect x="330.98" y="359.51" width="1.3" height="1.3" fill="#4a4a4a"/><rect x="334.35" y="359.51" width="1.3" height="1.3" fill="#4a4a4a"/><rect x="337.73" y="359.51" width="1.3" height="1.3" fill="#4a4a4a"/><rect x="341.10" y="359.51" width="1.3" height="1.3" fill="#4a4a4a"/><text x="345.12" y="360.66" class="sq" fill="#5a78d0" stroke="#5a78d0">G</text><rect x="347.85" y="359.51" width="1.3" height="1.3" fill="#4a4a4a"/><rect x="351.23" y="359.51" width="1.3" height="1.3" fill="#4a4a4a"/><rect x="354.60" y="359.51" width="1.3" height="1.3" fill="#4a4a4a"/><rect x="357.98" y="359.51" width="1.3" height="1.3" fill="#4a4a4a"/><rect x="361.35" y="359.51" width="1.3" height="1.3" fill="#4a4a4a"/>
<rect x="377.35" y="359.51" width="1.3" height="1.3" fill="#4a4a4a"/><rect x="380.77" y="359.51" width="1.3" height="1.3" fill="#4a4a4a"/><rect x="384.19" y="359.51" width="1.3" height="1.3" fill="#4a4a4a"/><rect x="387.61" y="359.51" width="1.3" height="1.3" fill="#4a4a4a"/><rect x="391.03" y="359.51" width="1.3" height="1.3" fill="#4a4a4a"/><rect x="394.45" y="359.51" width="1.3" height="1.3" fill="#4a4a4a"/><rect x="397.87" y="359.51" width="1.3" height="1.3" fill="#4a4a4a"/><rect x="401.29" y="359.51" width="1.3" height="1.3" fill="#4a4a4a"/><rect x="404.71" y="359.51" width="1.3" height="1.3" fill="#4a4a4a"/><rect x="408.13" y="359.51" width="1.3" height="1.3" fill="#4a4a4a"/><text x="412.20" y="360.66" class="sq" fill="#4a5a3a" stroke="#4a5a3a">A</text><text x="415.62" y="360.66" class="sq" fill="#5a78d0" stroke="#5a78d0">G</text><text x="419.04" y="360.66" class="sq" fill="#5a78d0" stroke="#5a78d0">A</text><text x="422.46" y="360.66" class="sq" fill="#5a78d0" stroke="#5a78d0">G</text><rect x="425.23" y="359.51" width="1.3" height="1.3" fill="#4a4a4a"/><rect x="428.65" y="359.51" width="1.3" height="1.3" fill="#4a4a4a"/><text x="432.72" y="360.66" class="sq" fill="#4a4a4a" stroke="#4a4a4a">A</text>
<rect x="307.35" y="366.84" width="1.3" height="1.3" fill="#4a4a4a"/><rect x="310.73" y="366.84" width="1.3" height="1.3" fill="#4a4a4a"/><rect x="314.10" y="366.84" width="1.3" height="1.3" fill="#4a4a4a"/><rect x="317.48" y="366.84" width="1.3" height="1.3" fill="#4a4a4a"/><rect x="320.85" y="366.84" width="1.3" height="1.3" fill="#4a4a4a"/><rect x="324.23" y="366.84" width="1.3" height="1.3" fill="#4a4a4a"/><rect x="327.60" y="366.84" width="1.3" height="1.3" fill="#4a4a4a"/><rect x="330.98" y="366.84" width="1.3" height="1.3" fill="#4a4a4a"/><rect x="334.35" y="366.84" width="1.3" height="1.3" fill="#4a4a4a"/><rect x="337.73" y="366.84" width="1.3" height="1.3" fill="#4a4a4a"/><rect x="341.10" y="366.84" width="1.3" height="1.3" fill="#4a4a4a"/><text x="345.12" y="367.99" class="sq" fill="#5a78d0" stroke="#5a78d0">G</text><rect x="347.85" y="366.84" width="1.3" height="1.3" fill="#4a4a4a"/><rect x="351.23" y="366.84" width="1.3" height="1.3" fill="#4a4a4a"/><rect x="354.60" y="366.84" width="1.3" height="1.3" fill="#4a4a4a"/><rect x="357.98" y="366.84" width="1.3" height="1.3" fill="#4a4a4a"/><rect x="361.35" y="366.84" width="1.3" height="1.3" fill="#4a4a4a"/>
<rect x="377.35" y="366.84" width="1.3" height="1.3" fill="#4a4a4a"/><rect x="380.77" y="366.84" width="1.3" height="1.3" fill="#4a4a4a"/><rect x="384.19" y="366.84" width="1.3" height="1.3" fill="#4a4a4a"/><rect x="387.61" y="366.84" width="1.3" height="1.3" fill="#4a4a4a"/><rect x="391.03" y="366.84" width="1.3" height="1.3" fill="#4a4a4a"/><rect x="394.45" y="366.84" width="1.3" height="1.3" fill="#4a4a4a"/><rect x="397.87" y="366.84" width="1.3" height="1.3" fill="#4a4a4a"/><rect x="401.29" y="366.84" width="1.3" height="1.3" fill="#4a4a4a"/><rect x="404.71" y="366.84" width="1.3" height="1.3" fill="#4a4a4a"/><rect x="408.13" y="366.84" width="1.3" height="1.3" fill="#4a4a4a"/><text x="412.20" y="367.99" class="sq" fill="#4a5a3a" stroke="#4a5a3a">A</text><text x="415.62" y="367.99" class="sq" fill="#5a78d0" stroke="#5a78d0">G</text><text x="419.04" y="367.99" class="sq" fill="#5a78d0" stroke="#5a78d0">A</text><text x="422.46" y="367.99" class="sq" fill="#5a78d0" stroke="#5a78d0">G</text><rect x="425.23" y="366.84" width="1.3" height="1.3" fill="#4a4a4a"/><text x="429.30" y="367.99" class="sq" fill="#4a4a4a" stroke="#4a4a4a">G</text><text x="432.72" y="367.99" class="sq" fill="#4a4a4a" stroke="#4a4a4a">A</text>
<rect x="307.35" y="374.17" width="1.3" height="1.3" fill="#4a4a4a"/><rect x="310.73" y="374.17" width="1.3" height="1.3" fill="#4a4a4a"/><rect x="314.10" y="374.17" width="1.3" height="1.3" fill="#4a4a4a"/><rect x="317.48" y="374.17" width="1.3" height="1.3" fill="#4a4a4a"/><rect x="320.85" y="374.17" width="1.3" height="1.3" fill="#4a4a4a"/><rect x="324.23" y="374.17" width="1.3" height="1.3" fill="#4a4a4a"/><rect x="327.60" y="374.17" width="1.3" height="1.3" fill="#4a4a4a"/><rect x="330.98" y="374.17" width="1.3" height="1.3" fill="#4a4a4a"/><rect x="334.35" y="374.17" width="1.3" height="1.3" fill="#4a4a4a"/><rect x="337.73" y="374.17" width="1.3" height="1.3" fill="#4a4a4a"/><rect x="341.10" y="374.17" width="1.3" height="1.3" fill="#4a4a4a"/><text x="345.12" y="375.32" class="sq" fill="#5a78d0" stroke="#5a78d0">G</text><rect x="347.85" y="374.17" width="1.3" height="1.3" fill="#4a4a4a"/><rect x="351.23" y="374.17" width="1.3" height="1.3" fill="#4a4a4a"/><rect x="354.60" y="374.17" width="1.3" height="1.3" fill="#4a4a4a"/><rect x="357.98" y="374.17" width="1.3" height="1.3" fill="#4a4a4a"/><rect x="361.35" y="374.17" width="1.3" height="1.3" fill="#4a4a4a"/>
<rect x="377.35" y="374.17" width="1.3" height="1.3" fill="#4a4a4a"/><rect x="380.77" y="374.17" width="1.3" height="1.3" fill="#4a4a4a"/><rect x="384.19" y="374.17" width="1.3" height="1.3" fill="#4a4a4a"/><rect x="387.61" y="374.17" width="1.3" height="1.3" fill="#4a4a4a"/><rect x="391.03" y="374.17" width="1.3" height="1.3" fill="#4a4a4a"/><rect x="394.45" y="374.17" width="1.3" height="1.3" fill="#4a4a4a"/><rect x="397.87" y="374.17" width="1.3" height="1.3" fill="#4a4a4a"/><rect x="401.29" y="374.17" width="1.3" height="1.3" fill="#4a4a4a"/><rect x="404.71" y="374.17" width="1.3" height="1.3" fill="#4a4a4a"/><rect x="408.13" y="374.17" width="1.3" height="1.3" fill="#4a4a4a"/><text x="412.20" y="375.32" class="sq" fill="#4a5a3a" stroke="#4a5a3a">A</text><text x="415.62" y="375.32" class="sq" fill="#5a78d0" stroke="#5a78d0">G</text><text x="419.04" y="375.32" class="sq" fill="#5a78d0" stroke="#5a78d0">A</text><text x="422.46" y="375.32" class="sq" fill="#5a78d0" stroke="#5a78d0">G</text><rect x="425.23" y="374.17" width="1.3" height="1.3" fill="#4a4a4a"/><text x="429.30" y="375.32" class="sq" fill="#4a4a4a" stroke="#4a4a4a">G</text><text x="432.72" y="375.32" class="sq" fill="#4a4a4a" stroke="#4a4a4a">A</text>
<rect x="307.35" y="381.50" width="1.3" height="1.3" fill="#4a4a4a"/><rect x="310.73" y="381.50" width="1.3" height="1.3" fill="#4a4a4a"/><rect x="314.10" y="381.50" width="1.3" height="1.3" fill="#4a4a4a"/><rect x="317.48" y="381.50" width="1.3" height="1.3" fill="#4a4a4a"/><rect x="320.85" y="381.50" width="1.3" height="1.3" fill="#4a4a4a"/><rect x="324.23" y="381.50" width="1.3" height="1.3" fill="#4a4a4a"/><rect x="327.60" y="381.50" width="1.3" height="1.3" fill="#4a4a4a"/><rect x="330.98" y="381.50" width="1.3" height="1.3" fill="#4a4a4a"/><rect x="334.35" y="381.50" width="1.3" height="1.3" fill="#4a4a4a"/><rect x="337.73" y="381.50" width="1.3" height="1.3" fill="#4a4a4a"/><rect x="341.10" y="381.50" width="1.3" height="1.3" fill="#4a4a4a"/><text x="345.12" y="382.65" class="sq" fill="#5a78d0" stroke="#5a78d0">G</text><rect x="347.85" y="381.50" width="1.3" height="1.3" fill="#4a4a4a"/><rect x="351.23" y="381.50" width="1.3" height="1.3" fill="#4a4a4a"/><rect x="354.60" y="381.50" width="1.3" height="1.3" fill="#4a4a4a"/><rect x="357.98" y="381.50" width="1.3" height="1.3" fill="#4a4a4a"/><rect x="361.35" y="381.50" width="1.3" height="1.3" fill="#4a4a4a"/>
<rect x="377.35" y="381.50" width="1.3" height="1.3" fill="#4a4a4a"/><rect x="380.77" y="381.50" width="1.3" height="1.3" fill="#4a4a4a"/><rect x="384.19" y="381.50" width="1.3" height="1.3" fill="#4a4a4a"/><rect x="387.61" y="381.50" width="1.3" height="1.3" fill="#4a4a4a"/><rect x="391.03" y="381.50" width="1.3" height="1.3" fill="#4a4a4a"/><rect x="394.45" y="381.50" width="1.3" height="1.3" fill="#4a4a4a"/><rect x="397.87" y="381.50" width="1.3" height="1.3" fill="#4a4a4a"/><rect x="401.29" y="381.50" width="1.3" height="1.3" fill="#4a4a4a"/><rect x="404.71" y="381.50" width="1.3" height="1.3" fill="#4a4a4a"/><rect x="408.13" y="381.50" width="1.3" height="1.3" fill="#4a4a4a"/><text x="412.20" y="382.65" class="sq" fill="#4a5a3a" stroke="#4a5a3a">A</text><text x="415.62" y="382.65" class="sq" fill="#5a78d0" stroke="#5a78d0">G</text><text x="419.04" y="382.65" class="sq" fill="#5a78d0" stroke="#5a78d0">A</text><text x="422.46" y="382.65" class="sq" fill="#5a78d0" stroke="#5a78d0">G</text><rect x="425.23" y="381.50" width="1.3" height="1.3" fill="#4a4a4a"/><text x="429.30" y="382.65" class="sq" fill="#4a4a4a" stroke="#4a4a4a">G</text><text x="432.72" y="382.65" class="sq" fill="#4a4a4a" stroke="#4a4a4a">A</text>
<rect x="307.35" y="388.83" width="1.3" height="1.3" fill="#4a4a4a"/><rect x="310.73" y="388.83" width="1.3" height="1.3" fill="#4a4a4a"/><rect x="314.10" y="388.83" width="1.3" height="1.3" fill="#4a4a4a"/><rect x="317.48" y="388.83" width="1.3" height="1.3" fill="#4a4a4a"/><rect x="320.85" y="388.83" width="1.3" height="1.3" fill="#4a4a4a"/><rect x="324.23" y="388.83" width="1.3" height="1.3" fill="#4a4a4a"/><rect x="327.60" y="388.83" width="1.3" height="1.3" fill="#4a4a4a"/><rect x="330.98" y="388.83" width="1.3" height="1.3" fill="#4a4a4a"/><rect x="334.35" y="388.83" width="1.3" height="1.3" fill="#4a4a4a"/><rect x="337.73" y="388.83" width="1.3" height="1.3" fill="#4a4a4a"/><rect x="341.10" y="388.83" width="1.3" height="1.3" fill="#4a4a4a"/><text x="345.12" y="389.98" class="sq" fill="#5a78d0" stroke="#5a78d0">G</text><rect x="347.85" y="388.83" width="1.3" height="1.3" fill="#4a4a4a"/><rect x="351.23" y="388.83" width="1.3" height="1.3" fill="#4a4a4a"/><rect x="354.60" y="388.83" width="1.3" height="1.3" fill="#4a4a4a"/><rect x="357.98" y="388.83" width="1.3" height="1.3" fill="#4a4a4a"/><rect x="361.35" y="388.83" width="1.3" height="1.3" fill="#4a4a4a"/>
<rect x="377.35" y="388.83" width="1.3" height="1.3" fill="#4a4a4a"/><rect x="380.77" y="388.83" width="1.3" height="1.3" fill="#4a4a4a"/><rect x="384.19" y="388.83" width="1.3" height="1.3" fill="#4a4a4a"/><rect x="387.61" y="388.83" width="1.3" height="1.3" fill="#4a4a4a"/><rect x="391.03" y="388.83" width="1.3" height="1.3" fill="#4a4a4a"/><rect x="394.45" y="388.83" width="1.3" height="1.3" fill="#4a4a4a"/><rect x="397.87" y="388.83" width="1.3" height="1.3" fill="#4a4a4a"/><rect x="401.29" y="388.83" width="1.3" height="1.3" fill="#4a4a4a"/><rect x="404.71" y="388.83" width="1.3" height="1.3" fill="#4a4a4a"/><rect x="408.13" y="388.83" width="1.3" height="1.3" fill="#4a4a4a"/><text x="412.20" y="389.98" class="sq" fill="#4a5a3a" stroke="#4a5a3a">A</text><text x="415.62" y="389.98" class="sq" fill="#5a78d0" stroke="#5a78d0">G</text><text x="419.04" y="389.98" class="sq" fill="#5a78d0" stroke="#5a78d0">A</text><text x="422.46" y="389.98" class="sq" fill="#5a78d0" stroke="#5a78d0">G</text><rect x="425.23" y="388.83" width="1.3" height="1.3" fill="#4a4a4a"/><text x="429.30" y="389.98" class="sq" fill="#4a4a4a" stroke="#4a4a4a">G</text><text x="432.72" y="389.98" class="sq" fill="#4a4a4a" stroke="#4a4a4a">A</text>
<rect x="307.35" y="396.16" width="1.3" height="1.3" fill="#4a4a4a"/><rect x="310.73" y="396.16" width="1.3" height="1.3" fill="#4a4a4a"/><rect x="314.10" y="396.16" width="1.3" height="1.3" fill="#4a4a4a"/><rect x="317.48" y="396.16" width="1.3" height="1.3" fill="#4a4a4a"/><rect x="320.85" y="396.16" width="1.3" height="1.3" fill="#4a4a4a"/><rect x="324.23" y="396.16" width="1.3" height="1.3" fill="#4a4a4a"/><rect x="327.60" y="396.16" width="1.3" height="1.3" fill="#4a4a4a"/><rect x="330.98" y="396.16" width="1.3" height="1.3" fill="#4a4a4a"/><rect x="334.35" y="396.16" width="1.3" height="1.3" fill="#4a4a4a"/><rect x="337.73" y="396.16" width="1.3" height="1.3" fill="#4a4a4a"/><rect x="341.10" y="396.16" width="1.3" height="1.3" fill="#4a4a4a"/><text x="345.12" y="397.31" class="sq" fill="#5a78d0" stroke="#5a78d0">G</text><rect x="347.85" y="396.16" width="1.3" height="1.3" fill="#4a4a4a"/><rect x="351.23" y="396.16" width="1.3" height="1.3" fill="#4a4a4a"/><rect x="354.60" y="396.16" width="1.3" height="1.3" fill="#4a4a4a"/><rect x="357.98" y="396.16" width="1.3" height="1.3" fill="#4a4a4a"/><rect x="361.35" y="396.16" width="1.3" height="1.3" fill="#4a4a4a"/>
<rect x="377.35" y="396.16" width="1.3" height="1.3" fill="#4a4a4a"/><rect x="380.77" y="396.16" width="1.3" height="1.3" fill="#4a4a4a"/><rect x="384.19" y="396.16" width="1.3" height="1.3" fill="#4a4a4a"/><rect x="387.61" y="396.16" width="1.3" height="1.3" fill="#4a4a4a"/><rect x="391.03" y="396.16" width="1.3" height="1.3" fill="#4a4a4a"/><rect x="394.45" y="396.16" width="1.3" height="1.3" fill="#4a4a4a"/><rect x="397.87" y="396.16" width="1.3" height="1.3" fill="#4a4a4a"/><rect x="401.29" y="396.16" width="1.3" height="1.3" fill="#4a4a4a"/><rect x="404.71" y="396.16" width="1.3" height="1.3" fill="#4a4a4a"/><rect x="408.13" y="396.16" width="1.3" height="1.3" fill="#4a4a4a"/><text x="412.20" y="397.31" class="sq" fill="#4a5a3a" stroke="#4a5a3a">A</text><text x="415.62" y="397.31" class="sq" fill="#5a78d0" stroke="#5a78d0">G</text><text x="419.04" y="397.31" class="sq" fill="#5a78d0" stroke="#5a78d0">A</text><text x="422.46" y="397.31" class="sq" fill="#5a78d0" stroke="#5a78d0">G</text><rect x="425.23" y="396.16" width="1.3" height="1.3" fill="#4a4a4a"/><text x="429.30" y="397.31" class="sq" fill="#4a4a4a" stroke="#4a4a4a">G</text><text x="432.72" y="397.31" class="sq" fill="#4a4a4a" stroke="#4a4a4a">A</text>
<rect x="307.35" y="403.49" width="1.3" height="1.3" fill="#4a4a4a"/><rect x="310.73" y="403.49" width="1.3" height="1.3" fill="#4a4a4a"/><rect x="314.10" y="403.49" width="1.3" height="1.3" fill="#4a4a4a"/><rect x="317.48" y="403.49" width="1.3" height="1.3" fill="#4a4a4a"/><rect x="320.85" y="403.49" width="1.3" height="1.3" fill="#4a4a4a"/><rect x="324.23" y="403.49" width="1.3" height="1.3" fill="#4a4a4a"/><rect x="327.60" y="403.49" width="1.3" height="1.3" fill="#4a4a4a"/><rect x="330.98" y="403.49" width="1.3" height="1.3" fill="#4a4a4a"/><rect x="334.35" y="403.49" width="1.3" height="1.3" fill="#4a4a4a"/><rect x="337.73" y="403.49" width="1.3" height="1.3" fill="#4a4a4a"/><rect x="341.10" y="403.49" width="1.3" height="1.3" fill="#4a4a4a"/><text x="345.12" y="404.64" class="sq" fill="#5a78d0" stroke="#5a78d0">G</text><rect x="347.85" y="403.49" width="1.3" height="1.3" fill="#4a4a4a"/><rect x="351.23" y="403.49" width="1.3" height="1.3" fill="#4a4a4a"/><rect x="354.60" y="403.49" width="1.3" height="1.3" fill="#4a4a4a"/><rect x="357.98" y="403.49" width="1.3" height="1.3" fill="#4a4a4a"/><rect x="361.35" y="403.49" width="1.3" height="1.3" fill="#4a4a4a"/>
<rect x="377.35" y="403.49" width="1.3" height="1.3" fill="#4a4a4a"/><rect x="380.77" y="403.49" width="1.3" height="1.3" fill="#4a4a4a"/><rect x="384.19" y="403.49" width="1.3" height="1.3" fill="#4a4a4a"/><rect x="387.61" y="403.49" width="1.3" height="1.3" fill="#4a4a4a"/><rect x="391.03" y="403.49" width="1.3" height="1.3" fill="#4a4a4a"/><rect x="394.45" y="403.49" width="1.3" height="1.3" fill="#4a4a4a"/><rect x="397.87" y="403.49" width="1.3" height="1.3" fill="#4a4a4a"/><rect x="401.29" y="403.49" width="1.3" height="1.3" fill="#4a4a4a"/><rect x="404.71" y="403.49" width="1.3" height="1.3" fill="#4a4a4a"/><rect x="408.13" y="403.49" width="1.3" height="1.3" fill="#4a4a4a"/><text x="412.20" y="404.64" class="sq" fill="#4a5a3a" stroke="#4a5a3a">A</text><text x="415.62" y="404.64" class="sq" fill="#5a78d0" stroke="#5a78d0">G</text><text x="419.04" y="404.64" class="sq" fill="#5a78d0" stroke="#5a78d0">A</text><text x="422.46" y="404.64" class="sq" fill="#5a78d0" stroke="#5a78d0">G</text><rect x="425.23" y="403.49" width="1.3" height="1.3" fill="#4a4a4a"/><text x="429.30" y="404.64" class="sq" fill="#4a4a4a" stroke="#4a4a4a">G</text><text x="432.72" y="404.64" class="sq" fill="#4a4a4a" stroke="#4a4a4a">A</text>
<rect x="307.35" y="410.82" width="1.3" height="1.3" fill="#4a4a4a"/><rect x="310.73" y="410.82" width="1.3" height="1.3" fill="#4a4a4a"/><rect x="314.10" y="410.82" width="1.3" height="1.3" fill="#4a4a4a"/><rect x="317.48" y="410.82" width="1.3" height="1.3" fill="#4a4a4a"/><rect x="320.85" y="410.82" width="1.3" height="1.3" fill="#4a4a4a"/><rect x="324.23" y="410.82" width="1.3" height="1.3" fill="#4a4a4a"/><rect x="327.60" y="410.82" width="1.3" height="1.3" fill="#4a4a4a"/><rect x="330.98" y="410.82" width="1.3" height="1.3" fill="#4a4a4a"/><rect x="334.35" y="410.82" width="1.3" height="1.3" fill="#4a4a4a"/><rect x="337.73" y="410.82" width="1.3" height="1.3" fill="#4a4a4a"/><rect x="341.10" y="410.82" width="1.3" height="1.3" fill="#4a4a4a"/><text x="345.12" y="411.97" class="sq" fill="#5a78d0" stroke="#5a78d0">G</text><rect x="347.85" y="410.82" width="1.3" height="1.3" fill="#4a4a4a"/><rect x="351.23" y="410.82" width="1.3" height="1.3" fill="#4a4a4a"/><rect x="354.60" y="410.82" width="1.3" height="1.3" fill="#4a4a4a"/><rect x="357.98" y="410.82" width="1.3" height="1.3" fill="#4a4a4a"/><rect x="361.35" y="410.82" width="1.3" height="1.3" fill="#4a4a4a"/>
<rect x="377.35" y="410.82" width="1.3" height="1.3" fill="#4a4a4a"/><rect x="380.77" y="410.82" width="1.3" height="1.3" fill="#4a4a4a"/><rect x="384.19" y="410.82" width="1.3" height="1.3" fill="#4a4a4a"/><rect x="387.61" y="410.82" width="1.3" height="1.3" fill="#4a4a4a"/><rect x="391.03" y="410.82" width="1.3" height="1.3" fill="#4a4a4a"/><rect x="394.45" y="410.82" width="1.3" height="1.3" fill="#4a4a4a"/><rect x="397.87" y="410.82" width="1.3" height="1.3" fill="#4a4a4a"/><rect x="401.29" y="410.82" width="1.3" height="1.3" fill="#4a4a4a"/><rect x="404.71" y="410.82" width="1.3" height="1.3" fill="#4a4a4a"/><rect x="408.13" y="410.82" width="1.3" height="1.3" fill="#4a4a4a"/><text x="412.20" y="411.97" class="sq" fill="#4a5a3a" stroke="#4a5a3a">A</text><text x="415.62" y="411.97" class="sq" fill="#5a78d0" stroke="#5a78d0">G</text><text x="419.04" y="411.97" class="sq" fill="#5a78d0" stroke="#5a78d0">A</text><text x="422.46" y="411.97" class="sq" fill="#5a78d0" stroke="#5a78d0">G</text><rect x="425.23" y="410.82" width="1.3" height="1.3" fill="#4a4a4a"/><text x="429.30" y="411.97" class="sq" fill="#4a4a4a" stroke="#4a4a4a">G</text><text x="432.72" y="411.97" class="sq" fill="#4a4a4a" stroke="#4a4a4a">A</text>
<rect x="307.35" y="418.15" width="1.3" height="1.3" fill="#4a4a4a"/><rect x="310.73" y="418.15" width="1.3" height="1.3" fill="#4a4a4a"/><rect x="314.10" y="418.15" width="1.3" height="1.3" fill="#4a4a4a"/><rect x="317.48" y="418.15" width="1.3" height="1.3" fill="#4a4a4a"/><rect x="320.85" y="418.15" width="1.3" height="1.3" fill="#4a4a4a"/><rect x="324.23" y="418.15" width="1.3" height="1.3" fill="#4a4a4a"/><rect x="327.60" y="418.15" width="1.3" height="1.3" fill="#4a4a4a"/><rect x="330.98" y="418.15" width="1.3" height="1.3" fill="#4a4a4a"/><rect x="334.35" y="418.15" width="1.3" height="1.3" fill="#4a4a4a"/><rect x="337.73" y="418.15" width="1.3" height="1.3" fill="#4a4a4a"/><rect x="341.10" y="418.15" width="1.3" height="1.3" fill="#4a4a4a"/><text x="345.12" y="419.30" class="sq" fill="#5a78d0" stroke="#5a78d0">G</text><rect x="347.85" y="418.15" width="1.3" height="1.3" fill="#4a4a4a"/><rect x="351.23" y="418.15" width="1.3" height="1.3" fill="#4a4a4a"/><rect x="354.60" y="418.15" width="1.3" height="1.3" fill="#4a4a4a"/><rect x="357.98" y="418.15" width="1.3" height="1.3" fill="#4a4a4a"/><rect x="361.35" y="418.15" width="1.3" height="1.3" fill="#4a4a4a"/>
<rect x="377.35" y="418.15" width="1.3" height="1.3" fill="#4a4a4a"/><rect x="380.77" y="418.15" width="1.3" height="1.3" fill="#4a4a4a"/><rect x="384.19" y="418.15" width="1.3" height="1.3" fill="#4a4a4a"/><rect x="387.61" y="418.15" width="1.3" height="1.3" fill="#4a4a4a"/><rect x="391.03" y="418.15" width="1.3" height="1.3" fill="#4a4a4a"/><rect x="394.45" y="418.15" width="1.3" height="1.3" fill="#4a4a4a"/><rect x="397.87" y="418.15" width="1.3" height="1.3" fill="#4a4a4a"/><rect x="401.29" y="418.15" width="1.3" height="1.3" fill="#4a4a4a"/><rect x="404.71" y="418.15" width="1.3" height="1.3" fill="#4a4a4a"/><rect x="408.13" y="418.15" width="1.3" height="1.3" fill="#4a4a4a"/><text x="412.20" y="419.30" class="sq" fill="#4a5a3a" stroke="#4a5a3a">A</text><text x="415.62" y="419.30" class="sq" fill="#5a78d0" stroke="#5a78d0">G</text><text x="419.04" y="419.30" class="sq" fill="#5a78d0" stroke="#5a78d0">A</text><text x="422.46" y="419.30" class="sq" fill="#5a78d0" stroke="#5a78d0">G</text><rect x="425.23" y="418.15" width="1.3" height="1.3" fill="#4a4a4a"/><text x="429.30" y="419.30" class="sq" fill="#4a4a4a" stroke="#4a4a4a">G</text><rect x="432.07" y="418.15" width="1.3" height="1.3" fill="#4a4a4a"/>
<rect x="307.35" y="425.48" width="1.3" height="1.3" fill="#4a4a4a"/><rect x="310.73" y="425.48" width="1.3" height="1.3" fill="#4a4a4a"/><rect x="314.10" y="425.48" width="1.3" height="1.3" fill="#4a4a4a"/><rect x="317.48" y="425.48" width="1.3" height="1.3" fill="#4a4a4a"/><rect x="320.85" y="425.48" width="1.3" height="1.3" fill="#4a4a4a"/><rect x="324.23" y="425.48" width="1.3" height="1.3" fill="#4a4a4a"/><rect x="327.60" y="425.48" width="1.3" height="1.3" fill="#4a4a4a"/><rect x="330.98" y="425.48" width="1.3" height="1.3" fill="#4a4a4a"/><rect x="334.35" y="425.48" width="1.3" height="1.3" fill="#4a4a4a"/><rect x="337.73" y="425.48" width="1.3" height="1.3" fill="#4a4a4a"/><rect x="341.10" y="425.48" width="1.3" height="1.3" fill="#4a4a4a"/><text x="345.12" y="426.63" class="sq" fill="#5a78d0" stroke="#5a78d0">G</text><rect x="347.85" y="425.48" width="1.3" height="1.3" fill="#4a4a4a"/><rect x="351.23" y="425.48" width="1.3" height="1.3" fill="#4a4a4a"/><rect x="354.60" y="425.48" width="1.3" height="1.3" fill="#4a4a4a"/><rect x="357.98" y="425.48" width="1.3" height="1.3" fill="#4a4a4a"/><rect x="361.35" y="425.48" width="1.3" height="1.3" fill="#4a4a4a"/>
<rect x="377.35" y="425.48" width="1.3" height="1.3" fill="#4a4a4a"/><rect x="380.77" y="425.48" width="1.3" height="1.3" fill="#4a4a4a"/><rect x="384.19" y="425.48" width="1.3" height="1.3" fill="#4a4a4a"/><rect x="387.61" y="425.48" width="1.3" height="1.3" fill="#4a4a4a"/><text x="391.68" y="426.63" class="sq" fill="#4a4a4a" stroke="#4a4a4a">A</text><rect x="394.45" y="425.48" width="1.3" height="1.3" fill="#4a4a4a"/><rect x="397.87" y="425.48" width="1.3" height="1.3" fill="#4a4a4a"/><rect x="401.29" y="425.48" width="1.3" height="1.3" fill="#4a4a4a"/><rect x="404.71" y="425.48" width="1.3" height="1.3" fill="#4a4a4a"/><rect x="408.13" y="425.48" width="1.3" height="1.3" fill="#4a4a4a"/><text x="412.20" y="426.63" class="sq" fill="#4a5a3a" stroke="#4a5a3a">A</text><text x="415.62" y="426.63" class="sq" fill="#5a78d0" stroke="#5a78d0">G</text><text x="419.04" y="426.63" class="sq" fill="#5a78d0" stroke="#5a78d0">A</text><text x="422.46" y="426.63" class="sq" fill="#5a78d0" stroke="#5a78d0">G</text><rect x="425.23" y="425.48" width="1.3" height="1.3" fill="#4a4a4a"/><text x="429.30" y="426.63" class="sq" fill="#4a4a4a" stroke="#4a4a4a">G</text><rect x="432.07" y="425.48" width="1.3" height="1.3" fill="#4a4a4a"/>
<rect x="307.35" y="432.81" width="1.3" height="1.3" fill="#4a4a4a"/><rect x="310.73" y="432.81" width="1.3" height="1.3" fill="#4a4a4a"/><rect x="314.10" y="432.81" width="1.3" height="1.3" fill="#4a4a4a"/><rect x="317.48" y="432.81" width="1.3" height="1.3" fill="#4a4a4a"/><rect x="320.85" y="432.81" width="1.3" height="1.3" fill="#4a4a4a"/><rect x="324.23" y="432.81" width="1.3" height="1.3" fill="#4a4a4a"/><rect x="327.60" y="432.81" width="1.3" height="1.3" fill="#4a4a4a"/><rect x="330.98" y="432.81" width="1.3" height="1.3" fill="#4a4a4a"/><rect x="334.35" y="432.81" width="1.3" height="1.3" fill="#4a4a4a"/><rect x="337.73" y="432.81" width="1.3" height="1.3" fill="#4a4a4a"/><rect x="341.10" y="432.81" width="1.3" height="1.3" fill="#4a4a4a"/><text x="345.12" y="433.96" class="sq" fill="#5a78d0" stroke="#5a78d0">G</text><rect x="347.85" y="432.81" width="1.3" height="1.3" fill="#4a4a4a"/><rect x="351.23" y="432.81" width="1.3" height="1.3" fill="#4a4a4a"/><rect x="354.60" y="432.81" width="1.3" height="1.3" fill="#4a4a4a"/><rect x="357.98" y="432.81" width="1.3" height="1.3" fill="#4a4a4a"/><rect x="361.35" y="432.81" width="1.3" height="1.3" fill="#4a4a4a"/>
<rect x="377.35" y="432.81" width="1.3" height="1.3" fill="#4a4a4a"/><text x="381.42" y="433.96" class="sq" fill="#4a4a4a" stroke="#4a4a4a">A</text><rect x="384.19" y="432.81" width="1.3" height="1.3" fill="#4a4a4a"/><rect x="387.61" y="432.81" width="1.3" height="1.3" fill="#4a4a4a"/><rect x="391.03" y="432.81" width="1.3" height="1.3" fill="#4a4a4a"/><rect x="394.45" y="432.81" width="1.3" height="1.3" fill="#4a4a4a"/><rect x="397.87" y="432.81" width="1.3" height="1.3" fill="#4a4a4a"/><rect x="401.29" y="432.81" width="1.3" height="1.3" fill="#4a4a4a"/><rect x="404.71" y="432.81" width="1.3" height="1.3" fill="#4a4a4a"/><rect x="408.13" y="432.81" width="1.3" height="1.3" fill="#4a4a4a"/><text x="412.20" y="433.96" class="sq" fill="#4a5a3a" stroke="#4a5a3a">A</text><text x="415.62" y="433.96" class="sq" fill="#5a78d0" stroke="#5a78d0">G</text><text x="419.04" y="433.96" class="sq" fill="#5a78d0" stroke="#5a78d0">A</text><text x="422.46" y="433.96" class="sq" fill="#5a78d0" stroke="#5a78d0">G</text><rect x="425.23" y="432.81" width="1.3" height="1.3" fill="#4a4a4a"/><text x="429.30" y="433.96" class="sq" fill="#4a4a4a" stroke="#4a4a4a">G</text><rect x="432.07" y="432.81" width="1.3" height="1.3" fill="#4a4a4a"/>
<rect x="307.35" y="440.14" width="1.3" height="1.3" fill="#4a4a4a"/><rect x="310.73" y="440.14" width="1.3" height="1.3" fill="#4a4a4a"/><rect x="314.10" y="440.14" width="1.3" height="1.3" fill="#4a4a4a"/><rect x="317.48" y="440.14" width="1.3" height="1.3" fill="#4a4a4a"/><rect x="320.85" y="440.14" width="1.3" height="1.3" fill="#4a4a4a"/><rect x="324.23" y="440.14" width="1.3" height="1.3" fill="#4a4a4a"/><rect x="327.60" y="440.14" width="1.3" height="1.3" fill="#4a4a4a"/><rect x="330.98" y="440.14" width="1.3" height="1.3" fill="#4a4a4a"/><rect x="334.35" y="440.14" width="1.3" height="1.3" fill="#4a4a4a"/><rect x="337.73" y="440.14" width="1.3" height="1.3" fill="#4a4a4a"/><rect x="341.10" y="440.14" width="1.3" height="1.3" fill="#4a4a4a"/><text x="345.12" y="441.29" class="sq" fill="#5a78d0" stroke="#5a78d0">G</text><rect x="347.85" y="440.14" width="1.3" height="1.3" fill="#4a4a4a"/><rect x="351.23" y="440.14" width="1.3" height="1.3" fill="#4a4a4a"/><rect x="354.60" y="440.14" width="1.3" height="1.3" fill="#4a4a4a"/><rect x="357.98" y="440.14" width="1.3" height="1.3" fill="#4a4a4a"/><rect x="361.35" y="440.14" width="1.3" height="1.3" fill="#4a4a4a"/>
<rect x="377.35" y="440.14" width="1.3" height="1.3" fill="#4a4a4a"/><rect x="380.77" y="440.14" width="1.3" height="1.3" fill="#4a4a4a"/><rect x="384.19" y="440.14" width="1.3" height="1.3" fill="#4a4a4a"/><rect x="387.61" y="440.14" width="1.3" height="1.3" fill="#4a4a4a"/><text x="391.68" y="441.29" class="sq" fill="#4a4a4a" stroke="#4a4a4a">A</text><rect x="394.45" y="440.14" width="1.3" height="1.3" fill="#4a4a4a"/><rect x="397.87" y="440.14" width="1.3" height="1.3" fill="#4a4a4a"/><rect x="401.29" y="440.14" width="1.3" height="1.3" fill="#4a4a4a"/><rect x="404.71" y="440.14" width="1.3" height="1.3" fill="#4a4a4a"/><rect x="408.13" y="440.14" width="1.3" height="1.3" fill="#4a4a4a"/><text x="412.20" y="441.29" class="sq" fill="#4a5a3a" stroke="#4a5a3a">A</text><text x="415.62" y="441.29" class="sq" fill="#5a78d0" stroke="#5a78d0">G</text><text x="419.04" y="441.29" class="sq" fill="#5a78d0" stroke="#5a78d0">A</text><text x="422.46" y="441.29" class="sq" fill="#5a78d0" stroke="#5a78d0">G</text><rect x="425.23" y="440.14" width="1.3" height="1.3" fill="#4a4a4a"/><text x="429.30" y="441.29" class="sq" fill="#4a4a4a" stroke="#4a4a4a">G</text><rect x="432.07" y="440.14" width="1.3" height="1.3" fill="#4a4a4a"/>
<rect x="307.35" y="447.47" width="1.3" height="1.3" fill="#4a4a4a"/><rect x="310.73" y="447.47" width="1.3" height="1.3" fill="#4a4a4a"/><rect x="314.10" y="447.47" width="1.3" height="1.3" fill="#4a4a4a"/><rect x="317.48" y="447.47" width="1.3" height="1.3" fill="#4a4a4a"/><rect x="320.85" y="447.47" width="1.3" height="1.3" fill="#4a4a4a"/><rect x="324.23" y="447.47" width="1.3" height="1.3" fill="#4a4a4a"/><rect x="327.60" y="447.47" width="1.3" height="1.3" fill="#4a4a4a"/><rect x="330.98" y="447.47" width="1.3" height="1.3" fill="#4a4a4a"/><rect x="334.35" y="447.47" width="1.3" height="1.3" fill="#4a4a4a"/><rect x="337.73" y="447.47" width="1.3" height="1.3" fill="#4a4a4a"/><rect x="341.10" y="447.47" width="1.3" height="1.3" fill="#4a4a4a"/><text x="345.12" y="448.62" class="sq" fill="#5a78d0" stroke="#5a78d0">G</text><rect x="347.85" y="447.47" width="1.3" height="1.3" fill="#4a4a4a"/><rect x="351.23" y="447.47" width="1.3" height="1.3" fill="#4a4a4a"/><rect x="354.60" y="447.47" width="1.3" height="1.3" fill="#4a4a4a"/><rect x="357.98" y="447.47" width="1.3" height="1.3" fill="#4a4a4a"/><rect x="361.35" y="447.47" width="1.3" height="1.3" fill="#4a4a4a"/>
<rect x="377.35" y="447.47" width="1.3" height="1.3" fill="#4a4a4a"/><text x="381.42" y="448.62" class="sq" fill="#4a4a4a" stroke="#4a4a4a">A</text><rect x="384.19" y="447.47" width="1.3" height="1.3" fill="#4a4a4a"/><rect x="387.61" y="447.47" width="1.3" height="1.3" fill="#4a4a4a"/><rect x="391.03" y="447.47" width="1.3" height="1.3" fill="#4a4a4a"/><rect x="394.45" y="447.47" width="1.3" height="1.3" fill="#4a4a4a"/><rect x="397.87" y="447.47" width="1.3" height="1.3" fill="#4a4a4a"/><rect x="401.29" y="447.47" width="1.3" height="1.3" fill="#4a4a4a"/><rect x="404.71" y="447.47" width="1.3" height="1.3" fill="#4a4a4a"/><rect x="408.13" y="447.47" width="1.3" height="1.3" fill="#4a4a4a"/><text x="412.20" y="448.62" class="sq" fill="#4a5a3a" stroke="#4a5a3a">A</text><text x="415.62" y="448.62" class="sq" fill="#5a78d0" stroke="#5a78d0">G</text><text x="419.04" y="448.62" class="sq" fill="#5a78d0" stroke="#5a78d0">A</text><text x="422.46" y="448.62" class="sq" fill="#5a78d0" stroke="#5a78d0">G</text><rect x="425.23" y="447.47" width="1.3" height="1.3" fill="#4a4a4a"/><text x="429.30" y="448.62" class="sq" fill="#4a4a4a" stroke="#4a4a4a">G</text><rect x="432.07" y="447.47" width="1.3" height="1.3" fill="#4a4a4a"/>
<rect x="307.35" y="454.80" width="1.3" height="1.3" fill="#4a4a4a"/><rect x="310.73" y="454.80" width="1.3" height="1.3" fill="#4a4a4a"/><rect x="314.10" y="454.80" width="1.3" height="1.3" fill="#4a4a4a"/><rect x="317.48" y="454.80" width="1.3" height="1.3" fill="#4a4a4a"/><rect x="320.85" y="454.80" width="1.3" height="1.3" fill="#4a4a4a"/><rect x="324.23" y="454.80" width="1.3" height="1.3" fill="#4a4a4a"/><rect x="327.60" y="454.80" width="1.3" height="1.3" fill="#4a4a4a"/><rect x="330.98" y="454.80" width="1.3" height="1.3" fill="#4a4a4a"/><rect x="334.35" y="454.80" width="1.3" height="1.3" fill="#4a4a4a"/><rect x="337.73" y="454.80" width="1.3" height="1.3" fill="#4a4a4a"/><rect x="341.10" y="454.80" width="1.3" height="1.3" fill="#4a4a4a"/><text x="345.12" y="455.95" class="sq" fill="#5a78d0" stroke="#5a78d0">G</text><rect x="347.85" y="454.80" width="1.3" height="1.3" fill="#4a4a4a"/><rect x="351.23" y="454.80" width="1.3" height="1.3" fill="#4a4a4a"/><rect x="354.60" y="454.80" width="1.3" height="1.3" fill="#4a4a4a"/><rect x="357.98" y="454.80" width="1.3" height="1.3" fill="#4a4a4a"/><rect x="361.35" y="454.80" width="1.3" height="1.3" fill="#4a4a4a"/>
<rect x="377.35" y="454.80" width="1.3" height="1.3" fill="#4a4a4a"/><rect x="380.77" y="454.80" width="1.3" height="1.3" fill="#4a4a4a"/><rect x="384.19" y="454.80" width="1.3" height="1.3" fill="#4a4a4a"/><rect x="387.61" y="454.80" width="1.3" height="1.3" fill="#4a4a4a"/><rect x="391.03" y="454.80" width="1.3" height="1.3" fill="#4a4a4a"/><rect x="394.45" y="454.80" width="1.3" height="1.3" fill="#4a4a4a"/><rect x="397.87" y="454.80" width="1.3" height="1.3" fill="#4a4a4a"/><rect x="401.29" y="454.80" width="1.3" height="1.3" fill="#4a4a4a"/><rect x="404.71" y="454.80" width="1.3" height="1.3" fill="#4a4a4a"/><rect x="408.13" y="454.80" width="1.3" height="1.3" fill="#4a4a4a"/><text x="412.20" y="455.95" class="sq" fill="#4a5a3a" stroke="#4a5a3a">A</text><text x="415.62" y="455.95" class="sq" fill="#5a78d0" stroke="#5a78d0">G</text><text x="419.04" y="455.95" class="sq" fill="#5a78d0" stroke="#5a78d0">A</text><text x="422.46" y="455.95" class="sq" fill="#5a78d0" stroke="#5a78d0">G</text><rect x="425.23" y="454.80" width="1.3" height="1.3" fill="#4a4a4a"/><text x="429.30" y="455.95" class="sq" fill="#4a4a4a" stroke="#4a4a4a">G</text><rect x="432.07" y="454.80" width="1.3" height="1.3" fill="#4a4a4a"/>
<rect x="307.35" y="462.13" width="1.3" height="1.3" fill="#4a4a4a"/><text x="311.38" y="463.28" class="sq" fill="#3a3a3a" stroke="#3a3a3a">T</text><rect x="314.10" y="462.13" width="1.3" height="1.3" fill="#4a4a4a"/><rect x="317.48" y="462.13" width="1.3" height="1.3" fill="#4a4a4a"/><rect x="320.85" y="462.13" width="1.3" height="1.3" fill="#4a4a4a"/><rect x="324.23" y="462.13" width="1.3" height="1.3" fill="#4a4a4a"/><rect x="327.60" y="462.13" width="1.3" height="1.3" fill="#4a4a4a"/><rect x="330.98" y="462.13" width="1.3" height="1.3" fill="#4a4a4a"/><rect x="334.35" y="462.13" width="1.3" height="1.3" fill="#4a4a4a"/><rect x="337.73" y="462.13" width="1.3" height="1.3" fill="#4a4a4a"/><rect x="341.10" y="462.13" width="1.3" height="1.3" fill="#4a4a4a"/><text x="345.12" y="463.28" class="sq" fill="#5a78d0" stroke="#5a78d0">G</text><rect x="347.85" y="462.13" width="1.3" height="1.3" fill="#4a4a4a"/><rect x="351.23" y="462.13" width="1.3" height="1.3" fill="#4a4a4a"/><rect x="354.60" y="462.13" width="1.3" height="1.3" fill="#4a4a4a"/><rect x="357.98" y="462.13" width="1.3" height="1.3" fill="#4a4a4a"/><rect x="361.35" y="462.13" width="1.3" height="1.3" fill="#4a4a4a"/>
<rect x="377.35" y="462.13" width="1.3" height="1.3" fill="#4a4a4a"/><rect x="380.77" y="462.13" width="1.3" height="1.3" fill="#4a4a4a"/><rect x="384.19" y="462.13" width="1.3" height="1.3" fill="#4a4a4a"/><rect x="387.61" y="462.13" width="1.3" height="1.3" fill="#4a4a4a"/><rect x="391.03" y="462.13" width="1.3" height="1.3" fill="#4a4a4a"/><rect x="394.45" y="462.13" width="1.3" height="1.3" fill="#4a4a4a"/><rect x="397.87" y="462.13" width="1.3" height="1.3" fill="#4a4a4a"/><rect x="401.29" y="462.13" width="1.3" height="1.3" fill="#4a4a4a"/><rect x="404.71" y="462.13" width="1.3" height="1.3" fill="#4a4a4a"/><rect x="408.13" y="462.13" width="1.3" height="1.3" fill="#4a4a4a"/><text x="412.20" y="463.28" class="sq" fill="#4a5a3a" stroke="#4a5a3a">A</text><text x="415.62" y="463.28" class="sq" fill="#5a78d0" stroke="#5a78d0">G</text><text x="419.04" y="463.28" class="sq" fill="#5a78d0" stroke="#5a78d0">A</text><text x="422.46" y="463.28" class="sq" fill="#5a78d0" stroke="#5a78d0">G</text><rect x="425.23" y="462.13" width="1.3" height="1.3" fill="#4a4a4a"/><text x="429.30" y="463.28" class="sq" fill="#4a4a4a" stroke="#4a4a4a">G</text><rect x="432.07" y="462.13" width="1.3" height="1.3" fill="#4a4a4a"/>
<rect x="307.35" y="469.46" width="1.3" height="1.3" fill="#4a4a4a"/><rect x="310.73" y="469.46" width="1.3" height="1.3" fill="#4a4a4a"/><rect x="314.10" y="469.46" width="1.3" height="1.3" fill="#4a4a4a"/><rect x="317.48" y="469.46" width="1.3" height="1.3" fill="#4a4a4a"/><rect x="320.85" y="469.46" width="1.3" height="1.3" fill="#4a4a4a"/><rect x="324.23" y="469.46" width="1.3" height="1.3" fill="#4a4a4a"/><rect x="327.60" y="469.46" width="1.3" height="1.3" fill="#4a4a4a"/><rect x="330.98" y="469.46" width="1.3" height="1.3" fill="#4a4a4a"/><rect x="334.35" y="469.46" width="1.3" height="1.3" fill="#4a4a4a"/><rect x="337.73" y="469.46" width="1.3" height="1.3" fill="#4a4a4a"/><rect x="341.10" y="469.46" width="1.3" height="1.3" fill="#4a4a4a"/><text x="345.12" y="470.61" class="sq" fill="#5a78d0" stroke="#5a78d0">G</text><rect x="347.85" y="469.46" width="1.3" height="1.3" fill="#4a4a4a"/><rect x="351.23" y="469.46" width="1.3" height="1.3" fill="#4a4a4a"/><rect x="354.60" y="469.46" width="1.3" height="1.3" fill="#4a4a4a"/><rect x="357.98" y="469.46" width="1.3" height="1.3" fill="#4a4a4a"/><rect x="361.35" y="469.46" width="1.3" height="1.3" fill="#4a4a4a"/>
<rect x="377.35" y="469.46" width="1.3" height="1.3" fill="#4a4a4a"/><rect x="380.77" y="469.46" width="1.3" height="1.3" fill="#4a4a4a"/><rect x="384.19" y="469.46" width="1.3" height="1.3" fill="#4a4a4a"/><rect x="387.61" y="469.46" width="1.3" height="1.3" fill="#4a4a4a"/><rect x="391.03" y="469.46" width="1.3" height="1.3" fill="#4a4a4a"/><rect x="394.45" y="469.46" width="1.3" height="1.3" fill="#4a4a4a"/><rect x="397.87" y="469.46" width="1.3" height="1.3" fill="#4a4a4a"/><rect x="401.29" y="469.46" width="1.3" height="1.3" fill="#4a4a4a"/><rect x="404.71" y="469.46" width="1.3" height="1.3" fill="#4a4a4a"/><rect x="408.13" y="469.46" width="1.3" height="1.3" fill="#4a4a4a"/><text x="412.20" y="470.61" class="sq" fill="#4a5a3a" stroke="#4a5a3a">A</text><text x="415.62" y="470.61" class="sq" fill="#5a78d0" stroke="#5a78d0">G</text><text x="419.04" y="470.61" class="sq" fill="#5a78d0" stroke="#5a78d0">A</text><text x="422.46" y="470.61" class="sq" fill="#5a78d0" stroke="#5a78d0">G</text><rect x="425.23" y="469.46" width="1.3" height="1.3" fill="#4a4a4a"/><text x="429.30" y="470.61" class="sq" fill="#4a4a4a" stroke="#4a4a4a">G</text><rect x="432.07" y="469.46" width="1.3" height="1.3" fill="#4a4a4a"/>
<rect x="307.35" y="476.79" width="1.3" height="1.3" fill="#4a4a4a"/><rect x="310.73" y="476.79" width="1.3" height="1.3" fill="#4a4a4a"/><rect x="314.10" y="476.79" width="1.3" height="1.3" fill="#4a4a4a"/><rect x="317.48" y="476.79" width="1.3" height="1.3" fill="#4a4a4a"/><rect x="320.85" y="476.79" width="1.3" height="1.3" fill="#4a4a4a"/><rect x="324.23" y="476.79" width="1.3" height="1.3" fill="#4a4a4a"/><rect x="327.60" y="476.79" width="1.3" height="1.3" fill="#4a4a4a"/><rect x="330.98" y="476.79" width="1.3" height="1.3" fill="#4a4a4a"/><rect x="334.35" y="476.79" width="1.3" height="1.3" fill="#4a4a4a"/><rect x="337.73" y="476.79" width="1.3" height="1.3" fill="#4a4a4a"/><rect x="341.10" y="476.79" width="1.3" height="1.3" fill="#4a4a4a"/><text x="345.12" y="477.94" class="sq" fill="#5a78d0" stroke="#5a78d0">G</text><rect x="347.85" y="476.79" width="1.3" height="1.3" fill="#4a4a4a"/><rect x="351.23" y="476.79" width="1.3" height="1.3" fill="#4a4a4a"/><rect x="354.60" y="476.79" width="1.3" height="1.3" fill="#4a4a4a"/><rect x="357.98" y="476.79" width="1.3" height="1.3" fill="#4a4a4a"/><rect x="361.35" y="476.79" width="1.3" height="1.3" fill="#4a4a4a"/>
<rect x="377.35" y="476.79" width="1.3" height="1.3" fill="#4a4a4a"/><rect x="380.77" y="476.79" width="1.3" height="1.3" fill="#4a4a4a"/><rect x="384.19" y="476.79" width="1.3" height="1.3" fill="#4a4a4a"/><rect x="387.61" y="476.79" width="1.3" height="1.3" fill="#4a4a4a"/><rect x="391.03" y="476.79" width="1.3" height="1.3" fill="#4a4a4a"/><rect x="394.45" y="476.79" width="1.3" height="1.3" fill="#4a4a4a"/><rect x="397.87" y="476.79" width="1.3" height="1.3" fill="#4a4a4a"/><rect x="401.29" y="476.79" width="1.3" height="1.3" fill="#4a4a4a"/><rect x="404.71" y="476.79" width="1.3" height="1.3" fill="#4a4a4a"/><rect x="408.13" y="476.79" width="1.3" height="1.3" fill="#4a4a4a"/><text x="412.20" y="477.94" class="sq" fill="#4a5a3a" stroke="#4a5a3a">A</text><text x="415.62" y="477.94" class="sq" fill="#5a78d0" stroke="#5a78d0">G</text><text x="419.04" y="477.94" class="sq" fill="#5a78d0" stroke="#5a78d0">A</text><text x="422.46" y="477.94" class="sq" fill="#5a78d0" stroke="#5a78d0">G</text><rect x="425.23" y="476.79" width="1.3" height="1.3" fill="#4a4a4a"/><rect x="428.65" y="476.79" width="1.3" height="1.3" fill="#4a4a4a"/><rect x="432.07" y="476.79" width="1.3" height="1.3" fill="#4a4a4a"/>
<rect x="307.35" y="484.12" width="1.3" height="1.3" fill="#4a4a4a"/><rect x="310.73" y="484.12" width="1.3" height="1.3" fill="#4a4a4a"/><rect x="314.10" y="484.12" width="1.3" height="1.3" fill="#4a4a4a"/><rect x="317.48" y="484.12" width="1.3" height="1.3" fill="#4a4a4a"/><rect x="320.85" y="484.12" width="1.3" height="1.3" fill="#4a4a4a"/><rect x="324.23" y="484.12" width="1.3" height="1.3" fill="#4a4a4a"/><rect x="327.60" y="484.12" width="1.3" height="1.3" fill="#4a4a4a"/><rect x="330.98" y="484.12" width="1.3" height="1.3" fill="#4a4a4a"/><rect x="334.35" y="484.12" width="1.3" height="1.3" fill="#4a4a4a"/><rect x="337.73" y="484.12" width="1.3" height="1.3" fill="#4a4a4a"/><rect x="341.10" y="484.12" width="1.3" height="1.3" fill="#4a4a4a"/><text x="345.12" y="485.27" class="sq" fill="#5a78d0" stroke="#5a78d0">G</text><rect x="347.85" y="484.12" width="1.3" height="1.3" fill="#4a4a4a"/><rect x="351.23" y="484.12" width="1.3" height="1.3" fill="#4a4a4a"/><rect x="354.60" y="484.12" width="1.3" height="1.3" fill="#4a4a4a"/><rect x="357.98" y="484.12" width="1.3" height="1.3" fill="#4a4a4a"/><rect x="361.35" y="484.12" width="1.3" height="1.3" fill="#4a4a4a"/>
<rect x="377.35" y="484.12" width="1.3" height="1.3" fill="#4a4a4a"/><rect x="380.77" y="484.12" width="1.3" height="1.3" fill="#4a4a4a"/><rect x="384.19" y="484.12" width="1.3" height="1.3" fill="#4a4a4a"/><rect x="387.61" y="484.12" width="1.3" height="1.3" fill="#4a4a4a"/><rect x="391.03" y="484.12" width="1.3" height="1.3" fill="#4a4a4a"/><rect x="394.45" y="484.12" width="1.3" height="1.3" fill="#4a4a4a"/><rect x="397.87" y="484.12" width="1.3" height="1.3" fill="#4a4a4a"/><rect x="401.29" y="484.12" width="1.3" height="1.3" fill="#4a4a4a"/><rect x="404.71" y="484.12" width="1.3" height="1.3" fill="#4a4a4a"/><rect x="408.13" y="484.12" width="1.3" height="1.3" fill="#4a4a4a"/><text x="412.20" y="485.27" class="sq" fill="#4a5a3a" stroke="#4a5a3a">A</text><text x="415.62" y="485.27" class="sq" fill="#5a78d0" stroke="#5a78d0">G</text><text x="419.04" y="485.27" class="sq" fill="#5a78d0" stroke="#5a78d0">A</text><text x="422.46" y="485.27" class="sq" fill="#5a78d0" stroke="#5a78d0">G</text><rect x="425.23" y="484.12" width="1.3" height="1.3" fill="#4a4a4a"/><rect x="428.65" y="484.12" width="1.3" height="1.3" fill="#4a4a4a"/><rect x="432.07" y="484.12" width="1.3" height="1.3" fill="#4a4a4a"/>
<rect x="307.35" y="491.45" width="1.3" height="1.3" fill="#4a4a4a"/><rect x="310.73" y="491.45" width="1.3" height="1.3" fill="#4a4a4a"/><rect x="314.10" y="491.45" width="1.3" height="1.3" fill="#4a4a4a"/><rect x="317.48" y="491.45" width="1.3" height="1.3" fill="#4a4a4a"/><rect x="320.85" y="491.45" width="1.3" height="1.3" fill="#4a4a4a"/><rect x="324.23" y="491.45" width="1.3" height="1.3" fill="#4a4a4a"/><rect x="327.60" y="491.45" width="1.3" height="1.3" fill="#4a4a4a"/><rect x="330.98" y="491.45" width="1.3" height="1.3" fill="#4a4a4a"/><rect x="334.35" y="491.45" width="1.3" height="1.3" fill="#4a4a4a"/><rect x="337.73" y="491.45" width="1.3" height="1.3" fill="#4a4a4a"/><rect x="341.10" y="491.45" width="1.3" height="1.3" fill="#4a4a4a"/><text x="345.12" y="492.60" class="sq" fill="#5a78d0" stroke="#5a78d0">G</text><rect x="347.85" y="491.45" width="1.3" height="1.3" fill="#4a4a4a"/><rect x="351.23" y="491.45" width="1.3" height="1.3" fill="#4a4a4a"/><rect x="354.60" y="491.45" width="1.3" height="1.3" fill="#4a4a4a"/><rect x="357.98" y="491.45" width="1.3" height="1.3" fill="#4a4a4a"/><rect x="361.35" y="491.45" width="1.3" height="1.3" fill="#4a4a4a"/>
<rect x="377.35" y="491.45" width="1.3" height="1.3" fill="#4a4a4a"/><rect x="380.77" y="491.45" width="1.3" height="1.3" fill="#4a4a4a"/><rect x="384.19" y="491.45" width="1.3" height="1.3" fill="#4a4a4a"/><rect x="387.61" y="491.45" width="1.3" height="1.3" fill="#4a4a4a"/><rect x="391.03" y="491.45" width="1.3" height="1.3" fill="#4a4a4a"/><rect x="394.45" y="491.45" width="1.3" height="1.3" fill="#4a4a4a"/><rect x="397.87" y="491.45" width="1.3" height="1.3" fill="#4a4a4a"/><rect x="401.29" y="491.45" width="1.3" height="1.3" fill="#4a4a4a"/><rect x="404.71" y="491.45" width="1.3" height="1.3" fill="#4a4a4a"/><rect x="408.13" y="491.45" width="1.3" height="1.3" fill="#4a4a4a"/><text x="412.20" y="492.60" class="sq" fill="#4a5a3a" stroke="#4a5a3a">A</text><text x="415.62" y="492.60" class="sq" fill="#5a78d0" stroke="#5a78d0">G</text><text x="419.04" y="492.60" class="sq" fill="#5a78d0" stroke="#5a78d0">A</text><text x="422.46" y="492.60" class="sq" fill="#5a78d0" stroke="#5a78d0">G</text><rect x="425.23" y="491.45" width="1.3" height="1.3" fill="#4a4a4a"/><rect x="428.65" y="491.45" width="1.3" height="1.3" fill="#4a4a4a"/><rect x="432.07" y="491.45" width="1.3" height="1.3" fill="#4a4a4a"/>
<rect x="307.35" y="498.78" width="1.3" height="1.3" fill="#4a4a4a"/><rect x="310.73" y="498.78" width="1.3" height="1.3" fill="#4a4a4a"/><rect x="314.10" y="498.78" width="1.3" height="1.3" fill="#4a4a4a"/><rect x="317.48" y="498.78" width="1.3" height="1.3" fill="#4a4a4a"/><rect x="320.85" y="498.78" width="1.3" height="1.3" fill="#4a4a4a"/><rect x="324.23" y="498.78" width="1.3" height="1.3" fill="#4a4a4a"/><rect x="327.60" y="498.78" width="1.3" height="1.3" fill="#4a4a4a"/><rect x="330.98" y="498.78" width="1.3" height="1.3" fill="#4a4a4a"/><rect x="334.35" y="498.78" width="1.3" height="1.3" fill="#4a4a4a"/><rect x="337.73" y="498.78" width="1.3" height="1.3" fill="#4a4a4a"/><rect x="341.10" y="498.78" width="1.3" height="1.3" fill="#4a4a4a"/><text x="345.12" y="499.93" class="sq" fill="#5a78d0" stroke="#5a78d0">G</text><rect x="347.85" y="498.78" width="1.3" height="1.3" fill="#4a4a4a"/><rect x="351.23" y="498.78" width="1.3" height="1.3" fill="#4a4a4a"/><rect x="354.60" y="498.78" width="1.3" height="1.3" fill="#4a4a4a"/><rect x="357.98" y="498.78" width="1.3" height="1.3" fill="#4a4a4a"/><rect x="361.35" y="498.78" width="1.3" height="1.3" fill="#4a4a4a"/>
<rect x="377.35" y="498.78" width="1.3" height="1.3" fill="#4a4a4a"/><rect x="380.77" y="498.78" width="1.3" height="1.3" fill="#4a4a4a"/><rect x="384.19" y="498.78" width="1.3" height="1.3" fill="#4a4a4a"/><rect x="387.61" y="498.78" width="1.3" height="1.3" fill="#4a4a4a"/><rect x="391.03" y="498.78" width="1.3" height="1.3" fill="#4a4a4a"/><rect x="394.45" y="498.78" width="1.3" height="1.3" fill="#4a4a4a"/><rect x="397.87" y="498.78" width="1.3" height="1.3" fill="#4a4a4a"/><rect x="401.29" y="498.78" width="1.3" height="1.3" fill="#4a4a4a"/><rect x="404.71" y="498.78" width="1.3" height="1.3" fill="#4a4a4a"/><rect x="408.13" y="498.78" width="1.3" height="1.3" fill="#4a4a4a"/><text x="412.20" y="499.93" class="sq" fill="#4a5a3a" stroke="#4a5a3a">A</text><text x="415.62" y="499.93" class="sq" fill="#5a78d0" stroke="#5a78d0">G</text><text x="419.04" y="499.93" class="sq" fill="#5a78d0" stroke="#5a78d0">A</text><text x="422.46" y="499.93" class="sq" fill="#5a78d0" stroke="#5a78d0">G</text><rect x="425.23" y="498.78" width="1.3" height="1.3" fill="#4a4a4a"/><rect x="428.65" y="498.78" width="1.3" height="1.3" fill="#4a4a4a"/><rect x="432.07" y="498.78" width="1.3" height="1.3" fill="#4a4a4a"/>
<rect x="307.35" y="506.11" width="1.3" height="1.3" fill="#4a4a4a"/><rect x="310.73" y="506.11" width="1.3" height="1.3" fill="#4a4a4a"/><rect x="314.10" y="506.11" width="1.3" height="1.3" fill="#4a4a4a"/><rect x="317.48" y="506.11" width="1.3" height="1.3" fill="#4a4a4a"/><rect x="320.85" y="506.11" width="1.3" height="1.3" fill="#4a4a4a"/><rect x="324.23" y="506.11" width="1.3" height="1.3" fill="#4a4a4a"/><rect x="327.60" y="506.11" width="1.3" height="1.3" fill="#4a4a4a"/><rect x="330.98" y="506.11" width="1.3" height="1.3" fill="#4a4a4a"/><rect x="334.35" y="506.11" width="1.3" height="1.3" fill="#4a4a4a"/><rect x="337.73" y="506.11" width="1.3" height="1.3" fill="#4a4a4a"/><rect x="341.10" y="506.11" width="1.3" height="1.3" fill="#4a4a4a"/><text x="345.12" y="507.26" class="sq" fill="#5a78d0" stroke="#5a78d0">G</text><rect x="347.85" y="506.11" width="1.3" height="1.3" fill="#4a4a4a"/><rect x="351.23" y="506.11" width="1.3" height="1.3" fill="#4a4a4a"/><rect x="354.60" y="506.11" width="1.3" height="1.3" fill="#4a4a4a"/><rect x="357.98" y="506.11" width="1.3" height="1.3" fill="#4a4a4a"/><rect x="361.35" y="506.11" width="1.3" height="1.3" fill="#4a4a4a"/>
<rect x="377.35" y="506.11" width="1.3" height="1.3" fill="#4a4a4a"/><text x="381.42" y="507.26" class="sq" fill="#4a4a4a" stroke="#4a4a4a">A</text><rect x="384.19" y="506.11" width="1.3" height="1.3" fill="#4a4a4a"/><rect x="387.61" y="506.11" width="1.3" height="1.3" fill="#4a4a4a"/><rect x="391.03" y="506.11" width="1.3" height="1.3" fill="#4a4a4a"/><rect x="394.45" y="506.11" width="1.3" height="1.3" fill="#4a4a4a"/><rect x="397.87" y="506.11" width="1.3" height="1.3" fill="#4a4a4a"/><rect x="401.29" y="506.11" width="1.3" height="1.3" fill="#4a4a4a"/><rect x="404.71" y="506.11" width="1.3" height="1.3" fill="#4a4a4a"/><rect x="408.13" y="506.11" width="1.3" height="1.3" fill="#4a4a4a"/><text x="412.20" y="507.26" class="sq" fill="#4a5a3a" stroke="#4a5a3a">A</text><text x="415.62" y="507.26" class="sq" fill="#5a78d0" stroke="#5a78d0">G</text><text x="419.04" y="507.26" class="sq" fill="#5a78d0" stroke="#5a78d0">A</text><text x="422.46" y="507.26" class="sq" fill="#5a78d0" stroke="#5a78d0">G</text><rect x="425.23" y="506.11" width="1.3" height="1.3" fill="#4a4a4a"/><rect x="428.65" y="506.11" width="1.3" height="1.3" fill="#4a4a4a"/><rect x="432.07" y="506.11" width="1.3" height="1.3" fill="#4a4a4a"/>
<rect x="307.35" y="513.44" width="1.3" height="1.3" fill="#4a4a4a"/><rect x="310.73" y="513.44" width="1.3" height="1.3" fill="#4a4a4a"/><rect x="314.10" y="513.44" width="1.3" height="1.3" fill="#4a4a4a"/><rect x="317.48" y="513.44" width="1.3" height="1.3" fill="#4a4a4a"/><rect x="320.85" y="513.44" width="1.3" height="1.3" fill="#4a4a4a"/><rect x="324.23" y="513.44" width="1.3" height="1.3" fill="#4a4a4a"/><rect x="327.60" y="513.44" width="1.3" height="1.3" fill="#4a4a4a"/><rect x="330.98" y="513.44" width="1.3" height="1.3" fill="#4a4a4a"/><rect x="334.35" y="513.44" width="1.3" height="1.3" fill="#4a4a4a"/><rect x="337.73" y="513.44" width="1.3" height="1.3" fill="#4a4a4a"/><rect x="341.10" y="513.44" width="1.3" height="1.3" fill="#4a4a4a"/><text x="345.12" y="514.59" class="sq" fill="#5a78d0" stroke="#5a78d0">G</text><rect x="347.85" y="513.44" width="1.3" height="1.3" fill="#4a4a4a"/><rect x="351.23" y="513.44" width="1.3" height="1.3" fill="#4a4a4a"/><rect x="354.60" y="513.44" width="1.3" height="1.3" fill="#4a4a4a"/><rect x="357.98" y="513.44" width="1.3" height="1.3" fill="#4a4a4a"/><rect x="361.35" y="513.44" width="1.3" height="1.3" fill="#4a4a4a"/>
<rect x="377.35" y="513.44" width="1.3" height="1.3" fill="#4a4a4a"/><rect x="380.77" y="513.44" width="1.3" height="1.3" fill="#4a4a4a"/><rect x="384.19" y="513.44" width="1.3" height="1.3" fill="#4a4a4a"/><rect x="387.61" y="513.44" width="1.3" height="1.3" fill="#4a4a4a"/><rect x="391.03" y="513.44" width="1.3" height="1.3" fill="#4a4a4a"/><rect x="394.45" y="513.44" width="1.3" height="1.3" fill="#4a4a4a"/><rect x="397.87" y="513.44" width="1.3" height="1.3" fill="#4a4a4a"/><rect x="401.29" y="513.44" width="1.3" height="1.3" fill="#4a4a4a"/><rect x="404.71" y="513.44" width="1.3" height="1.3" fill="#4a4a4a"/><rect x="408.13" y="513.44" width="1.3" height="1.3" fill="#4a4a4a"/><text x="412.20" y="514.59" class="sq" fill="#4a5a3a" stroke="#4a5a3a">A</text><text x="415.62" y="514.59" class="sq" fill="#5a78d0" stroke="#5a78d0">G</text><text x="419.04" y="514.59" class="sq" fill="#5a78d0" stroke="#5a78d0">A</text><text x="422.46" y="514.59" class="sq" fill="#5a78d0" stroke="#5a78d0">G</text><rect x="425.23" y="513.44" width="1.3" height="1.3" fill="#4a4a4a"/><text x="429.30" y="514.59" class="sq" fill="#4a4a4a" stroke="#4a4a4a">G</text><rect x="432.07" y="513.44" width="1.3" height="1.3" fill="#4a4a4a"/>
<rect x="307.35" y="520.77" width="1.3" height="1.3" fill="#4a4a4a"/><rect x="310.73" y="520.77" width="1.3" height="1.3" fill="#4a4a4a"/><rect x="314.10" y="520.77" width="1.3" height="1.3" fill="#4a4a4a"/><rect x="317.48" y="520.77" width="1.3" height="1.3" fill="#4a4a4a"/><rect x="320.85" y="520.77" width="1.3" height="1.3" fill="#4a4a4a"/><rect x="324.23" y="520.77" width="1.3" height="1.3" fill="#4a4a4a"/><rect x="327.60" y="520.77" width="1.3" height="1.3" fill="#4a4a4a"/><rect x="330.98" y="520.77" width="1.3" height="1.3" fill="#4a4a4a"/><rect x="334.35" y="520.77" width="1.3" height="1.3" fill="#4a4a4a"/><rect x="337.73" y="520.77" width="1.3" height="1.3" fill="#4a4a4a"/><rect x="341.10" y="520.77" width="1.3" height="1.3" fill="#4a4a4a"/><text x="345.12" y="521.92" class="sq" fill="#5a78d0" stroke="#5a78d0">G</text><rect x="347.85" y="520.77" width="1.3" height="1.3" fill="#4a4a4a"/><rect x="351.23" y="520.77" width="1.3" height="1.3" fill="#4a4a4a"/><rect x="354.60" y="520.77" width="1.3" height="1.3" fill="#4a4a4a"/><rect x="357.98" y="520.77" width="1.3" height="1.3" fill="#4a4a4a"/><rect x="361.35" y="520.77" width="1.3" height="1.3" fill="#4a4a4a"/>
<rect x="377.35" y="520.77" width="1.3" height="1.3" fill="#4a4a4a"/><rect x="380.77" y="520.77" width="1.3" height="1.3" fill="#4a4a4a"/><rect x="384.19" y="520.77" width="1.3" height="1.3" fill="#4a4a4a"/><rect x="387.61" y="520.77" width="1.3" height="1.3" fill="#4a4a4a"/><rect x="391.03" y="520.77" width="1.3" height="1.3" fill="#4a4a4a"/><rect x="394.45" y="520.77" width="1.3" height="1.3" fill="#4a4a4a"/><rect x="397.87" y="520.77" width="1.3" height="1.3" fill="#4a4a4a"/><rect x="401.29" y="520.77" width="1.3" height="1.3" fill="#4a4a4a"/><rect x="404.71" y="520.77" width="1.3" height="1.3" fill="#4a4a4a"/><rect x="408.13" y="520.77" width="1.3" height="1.3" fill="#4a4a4a"/><text x="412.20" y="521.92" class="sq" fill="#4a5a3a" stroke="#4a5a3a">A</text><text x="415.62" y="521.92" class="sq" fill="#5a78d0" stroke="#5a78d0">G</text><text x="419.04" y="521.92" class="sq" fill="#5a78d0" stroke="#5a78d0">A</text><text x="422.46" y="521.92" class="sq" fill="#5a78d0" stroke="#5a78d0">G</text><rect x="425.23" y="520.77" width="1.3" height="1.3" fill="#4a4a4a"/><rect x="428.65" y="520.77" width="1.3" height="1.3" fill="#4a4a4a"/><rect x="432.07" y="520.77" width="1.3" height="1.3" fill="#4a4a4a"/>
<rect x="307.35" y="528.10" width="1.3" height="1.3" fill="#4a4a4a"/><rect x="310.73" y="528.10" width="1.3" height="1.3" fill="#4a4a4a"/><rect x="314.10" y="528.10" width="1.3" height="1.3" fill="#4a4a4a"/><rect x="317.48" y="528.10" width="1.3" height="1.3" fill="#4a4a4a"/><rect x="320.85" y="528.10" width="1.3" height="1.3" fill="#4a4a4a"/><rect x="324.23" y="528.10" width="1.3" height="1.3" fill="#4a4a4a"/><rect x="327.60" y="528.10" width="1.3" height="1.3" fill="#4a4a4a"/><rect x="330.98" y="528.10" width="1.3" height="1.3" fill="#4a4a4a"/><rect x="334.35" y="528.10" width="1.3" height="1.3" fill="#4a4a4a"/><rect x="337.73" y="528.10" width="1.3" height="1.3" fill="#4a4a4a"/><rect x="341.10" y="528.10" width="1.3" height="1.3" fill="#4a4a4a"/><text x="345.12" y="529.25" class="sq" fill="#5a78d0" stroke="#5a78d0">G</text><rect x="347.85" y="528.10" width="1.3" height="1.3" fill="#4a4a4a"/><rect x="351.23" y="528.10" width="1.3" height="1.3" fill="#4a4a4a"/><rect x="354.60" y="528.10" width="1.3" height="1.3" fill="#4a4a4a"/><rect x="357.98" y="528.10" width="1.3" height="1.3" fill="#4a4a4a"/><rect x="361.35" y="528.10" width="1.3" height="1.3" fill="#4a4a4a"/>
<rect x="377.35" y="528.10" width="1.3" height="1.3" fill="#4a4a4a"/><rect x="380.77" y="528.10" width="1.3" height="1.3" fill="#4a4a4a"/><rect x="384.19" y="528.10" width="1.3" height="1.3" fill="#4a4a4a"/><rect x="387.61" y="528.10" width="1.3" height="1.3" fill="#4a4a4a"/><rect x="391.03" y="528.10" width="1.3" height="1.3" fill="#4a4a4a"/><rect x="394.45" y="528.10" width="1.3" height="1.3" fill="#4a4a4a"/><rect x="397.87" y="528.10" width="1.3" height="1.3" fill="#4a4a4a"/><rect x="401.29" y="528.10" width="1.3" height="1.3" fill="#4a4a4a"/><rect x="404.71" y="528.10" width="1.3" height="1.3" fill="#4a4a4a"/><rect x="408.13" y="528.10" width="1.3" height="1.3" fill="#4a4a4a"/><text x="412.20" y="529.25" class="sq" fill="#4a5a3a" stroke="#4a5a3a">A</text><text x="415.62" y="529.25" class="sq" fill="#5a78d0" stroke="#5a78d0">G</text><text x="419.04" y="529.25" class="sq" fill="#5a78d0" stroke="#5a78d0">A</text><text x="422.46" y="529.25" class="sq" fill="#5a78d0" stroke="#5a78d0">G</text><rect x="425.23" y="528.10" width="1.3" height="1.3" fill="#4a4a4a"/><rect x="428.65" y="528.10" width="1.3" height="1.3" fill="#4a4a4a"/><rect x="432.07" y="528.10" width="1.3" height="1.3" fill="#4a4a4a"/>
<rect x="307.35" y="535.43" width="1.3" height="1.3" fill="#4a4a4a"/><rect x="310.73" y="535.43" width="1.3" height="1.3" fill="#4a4a4a"/><rect x="314.10" y="535.43" width="1.3" height="1.3" fill="#4a4a4a"/><rect x="317.48" y="535.43" width="1.3" height="1.3" fill="#4a4a4a"/><rect x="320.85" y="535.43" width="1.3" height="1.3" fill="#4a4a4a"/><rect x="324.23" y="535.43" width="1.3" height="1.3" fill="#4a4a4a"/><rect x="327.60" y="535.43" width="1.3" height="1.3" fill="#4a4a4a"/><rect x="330.98" y="535.43" width="1.3" height="1.3" fill="#4a4a4a"/><rect x="334.35" y="535.43" width="1.3" height="1.3" fill="#4a4a4a"/><rect x="337.73" y="535.43" width="1.3" height="1.3" fill="#4a4a4a"/><rect x="341.10" y="535.43" width="1.3" height="1.3" fill="#4a4a4a"/><text x="345.12" y="536.58" class="sq" fill="#5a78d0" stroke="#5a78d0">G</text><rect x="347.85" y="535.43" width="1.3" height="1.3" fill="#4a4a4a"/><rect x="351.23" y="535.43" width="1.3" height="1.3" fill="#4a4a4a"/><rect x="354.60" y="535.43" width="1.3" height="1.3" fill="#4a4a4a"/><rect x="357.98" y="535.43" width="1.3" height="1.3" fill="#4a4a4a"/><rect x="361.35" y="535.43" width="1.3" height="1.3" fill="#4a4a4a"/>
<rect x="377.35" y="535.43" width="1.3" height="1.3" fill="#4a4a4a"/><text x="381.42" y="536.58" class="sq" fill="#4a4a4a" stroke="#4a4a4a">T</text><rect x="384.19" y="535.43" width="1.3" height="1.3" fill="#4a4a4a"/><rect x="387.61" y="535.43" width="1.3" height="1.3" fill="#4a4a4a"/><text x="391.68" y="536.58" class="sq" fill="#4a4a4a" stroke="#4a4a4a">G</text><rect x="394.45" y="535.43" width="1.3" height="1.3" fill="#4a4a4a"/><rect x="397.87" y="535.43" width="1.3" height="1.3" fill="#4a4a4a"/><text x="401.94" y="536.58" class="sq" fill="#4a4a4a" stroke="#4a4a4a">A</text><text x="405.36" y="536.58" class="sq" fill="#4a4a4a" stroke="#4a4a4a">C</text><text x="408.78" y="536.58" class="sq" fill="#4a4a4a" stroke="#4a4a4a">A</text><text x="412.20" y="536.58" class="sq" fill="#4a5a3a" stroke="#4a5a3a">G</text><text x="415.62" y="536.58" class="sq" fill="#5a78d0" stroke="#5a78d0">C</text><text x="419.04" y="536.58" class="sq" fill="#5a78d0" stroke="#5a78d0">A</text><text x="422.46" y="536.58" class="sq" fill="#5a78d0" stroke="#5a78d0">G</text><rect x="425.23" y="535.43" width="1.3" height="1.3" fill="#4a4a4a"/><rect x="428.65" y="535.43" width="1.3" height="1.3" fill="#4a4a4a"/><rect x="432.07" y="535.43" width="1.3" height="1.3" fill="#4a4a4a"/>
<text x="257.8" y="38.8" class="hd" style="font-size:7.6px">isolate</text>
<text class="hd" transform="translate(294.2 37.6) rotate(-90)">pathotype</text>
<text x="308.00" y="37.6" class="hs">T</text><text x="311.38" y="37.6" class="hs">A</text><text x="314.75" y="37.6" class="hs">C</text><text x="318.12" y="37.6" class="hs">G</text><text x="321.50" y="37.6" class="hs">A</text><text x="324.88" y="37.6" class="hs">C</text><text x="328.25" y="37.6" class="hs">G</text><text x="331.62" y="37.6" class="hs">T</text><text x="335.00" y="37.6" class="hs">G</text><text x="338.38" y="37.6" class="hs">G</text><text x="341.75" y="37.6" class="hs">T</text><text x="345.12" y="37.6" class="hs">K</text><text x="348.50" y="37.6" class="hs">T</text><text x="351.88" y="37.6" class="hs">G</text><text x="355.25" y="37.6" class="hs">T</text><text x="358.62" y="37.6" class="hs">G</text><text x="362.00" y="37.6" class="hs">C</text>
<text x="378.00" y="37.6" class="hs">T</text><text x="381.42" y="37.6" class="hs">G</text><text x="384.84" y="37.6" class="hs">C</text><text x="388.26" y="37.6" class="hs">G</text><text x="391.68" y="37.6" class="hs">T</text><text x="395.10" y="37.6" class="hs">G</text><text x="398.52" y="37.6" class="hs">A</text><text x="401.94" y="37.6" class="hs">G</text><text x="405.36" y="37.6" class="hs">A</text><text x="408.78" y="37.6" class="hs">G</text><text x="412.20" y="37.6" class="hs">G</text><text x="415.62" y="37.6" class="hs">G</text><text x="419.04" y="37.6" class="hs">C</text><text x="422.46" y="37.6" class="hs">G</text><text x="425.88" y="37.6" class="hs">A</text><text x="429.30" y="37.6" class="hs">G</text><text x="432.72" y="37.6" class="hs">C</text>
<polygon points="342.2,27.4 346.6,27.4 344.4,32.2" fill="#000"/>
<text class="sm" transform="translate(346.3 26) rotate(-90)">353</text>
<polyline points="414.4,34 414.9,32.3 422.3,32.3 422.8,34" fill="none" stroke="#222" stroke-width="0.6"/>
<line x1="418.5" y1="32.3" x2="418.5" y2="28.8" stroke="#222" stroke-width="0.6"/>
<text class="sm" transform="translate(420.0 26.9) rotate(-90)" style="font-size:6.1px">1731-3</text>
</svg></body></html>
